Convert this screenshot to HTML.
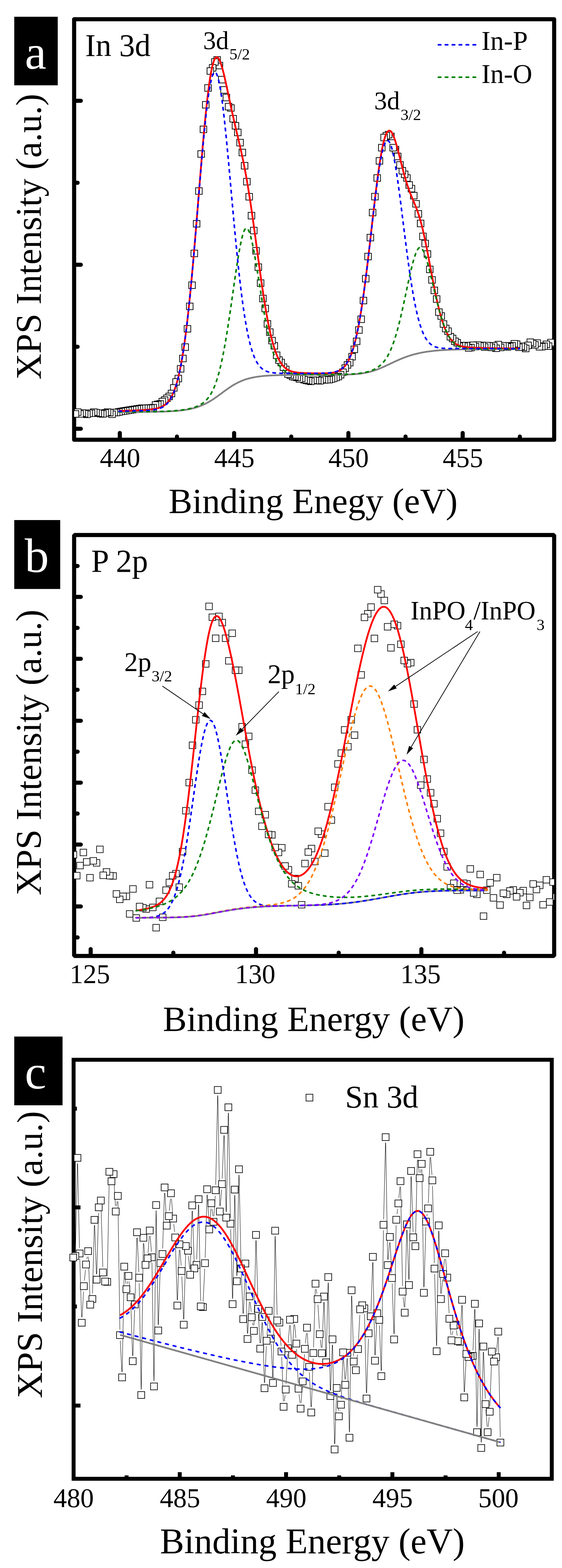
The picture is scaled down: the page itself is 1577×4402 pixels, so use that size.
<!DOCTYPE html>
<html><head><meta charset="utf-8"><style>html,body{margin:0;padding:0;background:#fff}svg{display:block}</style></head>
<body><svg width="1577" height="4402" viewBox="0 0 1577 4402" style="font-family:'Liberation Serif',serif">
<rect width="1577" height="4402" fill="#fff"/>
<defs><clipPath id="ca"><rect x="208" y="54" width="1347" height="1180.6"/></clipPath><clipPath id="cb"><rect x="208" y="1501.9" width="1347" height="1181.8"/></clipPath><clipPath id="cc"><rect x="206.5" y="2975.2" width="1341.8" height="1176.3"/></clipPath></defs>
<rect x="208" y="54" width="1347" height="1180.6" fill="none" stroke="#000" stroke-width="11.5" stroke-linejoin="round"/>
<line x1="211.8" y1="282.9" x2="226.8" y2="282.9" stroke="#000" stroke-width="11.5" stroke-linecap="round"/>
<line x1="211.8" y1="743.3" x2="226.8" y2="743.3" stroke="#000" stroke-width="11.5" stroke-linecap="round"/>
<line x1="211.8" y1="1203.7" x2="226.8" y2="1203.7" stroke="#000" stroke-width="11.5" stroke-linecap="round"/>
<line x1="211.8" y1="513.1" x2="217.8" y2="513.1" stroke="#000" stroke-width="11.5" stroke-linecap="round"/>
<line x1="211.8" y1="973.5" x2="217.8" y2="973.5" stroke="#000" stroke-width="11.5" stroke-linecap="round"/>
<line x1="336.2" y1="1231.0" x2="336.2" y2="1215.5" stroke="#000" stroke-width="11.5" stroke-linecap="round"/>
<line x1="656.9" y1="1231.0" x2="656.9" y2="1215.5" stroke="#000" stroke-width="11.5" stroke-linecap="round"/>
<line x1="977.5999999999999" y1="1231.0" x2="977.5999999999999" y2="1215.5" stroke="#000" stroke-width="11.5" stroke-linecap="round"/>
<line x1="1298.3" y1="1231.0" x2="1298.3" y2="1215.5" stroke="#000" stroke-width="11.5" stroke-linecap="round"/>
<line x1="496.54999999999995" y1="1231.0" x2="496.54999999999995" y2="1225.5" stroke="#000" stroke-width="11.5" stroke-linecap="round"/>
<line x1="817.25" y1="1231.0" x2="817.25" y2="1225.5" stroke="#000" stroke-width="11.5" stroke-linecap="round"/>
<line x1="1137.95" y1="1231.0" x2="1137.95" y2="1225.5" stroke="#000" stroke-width="11.5" stroke-linecap="round"/>
<line x1="1458.65" y1="1231.0" x2="1458.65" y2="1225.5" stroke="#000" stroke-width="11.5" stroke-linecap="round"/>
<g clip-path="url(#ca)">
<rect x="1543.0" y="955.0" width="18.5" height="18.5" fill="#fff" stroke="#000" stroke-width="2"/>
<rect x="1536.7" y="952.5" width="18.5" height="18.5" fill="#fff" stroke="#000" stroke-width="2"/>
<rect x="1530.2" y="962.5" width="18.5" height="18.5" fill="#fff" stroke="#000" stroke-width="2"/>
<rect x="1523.8" y="957.4" width="18.5" height="18.5" fill="#fff" stroke="#000" stroke-width="2"/>
<rect x="1517.3" y="962.6" width="18.5" height="18.5" fill="#fff" stroke="#000" stroke-width="2"/>
<rect x="1511.0" y="964.0" width="18.5" height="18.5" fill="#fff" stroke="#000" stroke-width="2"/>
<rect x="1504.5" y="964.2" width="18.5" height="18.5" fill="#fff" stroke="#000" stroke-width="2"/>
<rect x="1498.2" y="954.0" width="18.5" height="18.5" fill="#fff" stroke="#000" stroke-width="2"/>
<rect x="1491.8" y="959.0" width="18.5" height="18.5" fill="#fff" stroke="#000" stroke-width="2"/>
<rect x="1485.3" y="955.0" width="18.5" height="18.5" fill="#fff" stroke="#000" stroke-width="2"/>
<rect x="1478.8" y="951.5" width="18.5" height="18.5" fill="#fff" stroke="#000" stroke-width="2"/>
<rect x="1472.5" y="960.4" width="18.5" height="18.5" fill="#fff" stroke="#000" stroke-width="2"/>
<rect x="1466.0" y="969.1" width="18.5" height="18.5" fill="#fff" stroke="#000" stroke-width="2"/>
<rect x="1459.7" y="965.5" width="18.5" height="18.5" fill="#fff" stroke="#000" stroke-width="2"/>
<rect x="1453.2" y="963.0" width="18.5" height="18.5" fill="#fff" stroke="#000" stroke-width="2"/>
<rect x="1446.8" y="965.6" width="18.5" height="18.5" fill="#fff" stroke="#000" stroke-width="2"/>
<rect x="1440.5" y="957.0" width="18.5" height="18.5" fill="#fff" stroke="#000" stroke-width="2"/>
<rect x="1434.0" y="955.8" width="18.5" height="18.5" fill="#fff" stroke="#000" stroke-width="2"/>
<rect x="1427.5" y="961.5" width="18.5" height="18.5" fill="#fff" stroke="#000" stroke-width="2"/>
<rect x="1421.2" y="963.0" width="18.5" height="18.5" fill="#fff" stroke="#000" stroke-width="2"/>
<rect x="1414.8" y="964.6" width="18.5" height="18.5" fill="#fff" stroke="#000" stroke-width="2"/>
<rect x="1408.3" y="961.8" width="18.5" height="18.5" fill="#fff" stroke="#000" stroke-width="2"/>
<rect x="1402.0" y="961.6" width="18.5" height="18.5" fill="#fff" stroke="#000" stroke-width="2"/>
<rect x="1395.5" y="966.1" width="18.5" height="18.5" fill="#fff" stroke="#000" stroke-width="2"/>
<rect x="1389.2" y="958.2" width="18.5" height="18.5" fill="#fff" stroke="#000" stroke-width="2"/>
<rect x="1382.7" y="968.5" width="18.5" height="18.5" fill="#fff" stroke="#000" stroke-width="2"/>
<rect x="1376.2" y="961.5" width="18.5" height="18.5" fill="#fff" stroke="#000" stroke-width="2"/>
<rect x="1369.8" y="965.9" width="18.5" height="18.5" fill="#fff" stroke="#000" stroke-width="2"/>
<rect x="1363.5" y="962.1" width="18.5" height="18.5" fill="#fff" stroke="#000" stroke-width="2"/>
<rect x="1357.0" y="961.0" width="18.5" height="18.5" fill="#fff" stroke="#000" stroke-width="2"/>
<rect x="1350.7" y="965.0" width="18.5" height="18.5" fill="#fff" stroke="#000" stroke-width="2"/>
<rect x="1344.2" y="960.6" width="18.5" height="18.5" fill="#fff" stroke="#000" stroke-width="2"/>
<rect x="1337.8" y="962.0" width="18.5" height="18.5" fill="#fff" stroke="#000" stroke-width="2"/>
<rect x="1331.3" y="959.6" width="18.5" height="18.5" fill="#fff" stroke="#000" stroke-width="2"/>
<rect x="1325.0" y="963.8" width="18.5" height="18.5" fill="#fff" stroke="#000" stroke-width="2"/>
<rect x="1318.5" y="960.1" width="18.5" height="18.5" fill="#fff" stroke="#000" stroke-width="2"/>
<rect x="1312.2" y="966.5" width="18.5" height="18.5" fill="#fff" stroke="#000" stroke-width="2"/>
<rect x="1305.8" y="967.5" width="18.5" height="18.5" fill="#fff" stroke="#000" stroke-width="2"/>
<rect x="1299.3" y="960.9" width="18.5" height="18.5" fill="#fff" stroke="#000" stroke-width="2"/>
<rect x="1292.8" y="962.5" width="18.5" height="18.5" fill="#fff" stroke="#000" stroke-width="2"/>
<rect x="1286.5" y="961.0" width="18.5" height="18.5" fill="#fff" stroke="#000" stroke-width="2"/>
<rect x="1280.0" y="962.6" width="18.5" height="18.5" fill="#fff" stroke="#000" stroke-width="2"/>
<rect x="1273.7" y="952.8" width="18.5" height="18.5" fill="#fff" stroke="#000" stroke-width="2"/>
<rect x="1267.2" y="948.8" width="18.5" height="18.5" fill="#fff" stroke="#000" stroke-width="2"/>
<rect x="1260.8" y="941.0" width="18.5" height="18.5" fill="#fff" stroke="#000" stroke-width="2"/>
<rect x="1254.5" y="936.0" width="18.5" height="18.5" fill="#fff" stroke="#000" stroke-width="2"/>
<rect x="1248.0" y="920.5" width="18.5" height="18.5" fill="#fff" stroke="#000" stroke-width="2"/>
<rect x="1241.5" y="913.0" width="18.5" height="18.5" fill="#fff" stroke="#000" stroke-width="2"/>
<rect x="1235.2" y="900.4" width="18.5" height="18.5" fill="#fff" stroke="#000" stroke-width="2"/>
<rect x="1228.8" y="878.0" width="18.5" height="18.5" fill="#fff" stroke="#000" stroke-width="2"/>
<rect x="1222.3" y="867.0" width="18.5" height="18.5" fill="#fff" stroke="#000" stroke-width="2"/>
<rect x="1216.0" y="830.2" width="18.5" height="18.5" fill="#fff" stroke="#000" stroke-width="2"/>
<rect x="1209.5" y="806.0" width="18.5" height="18.5" fill="#fff" stroke="#000" stroke-width="2"/>
<rect x="1203.0" y="776.5" width="18.5" height="18.5" fill="#fff" stroke="#000" stroke-width="2"/>
<rect x="1196.7" y="747.0" width="18.5" height="18.5" fill="#fff" stroke="#000" stroke-width="2"/>
<rect x="1190.2" y="703.9" width="18.5" height="18.5" fill="#fff" stroke="#000" stroke-width="2"/>
<rect x="1183.8" y="674.5" width="18.5" height="18.5" fill="#fff" stroke="#000" stroke-width="2"/>
<rect x="1177.5" y="654.4" width="18.5" height="18.5" fill="#fff" stroke="#000" stroke-width="2"/>
<rect x="1171.0" y="618.1" width="18.5" height="18.5" fill="#fff" stroke="#000" stroke-width="2"/>
<rect x="1164.7" y="591.2" width="18.5" height="18.5" fill="#fff" stroke="#000" stroke-width="2"/>
<rect x="1158.2" y="563.0" width="18.5" height="18.5" fill="#fff" stroke="#000" stroke-width="2"/>
<rect x="1151.8" y="540.0" width="18.5" height="18.5" fill="#fff" stroke="#000" stroke-width="2"/>
<rect x="1145.3" y="520.4" width="18.5" height="18.5" fill="#fff" stroke="#000" stroke-width="2"/>
<rect x="1139.0" y="510.1" width="18.5" height="18.5" fill="#fff" stroke="#000" stroke-width="2"/>
<rect x="1132.5" y="490.4" width="18.5" height="18.5" fill="#fff" stroke="#000" stroke-width="2"/>
<rect x="1126.2" y="480.2" width="18.5" height="18.5" fill="#fff" stroke="#000" stroke-width="2"/>
<rect x="1119.8" y="470.1" width="18.5" height="18.5" fill="#fff" stroke="#000" stroke-width="2"/>
<rect x="1113.2" y="453.8" width="18.5" height="18.5" fill="#fff" stroke="#000" stroke-width="2"/>
<rect x="1106.8" y="429.9" width="18.5" height="18.5" fill="#fff" stroke="#000" stroke-width="2"/>
<rect x="1100.5" y="410.8" width="18.5" height="18.5" fill="#fff" stroke="#000" stroke-width="2"/>
<rect x="1094.0" y="405.4" width="18.5" height="18.5" fill="#fff" stroke="#000" stroke-width="2"/>
<rect x="1087.7" y="373.8" width="18.5" height="18.5" fill="#fff" stroke="#000" stroke-width="2"/>
<rect x="1081.2" y="368.8" width="18.5" height="18.5" fill="#fff" stroke="#000" stroke-width="2"/>
<rect x="1074.8" y="371.8" width="18.5" height="18.5" fill="#fff" stroke="#000" stroke-width="2"/>
<rect x="1068.5" y="376.8" width="18.5" height="18.5" fill="#fff" stroke="#000" stroke-width="2"/>
<rect x="1062.0" y="405.4" width="18.5" height="18.5" fill="#fff" stroke="#000" stroke-width="2"/>
<rect x="1055.5" y="442.4" width="18.5" height="18.5" fill="#fff" stroke="#000" stroke-width="2"/>
<rect x="1049.2" y="490.4" width="18.5" height="18.5" fill="#fff" stroke="#000" stroke-width="2"/>
<rect x="1042.8" y="542.8" width="18.5" height="18.5" fill="#fff" stroke="#000" stroke-width="2"/>
<rect x="1036.3" y="587.5" width="18.5" height="18.5" fill="#fff" stroke="#000" stroke-width="2"/>
<rect x="1030.0" y="657.8" width="18.5" height="18.5" fill="#fff" stroke="#000" stroke-width="2"/>
<rect x="1023.5" y="711.0" width="18.5" height="18.5" fill="#fff" stroke="#000" stroke-width="2"/>
<rect x="1017.0" y="773.1" width="18.5" height="18.5" fill="#fff" stroke="#000" stroke-width="2"/>
<rect x="1010.6" y="834.5" width="18.5" height="18.5" fill="#fff" stroke="#000" stroke-width="2"/>
<rect x="1004.2" y="887.0" width="18.5" height="18.5" fill="#fff" stroke="#000" stroke-width="2"/>
<rect x="997.9" y="917.2" width="18.5" height="18.5" fill="#fff" stroke="#000" stroke-width="2"/>
<rect x="991.5" y="949.1" width="18.5" height="18.5" fill="#fff" stroke="#000" stroke-width="2"/>
<rect x="985.0" y="971.5" width="18.5" height="18.5" fill="#fff" stroke="#000" stroke-width="2"/>
<rect x="978.6" y="992.1" width="18.5" height="18.5" fill="#fff" stroke="#000" stroke-width="2"/>
<rect x="972.1" y="1008.8" width="18.5" height="18.5" fill="#fff" stroke="#000" stroke-width="2"/>
<rect x="965.8" y="1015.2" width="18.5" height="18.5" fill="#fff" stroke="#000" stroke-width="2"/>
<rect x="959.4" y="1024.3" width="18.5" height="18.5" fill="#fff" stroke="#000" stroke-width="2"/>
<rect x="953.0" y="1035.8" width="18.5" height="18.5" fill="#fff" stroke="#000" stroke-width="2"/>
<rect x="946.5" y="1042.8" width="18.5" height="18.5" fill="#fff" stroke="#000" stroke-width="2"/>
<rect x="940.1" y="1047.8" width="18.5" height="18.5" fill="#fff" stroke="#000" stroke-width="2"/>
<rect x="933.8" y="1050.2" width="18.5" height="18.5" fill="#fff" stroke="#000" stroke-width="2"/>
<rect x="927.2" y="1052.8" width="18.5" height="18.5" fill="#fff" stroke="#000" stroke-width="2"/>
<rect x="920.9" y="1054.8" width="18.5" height="18.5" fill="#fff" stroke="#000" stroke-width="2"/>
<rect x="914.5" y="1056.5" width="18.5" height="18.5" fill="#fff" stroke="#000" stroke-width="2"/>
<rect x="908.0" y="1056.8" width="18.5" height="18.5" fill="#fff" stroke="#000" stroke-width="2"/>
<rect x="901.6" y="1057.3" width="18.5" height="18.5" fill="#fff" stroke="#000" stroke-width="2"/>
<rect x="895.2" y="1056.2" width="18.5" height="18.5" fill="#fff" stroke="#000" stroke-width="2"/>
<rect x="888.9" y="1059.8" width="18.5" height="18.5" fill="#fff" stroke="#000" stroke-width="2"/>
<rect x="882.4" y="1058.8" width="18.5" height="18.5" fill="#fff" stroke="#000" stroke-width="2"/>
<rect x="876.0" y="1059.2" width="18.5" height="18.5" fill="#fff" stroke="#000" stroke-width="2"/>
<rect x="869.5" y="1058.2" width="18.5" height="18.5" fill="#fff" stroke="#000" stroke-width="2"/>
<rect x="863.1" y="1061.3" width="18.5" height="18.5" fill="#fff" stroke="#000" stroke-width="2"/>
<rect x="856.8" y="1059.8" width="18.5" height="18.5" fill="#fff" stroke="#000" stroke-width="2"/>
<rect x="850.4" y="1058.7" width="18.5" height="18.5" fill="#fff" stroke="#000" stroke-width="2"/>
<rect x="844.0" y="1056.8" width="18.5" height="18.5" fill="#fff" stroke="#000" stroke-width="2"/>
<rect x="837.5" y="1052.8" width="18.5" height="18.5" fill="#fff" stroke="#000" stroke-width="2"/>
<rect x="831.0" y="1054.5" width="18.5" height="18.5" fill="#fff" stroke="#000" stroke-width="2"/>
<rect x="824.6" y="1050.5" width="18.5" height="18.5" fill="#fff" stroke="#000" stroke-width="2"/>
<rect x="818.2" y="1048.8" width="18.5" height="18.5" fill="#fff" stroke="#000" stroke-width="2"/>
<rect x="811.9" y="1047.8" width="18.5" height="18.5" fill="#fff" stroke="#000" stroke-width="2"/>
<rect x="805.5" y="1043.8" width="18.5" height="18.5" fill="#fff" stroke="#000" stroke-width="2"/>
<rect x="799.0" y="1041.0" width="18.5" height="18.5" fill="#fff" stroke="#000" stroke-width="2"/>
<rect x="792.6" y="1028.0" width="18.5" height="18.5" fill="#fff" stroke="#000" stroke-width="2"/>
<rect x="786.1" y="1021.5" width="18.5" height="18.5" fill="#fff" stroke="#000" stroke-width="2"/>
<rect x="779.8" y="1008.5" width="18.5" height="18.5" fill="#fff" stroke="#000" stroke-width="2"/>
<rect x="773.4" y="1001.6" width="18.5" height="18.5" fill="#fff" stroke="#000" stroke-width="2"/>
<rect x="767.0" y="988.1" width="18.5" height="18.5" fill="#fff" stroke="#000" stroke-width="2"/>
<rect x="760.5" y="961.5" width="18.5" height="18.5" fill="#fff" stroke="#000" stroke-width="2"/>
<rect x="754.1" y="946.9" width="18.5" height="18.5" fill="#fff" stroke="#000" stroke-width="2"/>
<rect x="747.8" y="923.2" width="18.5" height="18.5" fill="#fff" stroke="#000" stroke-width="2"/>
<rect x="741.2" y="900.0" width="18.5" height="18.5" fill="#fff" stroke="#000" stroke-width="2"/>
<rect x="734.9" y="856.9" width="18.5" height="18.5" fill="#fff" stroke="#000" stroke-width="2"/>
<rect x="728.5" y="828.8" width="18.5" height="18.5" fill="#fff" stroke="#000" stroke-width="2"/>
<rect x="722.0" y="785.5" width="18.5" height="18.5" fill="#fff" stroke="#000" stroke-width="2"/>
<rect x="715.6" y="740.8" width="18.5" height="18.5" fill="#fff" stroke="#000" stroke-width="2"/>
<rect x="709.2" y="694.8" width="18.5" height="18.5" fill="#fff" stroke="#000" stroke-width="2"/>
<rect x="702.9" y="638.0" width="18.5" height="18.5" fill="#fff" stroke="#000" stroke-width="2"/>
<rect x="696.4" y="596.2" width="18.5" height="18.5" fill="#fff" stroke="#000" stroke-width="2"/>
<rect x="690.0" y="543.1" width="18.5" height="18.5" fill="#fff" stroke="#000" stroke-width="2"/>
<rect x="683.5" y="500.8" width="18.5" height="18.5" fill="#fff" stroke="#000" stroke-width="2"/>
<rect x="677.1" y="456.1" width="18.5" height="18.5" fill="#fff" stroke="#000" stroke-width="2"/>
<rect x="670.8" y="418.9" width="18.5" height="18.5" fill="#fff" stroke="#000" stroke-width="2"/>
<rect x="664.4" y="391.2" width="18.5" height="18.5" fill="#fff" stroke="#000" stroke-width="2"/>
<rect x="658.0" y="362.6" width="18.5" height="18.5" fill="#fff" stroke="#000" stroke-width="2"/>
<rect x="651.5" y="343.9" width="18.5" height="18.5" fill="#fff" stroke="#000" stroke-width="2"/>
<rect x="645.0" y="324.1" width="18.5" height="18.5" fill="#fff" stroke="#000" stroke-width="2"/>
<rect x="638.6" y="293.8" width="18.5" height="18.5" fill="#fff" stroke="#000" stroke-width="2"/>
<rect x="632.2" y="290.1" width="18.5" height="18.5" fill="#fff" stroke="#000" stroke-width="2"/>
<rect x="625.9" y="264.6" width="18.5" height="18.5" fill="#fff" stroke="#000" stroke-width="2"/>
<rect x="619.5" y="243.2" width="18.5" height="18.5" fill="#fff" stroke="#000" stroke-width="2"/>
<rect x="613.0" y="214.3" width="18.5" height="18.5" fill="#fff" stroke="#000" stroke-width="2"/>
<rect x="606.5" y="174.8" width="18.5" height="18.5" fill="#fff" stroke="#000" stroke-width="2"/>
<rect x="600.1" y="158.9" width="18.5" height="18.5" fill="#fff" stroke="#000" stroke-width="2"/>
<rect x="593.8" y="164.8" width="18.5" height="18.5" fill="#fff" stroke="#000" stroke-width="2"/>
<rect x="587.4" y="181.2" width="18.5" height="18.5" fill="#fff" stroke="#000" stroke-width="2"/>
<rect x="581.0" y="190.1" width="18.5" height="18.5" fill="#fff" stroke="#000" stroke-width="2"/>
<rect x="574.5" y="237.7" width="18.5" height="18.5" fill="#fff" stroke="#000" stroke-width="2"/>
<rect x="568.1" y="284.9" width="18.5" height="18.5" fill="#fff" stroke="#000" stroke-width="2"/>
<rect x="561.6" y="353.9" width="18.5" height="18.5" fill="#fff" stroke="#000" stroke-width="2"/>
<rect x="555.2" y="423.1" width="18.5" height="18.5" fill="#fff" stroke="#000" stroke-width="2"/>
<rect x="548.9" y="527.1" width="18.5" height="18.5" fill="#fff" stroke="#000" stroke-width="2"/>
<rect x="542.5" y="618.9" width="18.5" height="18.5" fill="#fff" stroke="#000" stroke-width="2"/>
<rect x="536.0" y="702.2" width="18.5" height="18.5" fill="#fff" stroke="#000" stroke-width="2"/>
<rect x="529.6" y="791.5" width="18.5" height="18.5" fill="#fff" stroke="#000" stroke-width="2"/>
<rect x="523.2" y="850.8" width="18.5" height="18.5" fill="#fff" stroke="#000" stroke-width="2"/>
<rect x="516.8" y="913.8" width="18.5" height="18.5" fill="#fff" stroke="#000" stroke-width="2"/>
<rect x="510.4" y="965.2" width="18.5" height="18.5" fill="#fff" stroke="#000" stroke-width="2"/>
<rect x="504.0" y="997.2" width="18.5" height="18.5" fill="#fff" stroke="#000" stroke-width="2"/>
<rect x="497.6" y="1026.2" width="18.5" height="18.5" fill="#fff" stroke="#000" stroke-width="2"/>
<rect x="491.1" y="1053.5" width="18.5" height="18.5" fill="#fff" stroke="#000" stroke-width="2"/>
<rect x="484.8" y="1063.0" width="18.5" height="18.5" fill="#fff" stroke="#000" stroke-width="2"/>
<rect x="478.4" y="1079.8" width="18.5" height="18.5" fill="#fff" stroke="#000" stroke-width="2"/>
<rect x="471.9" y="1095.5" width="18.5" height="18.5" fill="#fff" stroke="#000" stroke-width="2"/>
<rect x="465.4" y="1103.7" width="18.5" height="18.5" fill="#fff" stroke="#000" stroke-width="2"/>
<rect x="459.1" y="1108.8" width="18.5" height="18.5" fill="#fff" stroke="#000" stroke-width="2"/>
<rect x="452.6" y="1114.0" width="18.5" height="18.5" fill="#fff" stroke="#000" stroke-width="2"/>
<rect x="446.2" y="1118.2" width="18.5" height="18.5" fill="#fff" stroke="#000" stroke-width="2"/>
<rect x="439.9" y="1124.7" width="18.5" height="18.5" fill="#fff" stroke="#000" stroke-width="2"/>
<rect x="433.4" y="1126.0" width="18.5" height="18.5" fill="#fff" stroke="#000" stroke-width="2"/>
<rect x="427.1" y="1127.8" width="18.5" height="18.5" fill="#fff" stroke="#000" stroke-width="2"/>
<rect x="420.6" y="1135.2" width="18.5" height="18.5" fill="#fff" stroke="#000" stroke-width="2"/>
<rect x="414.1" y="1136.0" width="18.5" height="18.5" fill="#fff" stroke="#000" stroke-width="2"/>
<rect x="407.8" y="1136.5" width="18.5" height="18.5" fill="#fff" stroke="#000" stroke-width="2"/>
<rect x="401.4" y="1136.8" width="18.5" height="18.5" fill="#fff" stroke="#000" stroke-width="2"/>
<rect x="394.9" y="1136.8" width="18.5" height="18.5" fill="#fff" stroke="#000" stroke-width="2"/>
<rect x="388.6" y="1136.8" width="18.5" height="18.5" fill="#fff" stroke="#000" stroke-width="2"/>
<rect x="382.1" y="1137.8" width="18.5" height="18.5" fill="#fff" stroke="#000" stroke-width="2"/>
<rect x="375.6" y="1138.8" width="18.5" height="18.5" fill="#fff" stroke="#000" stroke-width="2"/>
<rect x="369.2" y="1139.8" width="18.5" height="18.5" fill="#fff" stroke="#000" stroke-width="2"/>
<rect x="362.9" y="1140.8" width="18.5" height="18.5" fill="#fff" stroke="#000" stroke-width="2"/>
<rect x="356.4" y="1141.8" width="18.5" height="18.5" fill="#fff" stroke="#000" stroke-width="2"/>
<rect x="350.1" y="1142.8" width="18.5" height="18.5" fill="#fff" stroke="#000" stroke-width="2"/>
<rect x="343.6" y="1143.8" width="18.5" height="18.5" fill="#fff" stroke="#000" stroke-width="2"/>
<rect x="337.2" y="1144.8" width="18.5" height="18.5" fill="#fff" stroke="#000" stroke-width="2"/>
<rect x="330.8" y="1145.8" width="18.5" height="18.5" fill="#fff" stroke="#000" stroke-width="2"/>
<rect x="324.4" y="1147.2" width="18.5" height="18.5" fill="#fff" stroke="#000" stroke-width="2"/>
<rect x="317.9" y="1148.8" width="18.5" height="18.5" fill="#fff" stroke="#000" stroke-width="2"/>
<rect x="311.6" y="1148.8" width="18.5" height="18.5" fill="#fff" stroke="#000" stroke-width="2"/>
<rect x="305.1" y="1153.7" width="18.5" height="18.5" fill="#fff" stroke="#000" stroke-width="2"/>
<rect x="298.8" y="1149.2" width="18.5" height="18.5" fill="#fff" stroke="#000" stroke-width="2"/>
<rect x="292.4" y="1147.8" width="18.5" height="18.5" fill="#fff" stroke="#000" stroke-width="2"/>
<rect x="285.9" y="1150.0" width="18.5" height="18.5" fill="#fff" stroke="#000" stroke-width="2"/>
<rect x="279.4" y="1152.8" width="18.5" height="18.5" fill="#fff" stroke="#000" stroke-width="2"/>
<rect x="273.1" y="1152.0" width="18.5" height="18.5" fill="#fff" stroke="#000" stroke-width="2"/>
<rect x="266.6" y="1150.8" width="18.5" height="18.5" fill="#fff" stroke="#000" stroke-width="2"/>
<rect x="260.2" y="1149.2" width="18.5" height="18.5" fill="#fff" stroke="#000" stroke-width="2"/>
<rect x="253.9" y="1147.8" width="18.5" height="18.5" fill="#fff" stroke="#000" stroke-width="2"/>
<rect x="247.4" y="1150.8" width="18.5" height="18.5" fill="#fff" stroke="#000" stroke-width="2"/>
<rect x="240.9" y="1151.0" width="18.5" height="18.5" fill="#fff" stroke="#000" stroke-width="2"/>
<rect x="234.6" y="1154.0" width="18.5" height="18.5" fill="#fff" stroke="#000" stroke-width="2"/>
<rect x="228.2" y="1152.3" width="18.5" height="18.5" fill="#fff" stroke="#000" stroke-width="2"/>
<rect x="221.8" y="1150.3" width="18.5" height="18.5" fill="#fff" stroke="#000" stroke-width="2"/>
<rect x="215.3" y="1152.8" width="18.5" height="18.5" fill="#fff" stroke="#000" stroke-width="2"/>
<rect x="208.9" y="1147.8" width="18.5" height="18.5" fill="#fff" stroke="#000" stroke-width="2"/>
<rect x="202.6" y="1152.8" width="18.5" height="18.5" fill="#fff" stroke="#000" stroke-width="2"/>
</g>
<path d="M334.0,1156.6 L336.0,1156.6 L338.0,1156.6 L340.0,1156.6 L342.0,1156.6 L344.0,1156.6 L346.0,1156.6 L348.0,1156.6 L350.0,1156.6 L352.0,1156.6 L354.0,1156.6 L356.0,1156.6 L358.0,1156.6 L360.0,1156.6 L362.0,1156.6 L364.0,1156.6 L366.0,1156.6 L368.0,1156.6 L370.0,1156.5 L372.0,1156.5 L374.0,1156.5 L376.0,1156.5 L378.0,1156.5 L380.0,1156.5 L382.0,1156.5 L384.0,1156.5 L386.0,1156.5 L388.0,1156.5 L390.0,1156.5 L392.0,1156.5 L394.0,1156.4 L396.0,1156.4 L398.0,1156.4 L400.0,1156.4 L402.0,1156.4 L404.0,1156.4 L406.0,1156.4 L408.0,1156.3 L410.0,1156.3 L412.0,1156.3 L414.0,1156.3 L416.0,1156.3 L418.0,1156.2 L420.0,1156.2 L422.0,1156.2 L424.0,1156.2 L426.0,1156.2 L428.0,1156.1 L430.0,1156.1 L432.0,1156.1 L434.0,1156.0 L436.0,1156.0 L438.0,1156.0 L440.0,1155.9 L442.0,1155.9 L444.0,1155.8 L446.0,1155.8 L448.0,1155.7 L450.0,1155.7 L452.0,1155.6 L454.0,1155.6 L456.0,1155.5 L458.0,1155.5 L460.0,1155.4 L462.0,1155.3 L464.0,1155.3 L466.0,1155.2 L468.0,1155.1 L470.0,1155.0 L472.0,1154.9 L474.0,1154.8 L476.0,1154.7 L478.0,1154.6 L480.0,1154.5 L482.0,1154.4 L484.0,1154.3 L486.0,1154.2 L488.0,1154.0 L490.0,1153.9 L492.0,1153.7 L494.0,1153.6 L496.0,1153.4 L498.0,1153.3 L500.0,1153.1 L502.0,1152.9 L504.0,1152.7 L506.0,1152.5 L508.0,1152.2 L510.0,1152.0 L512.0,1151.8 L514.0,1151.5 L516.0,1151.2 L518.0,1150.9 L520.0,1150.6 L522.0,1150.3 L524.0,1150.0 L526.0,1149.7 L528.0,1149.3 L530.0,1148.9 L532.0,1148.5 L534.0,1148.1 L536.0,1147.7 L538.0,1147.2 L540.0,1146.7 L542.0,1146.2 L544.0,1145.7 L546.0,1145.1 L548.0,1144.6 L550.0,1144.0 L552.0,1143.4 L554.0,1142.7 L556.0,1142.0 L558.0,1141.3 L560.0,1140.6 L562.0,1139.8 L564.0,1139.0 L566.0,1138.2 L568.0,1137.4 L570.0,1136.5 L572.0,1135.6 L574.0,1134.6 L576.0,1133.7 L578.0,1132.6 L580.0,1131.6 L582.0,1130.5 L584.0,1129.4 L586.0,1128.3 L588.0,1127.1 L590.0,1125.9 L592.0,1124.7 L594.0,1123.5 L596.0,1122.2 L598.0,1120.9 L600.0,1119.5 L602.0,1118.2 L604.0,1116.8 L606.0,1115.4 L608.0,1114.0 L610.0,1112.6 L612.0,1111.1 L614.0,1109.7 L616.0,1108.2 L618.0,1106.7 L620.0,1105.3 L622.0,1103.8 L624.0,1102.3 L626.0,1100.8 L628.0,1099.4 L630.0,1097.9 L632.0,1096.4 L634.0,1095.0 L636.0,1093.6 L638.0,1092.1 L640.0,1090.7 L642.0,1089.4 L644.0,1088.0 L646.0,1086.7 L648.0,1085.4 L650.0,1084.1 L652.0,1082.8 L654.0,1081.6 L656.0,1080.4 L658.0,1079.2 L660.0,1078.1 L662.0,1077.0 L664.0,1075.9 L666.0,1074.9 L668.0,1073.9 L670.0,1072.9 L672.0,1072.0 L674.0,1071.1 L676.0,1070.2 L678.0,1069.4 L680.0,1068.5 L682.0,1067.8 L684.0,1067.0 L686.0,1066.3 L688.0,1065.6 L690.0,1064.9 L692.0,1064.3 L694.0,1063.7 L696.0,1063.1 L698.0,1062.6 L700.0,1062.1 L702.0,1061.6 L704.0,1061.1 L706.0,1060.6 L708.0,1060.2 L710.0,1059.8 L712.0,1059.4 L714.0,1059.0 L716.0,1058.6 L718.0,1058.3 L720.0,1058.0 L722.0,1057.7 L724.0,1057.4 L726.0,1057.1 L728.0,1056.8 L730.0,1056.6 L732.0,1056.4 L734.0,1056.1 L736.0,1055.9 L738.0,1055.7 L740.0,1055.5 L742.0,1055.4 L744.0,1055.2 L746.0,1055.0 L748.0,1054.9 L750.0,1054.7 L752.0,1054.6 L754.0,1054.5 L756.0,1054.3 L758.0,1054.2 L760.0,1054.1 L762.0,1054.0 L764.0,1053.9 L766.0,1053.8 L768.0,1053.7 L770.0,1053.7 L772.0,1053.6 L774.0,1053.5 L776.0,1053.4 L778.0,1053.4 L780.0,1053.3 L782.0,1053.2 L784.0,1053.2 L786.0,1053.1 L788.0,1053.1 L790.0,1053.0 L792.0,1053.0 L794.0,1053.0 L796.0,1052.9 L798.0,1052.9 L800.0,1052.8 L802.0,1052.8 L804.0,1052.8 L806.0,1052.7 L808.0,1052.7 L810.0,1052.7 L812.0,1052.7 L814.0,1052.6 L816.0,1052.6 L818.0,1052.6 L820.0,1052.6 L822.0,1052.6 L824.0,1052.5 L826.0,1052.5 L828.0,1052.5 L830.0,1052.5 L832.0,1052.5 L834.0,1052.5 L836.0,1052.5 L838.0,1052.5 L840.0,1052.4 L842.0,1052.4 L844.0,1052.4 L846.0,1052.4 L848.0,1052.4 L850.0,1052.4 L852.0,1052.4 L854.0,1052.4 L856.0,1052.4 L858.0,1052.4 L860.0,1052.4 L862.0,1052.4 L864.0,1052.3 L866.0,1052.3 L868.0,1052.3 L870.0,1052.3 L872.0,1052.3 L874.0,1052.3 L876.0,1052.3 L878.0,1052.3 L880.0,1052.3 L882.0,1052.3 L884.0,1052.3 L886.0,1052.3 L888.0,1052.3 L890.0,1052.3 L892.0,1052.3 L894.0,1052.3 L896.0,1052.3 L898.0,1052.3 L900.0,1052.3 L902.0,1052.3 L904.0,1052.3 L906.0,1052.3 L908.0,1052.3 L910.0,1052.2 L912.0,1052.2 L914.0,1052.2 L916.0,1052.2 L918.0,1052.2 L920.0,1052.2 L922.0,1052.2 L924.0,1052.2 L926.0,1052.2 L928.0,1052.2 L930.0,1052.2 L932.0,1052.2 L934.0,1052.2 L936.0,1052.2 L938.0,1052.1 L940.0,1052.1 L942.0,1052.1 L944.0,1052.1 L946.0,1052.1 L948.0,1052.1 L950.0,1052.0 L952.0,1052.0 L954.0,1052.0 L956.0,1052.0 L958.0,1051.9 L960.0,1051.9 L962.0,1051.9 L964.0,1051.8 L966.0,1051.8 L968.0,1051.7 L970.0,1051.7 L972.0,1051.6 L974.0,1051.5 L976.0,1051.5 L978.0,1051.4 L980.0,1051.3 L982.0,1051.2 L984.0,1051.1 L986.0,1051.0 L988.0,1050.9 L990.0,1050.8 L992.0,1050.7 L994.0,1050.6 L996.0,1050.4 L998.0,1050.2 L1000.0,1050.1 L1002.0,1049.9 L1004.0,1049.7 L1006.0,1049.5 L1008.0,1049.3 L1010.0,1049.0 L1012.0,1048.8 L1014.0,1048.5 L1016.0,1048.2 L1018.0,1047.9 L1020.0,1047.6 L1022.0,1047.2 L1024.0,1046.9 L1026.0,1046.5 L1028.0,1046.1 L1030.0,1045.7 L1032.0,1045.2 L1034.0,1044.8 L1036.0,1044.3 L1038.0,1043.8 L1040.0,1043.2 L1042.0,1042.7 L1044.0,1042.1 L1046.0,1041.5 L1048.0,1040.9 L1050.0,1040.2 L1052.0,1039.6 L1054.0,1038.9 L1056.0,1038.2 L1058.0,1037.4 L1060.0,1036.7 L1062.0,1035.9 L1064.0,1035.1 L1066.0,1034.3 L1068.0,1033.5 L1070.0,1032.6 L1072.0,1031.8 L1074.0,1030.9 L1076.0,1030.0 L1078.0,1029.1 L1080.0,1028.2 L1082.0,1027.3 L1084.0,1026.4 L1086.0,1025.4 L1088.0,1024.5 L1090.0,1023.6 L1092.0,1022.6 L1094.0,1021.7 L1096.0,1020.7 L1098.0,1019.8 L1100.0,1018.8 L1102.0,1017.9 L1104.0,1016.9 L1106.0,1016.0 L1108.0,1015.1 L1110.0,1014.2 L1112.0,1013.2 L1114.0,1012.3 L1116.0,1011.5 L1118.0,1010.6 L1120.0,1009.7 L1122.0,1008.8 L1124.0,1008.0 L1126.0,1007.2 L1128.0,1006.3 L1130.0,1005.5 L1132.0,1004.8 L1134.0,1004.0 L1136.0,1003.2 L1138.0,1002.5 L1140.0,1001.7 L1142.0,1001.0 L1144.0,1000.3 L1146.0,999.7 L1148.0,999.0 L1150.0,998.4 L1152.0,997.7 L1154.0,997.1 L1156.0,996.5 L1158.0,995.9 L1160.0,995.4 L1162.0,994.8 L1164.0,994.3 L1166.0,993.8 L1168.0,993.3 L1170.0,992.8 L1172.0,992.3 L1174.0,991.9 L1176.0,991.4 L1178.0,991.0 L1180.0,990.6 L1182.0,990.2 L1184.0,989.8 L1186.0,989.4 L1188.0,989.1 L1190.0,988.7 L1192.0,988.4 L1194.0,988.1 L1196.0,987.7 L1198.0,987.4 L1200.0,987.1 L1202.0,986.9 L1204.0,986.6 L1206.0,986.3 L1208.0,986.1 L1210.0,985.8 L1212.0,985.6 L1214.0,985.4 L1216.0,985.2 L1218.0,984.9 L1220.0,984.7 L1222.0,984.5 L1224.0,984.4 L1226.0,984.2 L1228.0,984.0 L1230.0,983.8 L1232.0,983.7 L1234.0,983.5 L1236.0,983.4 L1238.0,983.2 L1240.0,983.1 L1242.0,983.0 L1244.0,982.8 L1246.0,982.7 L1248.0,982.6 L1250.0,982.5 L1252.0,982.4 L1254.0,982.3 L1256.0,982.2 L1258.0,982.1 L1260.0,982.0 L1262.0,981.9 L1264.0,981.8 L1266.0,981.7 L1268.0,981.7 L1270.0,981.6 L1272.0,981.5 L1274.0,981.4 L1276.0,981.4 L1278.0,981.3 L1280.0,981.3 L1282.0,981.2 L1284.0,981.1 L1286.0,981.1 L1288.0,981.0 L1290.0,981.0 L1292.0,980.9 L1294.0,980.9 L1296.0,980.9 L1298.0,980.8 L1300.0,980.8 L1302.0,980.7 L1304.0,980.7 L1306.0,980.7 L1308.0,980.6 L1310.0,980.6 L1312.0,980.6 L1314.0,980.5 L1316.0,980.5 L1318.0,980.5 L1320.0,980.4 L1322.0,980.4 L1324.0,980.4 L1326.0,980.4 L1328.0,980.4 L1330.0,980.3 L1332.0,980.3 L1334.0,980.3 L1336.0,980.3 L1338.0,980.3 L1340.0,980.2 L1342.0,980.2 L1344.0,980.2 L1346.0,980.2 L1348.0,980.2 L1350.0,980.2 L1352.0,980.1 L1354.0,980.1 L1356.0,980.1 L1358.0,980.1 L1360.0,980.1 L1362.0,980.1 L1364.0,980.1 L1366.0,980.1 L1368.0,980.1 L1370.0,980.0 L1372.0,980.0 L1374.0,980.0 L1376.0,980.0 L1378.0,980.0 L1380.0,980.0 L1382.0,980.0 L1384.0,980.0 L1386.0,980.0 L1388.0,980.0 L1390.0,980.0 L1392.0,980.0 L1394.0,980.0 L1396.0,980.0 L1398.0,979.9 L1400.0,979.9 L1402.0,979.9 L1404.0,979.9 L1406.0,979.9 L1408.0,979.9 L1410.0,979.9 L1412.0,979.9 L1414.0,979.9 L1416.0,979.9 L1418.0,979.9 L1420.0,979.9 L1422.0,979.9 L1424.0,979.9 L1426.0,979.9 L1428.0,979.9 L1430.0,979.9 L1432.0,979.9 L1434.0,979.9 L1436.0,979.9 L1438.0,979.9 L1440.0,979.9 L1442.0,979.9 L1444.0,979.9 L1446.0,979.9 L1448.0,979.9 L1450.0,979.9 L1452.0,979.9 L1454.0,979.9 L1456.0,979.9 L1458.0,979.9" fill="none" stroke="#808080" stroke-width="4.8"/>
<path d="M334.0,1153.6 L336.0,1153.5 L338.0,1153.5 L340.0,1153.4 L342.0,1153.4 L344.0,1153.4 L346.0,1153.3 L348.0,1153.3 L350.0,1153.2 L352.0,1153.1 L354.0,1153.1 L356.0,1153.0 L358.0,1153.0 L360.0,1152.9 L362.0,1152.9 L364.0,1152.8 L366.0,1152.7 L368.0,1152.7 L370.0,1152.6 L372.0,1152.5 L374.0,1152.5 L376.0,1152.4 L378.0,1152.3 L380.0,1152.2 L382.0,1152.1 L384.0,1152.1 L386.0,1152.0 L388.0,1151.9 L390.0,1151.8 L392.0,1151.7 L394.0,1151.6 L396.0,1151.5 L398.0,1151.4 L400.0,1151.3 L402.0,1151.2 L404.0,1151.0 L406.0,1150.9 L408.0,1150.8 L410.0,1150.6 L412.0,1150.5 L414.0,1150.3 L416.0,1150.1 L418.0,1149.9 L420.0,1149.8 L422.0,1149.5 L424.0,1149.3 L426.0,1149.1 L428.0,1148.8 L430.0,1148.5 L432.0,1148.2 L434.0,1147.9 L436.0,1147.5 L438.0,1147.1 L440.0,1146.6 L442.0,1146.1 L444.0,1145.6 L446.0,1144.9 L448.0,1144.3 L450.0,1143.5 L452.0,1142.7 L454.0,1141.8 L456.0,1140.8 L458.0,1139.6 L460.0,1138.4 L462.0,1137.0 L464.0,1135.4 L466.0,1133.7 L468.0,1131.9 L470.0,1129.8 L472.0,1127.5 L474.0,1125.0 L476.0,1122.2 L478.0,1119.1 L480.0,1115.8 L482.0,1112.1 L484.0,1108.0 L486.0,1103.6 L488.0,1098.8 L490.0,1093.6 L492.0,1087.9 L494.0,1081.8 L496.0,1075.1 L498.0,1067.9 L500.0,1060.1 L502.0,1051.8 L504.0,1042.8 L506.0,1033.1 L508.0,1022.9 L510.0,1011.9 L512.0,1000.2 L514.0,987.7 L516.0,974.6 L518.0,960.6 L520.0,946.0 L522.0,930.5 L524.0,914.3 L526.0,897.2 L528.0,879.5 L530.0,860.9 L532.0,841.7 L534.0,821.7 L536.0,801.1 L538.0,779.8 L540.0,757.8 L542.0,735.4 L544.0,712.4 L546.0,688.9 L548.0,665.0 L550.0,640.8 L552.0,616.4 L554.0,591.7 L556.0,566.9 L558.0,542.2 L560.0,517.4 L562.0,492.9 L564.0,468.5 L566.0,444.5 L568.0,421.0 L570.0,397.9 L572.0,375.5 L574.0,353.8 L576.0,333.0 L578.0,313.0 L580.0,293.9 L582.0,276.0 L584.0,259.2 L586.0,243.6 L588.0,229.2 L590.0,216.1 L592.0,204.4 L594.0,194.1 L596.0,185.2 L598.0,177.6 L600.0,171.5 L602.0,166.8 L604.0,163.4 L606.0,161.3 L608.0,160.6 L610.0,161.0 L612.0,162.6 L614.0,165.3 L616.0,169.0 L618.0,173.7 L620.0,179.1 L622.0,185.4 L624.0,192.3 L626.0,199.7 L628.0,207.7 L630.0,216.1 L632.0,224.9 L634.0,233.9 L636.0,243.1 L638.0,252.5 L640.0,261.9 L642.0,271.4 L644.0,280.8 L646.0,290.2 L648.0,299.5 L650.0,308.7 L652.0,317.9 L654.0,326.8 L656.0,335.7 L658.0,344.5 L660.0,353.1 L662.0,361.7 L664.0,370.2 L666.0,378.7 L668.0,387.2 L670.0,395.8 L672.0,404.4 L674.0,413.1 L676.0,422.0 L678.0,431.0 L680.0,440.3 L682.0,449.8 L684.0,459.6 L686.0,469.7 L688.0,480.2 L690.0,491.0 L692.0,502.2 L694.0,513.7 L696.0,525.6 L698.0,537.9 L700.0,550.6 L702.0,563.6 L704.0,576.9 L706.0,590.5 L708.0,604.4 L710.0,618.6 L712.0,632.9 L714.0,647.4 L716.0,662.1 L718.0,676.9 L720.0,691.7 L722.0,706.5 L724.0,721.3 L726.0,736.0 L728.0,750.6 L730.0,765.1 L732.0,779.3 L734.0,793.3 L736.0,807.0 L738.0,820.5 L740.0,833.6 L742.0,846.3 L744.0,858.6 L746.0,870.6 L748.0,882.1 L750.0,893.1 L752.0,903.7 L754.0,913.9 L756.0,923.6 L758.0,932.8 L760.0,941.5 L762.0,949.7 L764.0,957.5 L766.0,964.8 L768.0,971.7 L770.0,978.2 L772.0,984.2 L774.0,989.8 L776.0,995.0 L778.0,999.8 L780.0,1004.3 L782.0,1008.4 L784.0,1012.2 L786.0,1015.6 L788.0,1018.8 L790.0,1021.7 L792.0,1024.4 L794.0,1026.8 L796.0,1029.0 L798.0,1030.9 L800.0,1032.7 L802.0,1034.4 L804.0,1035.8 L806.0,1037.1 L808.0,1038.3 L810.0,1039.3 L812.0,1040.3 L814.0,1041.1 L816.0,1041.9 L818.0,1042.5 L820.0,1043.1 L822.0,1043.7 L824.0,1044.1 L826.0,1044.5 L828.0,1044.9 L830.0,1045.2 L832.0,1045.5 L834.0,1045.8 L836.0,1046.0 L838.0,1046.2 L840.0,1046.4 L842.0,1046.6 L844.0,1046.7 L846.0,1046.9 L848.0,1047.0 L850.0,1047.1 L852.0,1047.2 L854.0,1047.3 L856.0,1047.4 L858.0,1047.5 L860.0,1047.5 L862.0,1047.6 L864.0,1047.6 L866.0,1047.7 L868.0,1047.8 L870.0,1047.8 L872.0,1047.8 L874.0,1047.9 L876.0,1047.9 L878.0,1048.0 L880.0,1048.0 L882.0,1048.0 L884.0,1048.1 L886.0,1048.1 L888.0,1048.1 L890.0,1048.1 L892.0,1048.1 L894.0,1048.1 L896.0,1048.2 L898.0,1048.2 L900.0,1048.2 L902.0,1048.2 L904.0,1048.1 L906.0,1048.1 L908.0,1048.1 L910.0,1048.1 L912.0,1048.0 L914.0,1048.0 L916.0,1047.9 L918.0,1047.8 L920.0,1047.7 L922.0,1047.6 L924.0,1047.4 L926.0,1047.3 L928.0,1047.1 L930.0,1046.8 L932.0,1046.6 L934.0,1046.3 L936.0,1045.9 L938.0,1045.5 L940.0,1045.0 L942.0,1044.5 L944.0,1043.9 L946.0,1043.2 L948.0,1042.5 L950.0,1041.6 L952.0,1040.6 L954.0,1039.5 L956.0,1038.3 L958.0,1036.9 L960.0,1035.4 L962.0,1033.7 L964.0,1031.8 L966.0,1029.7 L968.0,1027.4 L970.0,1024.8 L972.0,1022.0 L974.0,1018.9 L976.0,1015.5 L978.0,1011.8 L980.0,1007.7 L982.0,1003.3 L984.0,998.5 L986.0,993.3 L988.0,987.7 L990.0,981.7 L992.0,975.1 L994.0,968.1 L996.0,960.6 L998.0,952.6 L1000.0,944.1 L1002.0,935.0 L1004.0,925.4 L1006.0,915.2 L1008.0,904.4 L1010.0,893.1 L1012.0,881.2 L1014.0,868.8 L1016.0,855.7 L1018.0,842.2 L1020.0,828.1 L1022.0,813.5 L1024.0,798.5 L1026.0,782.9 L1028.0,767.0 L1030.0,750.6 L1032.0,734.0 L1034.0,717.0 L1036.0,699.8 L1038.0,682.3 L1040.0,664.8 L1042.0,647.1 L1044.0,629.5 L1046.0,611.9 L1048.0,594.4 L1050.0,577.1 L1052.0,560.1 L1054.0,543.4 L1056.0,527.1 L1058.0,511.3 L1060.0,496.0 L1062.0,481.4 L1064.0,467.4 L1066.0,454.1 L1068.0,441.7 L1070.0,430.0 L1072.0,419.3 L1074.0,409.5 L1076.0,400.7 L1078.0,392.8 L1080.0,386.0 L1082.0,380.2 L1084.0,375.4 L1086.0,371.7 L1088.0,369.0 L1090.0,367.4 L1092.0,366.7 L1094.0,367.0 L1096.0,368.2 L1098.0,370.3 L1100.0,373.2 L1102.0,377.0 L1104.0,381.4 L1106.0,386.5 L1108.0,392.2 L1110.0,398.4 L1112.0,405.1 L1114.0,412.2 L1116.0,419.5 L1118.0,427.2 L1120.0,435.0 L1122.0,442.9 L1124.0,450.8 L1126.0,458.8 L1128.0,466.6 L1130.0,474.4 L1132.0,482.0 L1134.0,489.4 L1136.0,496.5 L1138.0,503.5 L1140.0,510.1 L1142.0,516.5 L1144.0,522.6 L1146.0,528.5 L1148.0,534.1 L1150.0,539.4 L1152.0,544.6 L1154.0,549.6 L1156.0,554.4 L1158.0,559.2 L1160.0,563.9 L1162.0,568.7 L1164.0,573.5 L1166.0,578.4 L1168.0,583.5 L1170.0,588.8 L1172.0,594.3 L1174.0,600.2 L1176.0,606.4 L1178.0,613.0 L1180.0,620.0 L1182.0,627.4 L1184.0,635.2 L1186.0,643.4 L1188.0,652.0 L1190.0,660.9 L1192.0,670.2 L1194.0,679.8 L1196.0,689.7 L1198.0,699.8 L1200.0,710.1 L1202.0,720.6 L1204.0,731.2 L1206.0,741.8 L1208.0,752.5 L1210.0,763.1 L1212.0,773.7 L1214.0,784.1 L1216.0,794.5 L1218.0,804.6 L1220.0,814.6 L1222.0,824.3 L1224.0,833.7 L1226.0,842.9 L1228.0,851.8 L1230.0,860.3 L1232.0,868.5 L1234.0,876.3 L1236.0,883.8 L1238.0,890.9 L1240.0,897.6 L1242.0,904.0 L1244.0,910.0 L1246.0,915.6 L1248.0,920.9 L1250.0,925.8 L1252.0,930.4 L1254.0,934.6 L1256.0,938.5 L1258.0,942.2 L1260.0,945.5 L1262.0,948.6 L1264.0,951.4 L1266.0,953.9 L1268.0,956.2 L1270.0,958.3 L1272.0,960.2 L1274.0,962.0 L1276.0,963.5 L1278.0,964.9 L1280.0,966.2 L1282.0,967.3 L1284.0,968.3 L1286.0,969.2 L1288.0,970.0 L1290.0,970.7 L1292.0,971.4 L1294.0,971.9 L1296.0,972.4 L1298.0,972.9 L1300.0,973.3 L1302.0,973.6 L1304.0,974.0 L1306.0,974.2 L1308.0,974.5 L1310.0,974.7 L1312.0,974.9 L1314.0,975.1 L1316.0,975.3 L1318.0,975.4 L1320.0,975.6 L1322.0,975.7 L1324.0,975.8 L1326.0,975.9 L1328.0,976.0 L1330.0,976.1 L1332.0,976.2 L1334.0,976.3 L1336.0,976.4 L1338.0,976.4 L1340.0,976.5 L1342.0,976.6 L1344.0,976.6 L1346.0,976.7 L1348.0,976.7 L1350.0,976.8 L1352.0,976.9 L1354.0,976.9 L1356.0,977.0 L1358.0,977.0 L1360.0,977.1 L1362.0,977.1 L1364.0,977.1 L1366.0,977.2 L1368.0,977.2 L1370.0,977.3 L1372.0,977.3 L1374.0,977.3 L1376.0,977.4 L1378.0,977.4 L1380.0,977.5 L1382.0,977.5 L1384.0,977.5 L1386.0,977.6 L1388.0,977.6 L1390.0,977.6 L1392.0,977.7 L1394.0,977.7 L1396.0,977.7 L1398.0,977.7 L1400.0,977.8 L1402.0,977.8 L1404.0,977.8 L1406.0,977.9 L1408.0,977.9 L1410.0,977.9 L1412.0,977.9 L1414.0,978.0 L1416.0,978.0 L1418.0,978.0 L1420.0,978.0 L1422.0,978.1 L1424.0,978.1 L1426.0,978.1 L1428.0,978.1 L1430.0,978.1 L1432.0,978.2 L1434.0,978.2 L1436.0,978.2 L1438.0,978.2 L1440.0,978.2 L1442.0,978.3 L1444.0,978.3 L1446.0,978.3 L1448.0,978.3 L1450.0,978.3 L1452.0,978.3 L1454.0,978.4 L1456.0,978.4 L1458.0,978.4" fill="none" stroke="#ff0000" stroke-width="5"/>
<path d="M334.0,1156.4 L336.0,1156.3 L338.0,1156.3 L340.0,1156.3 L342.0,1156.3 L344.0,1156.3 L346.0,1156.3 L348.0,1156.3 L350.0,1156.3 L352.0,1156.3 L354.0,1156.3 L356.0,1156.3 L358.0,1156.3 L360.0,1156.3 L362.0,1156.3 L364.0,1156.3 L366.0,1156.2 L368.0,1156.2 L370.0,1156.2 L372.0,1156.2 L374.0,1156.2 L376.0,1156.2 L378.0,1156.2 L380.0,1156.2 L382.0,1156.2 L384.0,1156.1 L386.0,1156.1 L388.0,1156.1 L390.0,1156.1 L392.0,1156.1 L394.0,1156.1 L396.0,1156.1 L398.0,1156.0 L400.0,1156.0 L402.0,1156.0 L404.0,1156.0 L406.0,1156.0 L408.0,1155.9 L410.0,1155.9 L412.0,1155.9 L414.0,1155.9 L416.0,1155.8 L418.0,1155.8 L420.0,1155.8 L422.0,1155.8 L424.0,1155.7 L426.0,1155.7 L428.0,1155.7 L430.0,1155.6 L432.0,1155.6 L434.0,1155.5 L436.0,1155.5 L438.0,1155.5 L440.0,1155.4 L442.0,1155.4 L444.0,1155.3 L446.0,1155.3 L448.0,1155.2 L450.0,1155.1 L452.0,1155.1 L454.0,1155.0 L456.0,1155.0 L458.0,1154.9 L460.0,1154.8 L462.0,1154.7 L464.0,1154.7 L466.0,1154.6 L468.0,1154.5 L470.0,1154.4 L472.0,1154.3 L474.0,1154.2 L476.0,1154.1 L478.0,1154.0 L480.0,1153.8 L482.0,1153.7 L484.0,1153.6 L486.0,1153.4 L488.0,1153.3 L490.0,1153.1 L492.0,1153.0 L494.0,1152.8 L496.0,1152.6 L498.0,1152.4 L500.0,1152.2 L502.0,1152.0 L504.0,1151.8 L506.0,1151.6 L508.0,1151.3 L510.0,1151.1 L512.0,1150.8 L514.0,1150.5 L516.0,1150.2 L518.0,1149.9 L520.0,1149.6 L522.0,1149.2 L524.0,1148.9 L526.0,1148.5 L528.0,1148.1 L530.0,1147.6 L532.0,1147.2 L534.0,1146.7 L536.0,1146.2 L538.0,1145.7 L540.0,1145.1 L542.0,1144.6 L544.0,1143.9 L546.0,1143.3 L548.0,1142.6 L550.0,1141.8 L552.0,1141.0 L554.0,1140.2 L556.0,1139.3 L558.0,1138.4 L560.0,1137.3 L562.0,1136.2 L564.0,1135.1 L566.0,1133.8 L568.0,1132.5 L570.0,1131.0 L572.0,1129.5 L574.0,1127.8 L576.0,1126.0 L578.0,1124.0 L580.0,1121.9 L582.0,1119.7 L584.0,1117.2 L586.0,1114.6 L588.0,1111.7 L590.0,1108.7 L592.0,1105.3 L594.0,1101.8 L596.0,1097.9 L598.0,1093.8 L600.0,1089.3 L602.0,1084.5 L604.0,1079.3 L606.0,1073.8 L608.0,1067.9 L610.0,1061.6 L612.0,1054.9 L614.0,1047.8 L616.0,1040.2 L618.0,1032.1 L620.0,1023.7 L622.0,1014.7 L624.0,1005.3 L626.0,995.4 L628.0,985.1 L630.0,974.3 L632.0,963.1 L634.0,951.4 L636.0,939.4 L638.0,926.9 L640.0,914.2 L642.0,901.1 L644.0,887.7 L646.0,874.2 L648.0,860.4 L650.0,846.5 L652.0,832.5 L654.0,818.5 L656.0,804.5 L658.0,790.5 L660.0,776.8 L662.0,763.3 L664.0,750.0 L666.0,737.1 L668.0,724.6 L670.0,712.7 L672.0,701.3 L674.0,690.6 L676.0,680.6 L678.0,671.6 L680.0,663.4 L682.0,656.4 L684.0,650.5 L686.0,645.9 L688.0,642.7 L690.0,640.9 L692.0,640.5 L694.0,641.5 L696.0,644.0 L698.0,647.7 L700.0,652.7 L702.0,658.9 L704.0,666.0 L706.0,674.1 L708.0,683.0 L710.0,692.6 L712.0,702.8 L714.0,713.6 L716.0,724.9 L718.0,736.5 L720.0,748.5 L722.0,760.7 L724.0,773.0 L726.0,785.5 L728.0,798.1 L730.0,810.6 L732.0,823.1 L734.0,835.4 L736.0,847.6 L738.0,859.6 L740.0,871.3 L742.0,882.7 L744.0,893.8 L746.0,904.5 L748.0,914.8 L750.0,924.7 L752.0,934.2 L754.0,943.2 L756.0,951.8 L758.0,959.9 L760.0,967.6 L762.0,974.8 L764.0,981.6 L766.0,987.9 L768.0,993.8 L770.0,999.2 L772.0,1004.3 L774.0,1008.9 L776.0,1013.2 L778.0,1017.2 L780.0,1020.8 L782.0,1024.0 L784.0,1027.0 L786.0,1029.7 L788.0,1032.1 L790.0,1034.3 L792.0,1036.3 L794.0,1038.1 L796.0,1039.7 L798.0,1041.1 L800.0,1042.3 L802.0,1043.4 L804.0,1044.4 L806.0,1045.3 L808.0,1046.1 L810.0,1046.7 L812.0,1047.3 L814.0,1047.8 L816.0,1048.3 L818.0,1048.7 L820.0,1049.0 L822.0,1049.3 L824.0,1049.6 L826.0,1049.8 L828.0,1050.0 L830.0,1050.1 L832.0,1050.3 L834.0,1050.4 L836.0,1050.5 L838.0,1050.6 L840.0,1050.7 L842.0,1050.7 L844.0,1050.8 L846.0,1050.9 L848.0,1050.9 L850.0,1051.0 L852.0,1051.0 L854.0,1051.0 L856.0,1051.0 L858.0,1051.1 L860.0,1051.1 L862.0,1051.1 L864.0,1051.1 L866.0,1051.2 L868.0,1051.2 L870.0,1051.2 L872.0,1051.2 L874.0,1051.2 L876.0,1051.2 L878.0,1051.2 L880.0,1051.3 L882.0,1051.3 L884.0,1051.3 L886.0,1051.3 L888.0,1051.3 L890.0,1051.3 L892.0,1051.3 L894.0,1051.3 L896.0,1051.3 L898.0,1051.3 L900.0,1051.3 L902.0,1051.3 L904.0,1051.3 L906.0,1051.3 L908.0,1051.3 L910.0,1051.3 L912.0,1051.3 L914.0,1051.4 L916.0,1051.4 L918.0,1051.4 L920.0,1051.4 L922.0,1051.3 L924.0,1051.3 L926.0,1051.3 L928.0,1051.3 L930.0,1051.3 L932.0,1051.3 L934.0,1051.3 L936.0,1051.3 L938.0,1051.3 L940.0,1051.3 L942.0,1051.3 L944.0,1051.3 L946.0,1051.2 L948.0,1051.2 L950.0,1051.2 L952.0,1051.2 L954.0,1051.1 L956.0,1051.1 L958.0,1051.1 L960.0,1051.0 L962.0,1051.0 L964.0,1051.0 L966.0,1050.9 L968.0,1050.9 L970.0,1050.8 L972.0,1050.7 L974.0,1050.7 L976.0,1050.6 L978.0,1050.5 L980.0,1050.4 L982.0,1050.4 L984.0,1050.3 L986.0,1050.1 L988.0,1050.0 L990.0,1049.9 L992.0,1049.8 L994.0,1049.6 L996.0,1049.5 L998.0,1049.3 L1000.0,1049.1 L1002.0,1048.9 L1004.0,1048.7 L1006.0,1048.5 L1008.0,1048.2 L1010.0,1048.0 L1012.0,1047.7 L1014.0,1047.4 L1016.0,1047.1 L1018.0,1046.7 L1020.0,1046.4 L1022.0,1046.0 L1024.0,1045.6 L1026.0,1045.1 L1028.0,1044.6 L1030.0,1044.1 L1032.0,1043.6 L1034.0,1043.0 L1036.0,1042.4 L1038.0,1041.8 L1040.0,1041.1 L1042.0,1040.4 L1044.0,1039.6 L1046.0,1038.8 L1048.0,1037.9 L1050.0,1036.9 L1052.0,1035.9 L1054.0,1034.8 L1056.0,1033.7 L1058.0,1032.5 L1060.0,1031.1 L1062.0,1029.7 L1064.0,1028.2 L1066.0,1026.6 L1068.0,1024.9 L1070.0,1023.0 L1072.0,1021.0 L1074.0,1018.9 L1076.0,1016.6 L1078.0,1014.2 L1080.0,1011.5 L1082.0,1008.7 L1084.0,1005.7 L1086.0,1002.5 L1088.0,999.1 L1090.0,995.4 L1092.0,991.5 L1094.0,987.4 L1096.0,983.0 L1098.0,978.3 L1100.0,973.3 L1102.0,968.1 L1104.0,962.5 L1106.0,956.7 L1108.0,950.6 L1110.0,944.2 L1112.0,937.4 L1114.0,930.4 L1116.0,923.1 L1118.0,915.5 L1120.0,907.7 L1122.0,899.6 L1124.0,891.2 L1126.0,882.7 L1128.0,873.9 L1130.0,865.0 L1132.0,855.9 L1134.0,846.7 L1136.0,837.3 L1138.0,828.0 L1140.0,818.6 L1142.0,809.2 L1144.0,799.9 L1146.0,790.7 L1148.0,781.6 L1150.0,772.7 L1152.0,763.9 L1154.0,755.5 L1156.0,747.4 L1158.0,739.6 L1160.0,732.2 L1162.0,725.3 L1164.0,719.0 L1166.0,713.2 L1168.0,708.1 L1170.0,703.8 L1172.0,700.2 L1174.0,697.6 L1176.0,695.8 L1178.0,695.0 L1180.0,695.2 L1182.0,696.3 L1184.0,698.3 L1186.0,701.2 L1188.0,704.9 L1190.0,709.3 L1192.0,714.3 L1194.0,720.0 L1196.0,726.1 L1198.0,732.7 L1200.0,739.7 L1202.0,747.0 L1204.0,754.6 L1206.0,762.5 L1208.0,770.6 L1210.0,778.8 L1212.0,787.1 L1214.0,795.5 L1216.0,804.0 L1218.0,812.4 L1220.0,820.8 L1222.0,829.2 L1224.0,837.4 L1226.0,845.5 L1228.0,853.4 L1230.0,861.2 L1232.0,868.7 L1234.0,876.0 L1236.0,883.0 L1238.0,889.8 L1240.0,896.3 L1242.0,902.5 L1244.0,908.4 L1246.0,914.1 L1248.0,919.4 L1250.0,924.4 L1252.0,929.1 L1254.0,933.5 L1256.0,937.7 L1258.0,941.5 L1260.0,945.1 L1262.0,948.4 L1264.0,951.5 L1266.0,954.3 L1268.0,956.9 L1270.0,959.3 L1272.0,961.5 L1274.0,963.4 L1276.0,965.2 L1278.0,966.8 L1280.0,968.3 L1282.0,969.6 L1284.0,970.8 L1286.0,971.8 L1288.0,972.8 L1290.0,973.6 L1292.0,974.4 L1294.0,975.0 L1296.0,975.6 L1298.0,976.1 L1300.0,976.6 L1302.0,977.0 L1304.0,977.3 L1306.0,977.6 L1308.0,977.9 L1310.0,978.1 L1312.0,978.3 L1314.0,978.4 L1316.0,978.6 L1318.0,978.7 L1320.0,978.8 L1322.0,978.9 L1324.0,979.0 L1326.0,979.1 L1328.0,979.1 L1330.0,979.2 L1332.0,979.2 L1334.0,979.2 L1336.0,979.3 L1338.0,979.3 L1340.0,979.3 L1342.0,979.3 L1344.0,979.3 L1346.0,979.4 L1348.0,979.4 L1350.0,979.4 L1352.0,979.4 L1354.0,979.4 L1356.0,979.4 L1358.0,979.4 L1360.0,979.4 L1362.0,979.4 L1364.0,979.4 L1366.0,979.4 L1368.0,979.4 L1370.0,979.4 L1372.0,979.4 L1374.0,979.4 L1376.0,979.4 L1378.0,979.4 L1380.0,979.4 L1382.0,979.4 L1384.0,979.4 L1386.0,979.4 L1388.0,979.5 L1390.0,979.5 L1392.0,979.5 L1394.0,979.5 L1396.0,979.5 L1398.0,979.5 L1400.0,979.5 L1402.0,979.5 L1404.0,979.5 L1406.0,979.5 L1408.0,979.5 L1410.0,979.5 L1412.0,979.5 L1414.0,979.5 L1416.0,979.5 L1418.0,979.5 L1420.0,979.5 L1422.0,979.5 L1424.0,979.5 L1426.0,979.5 L1428.0,979.5 L1430.0,979.5 L1432.0,979.5 L1434.0,979.5 L1436.0,979.5 L1438.0,979.5 L1440.0,979.5 L1442.0,979.5 L1444.0,979.5 L1446.0,979.5 L1448.0,979.5 L1450.0,979.5 L1452.0,979.5 L1454.0,979.5 L1456.0,979.5 L1458.0,979.5" fill="none" stroke="#008000" stroke-width="4.5" stroke-dasharray="7 12.5" stroke-linecap="round"/>
<path d="M334.0,1154.4 L336.0,1154.4 L338.0,1154.4 L340.0,1154.3 L342.0,1154.3 L344.0,1154.3 L346.0,1154.2 L348.0,1154.2 L350.0,1154.2 L352.0,1154.1 L354.0,1154.1 L356.0,1154.1 L358.0,1154.0 L360.0,1154.0 L362.0,1153.9 L364.0,1153.9 L366.0,1153.8 L368.0,1153.8 L370.0,1153.8 L372.0,1153.7 L374.0,1153.7 L376.0,1153.6 L378.0,1153.6 L380.0,1153.5 L382.0,1153.4 L384.0,1153.4 L386.0,1153.3 L388.0,1153.3 L390.0,1153.2 L392.0,1153.1 L394.0,1153.1 L396.0,1153.0 L398.0,1152.9 L400.0,1152.8 L402.0,1152.7 L404.0,1152.6 L406.0,1152.6 L408.0,1152.4 L410.0,1152.3 L412.0,1152.2 L414.0,1152.1 L416.0,1152.0 L418.0,1151.8 L420.0,1151.6 L422.0,1151.5 L424.0,1151.3 L426.0,1151.1 L428.0,1150.8 L430.0,1150.6 L432.0,1150.3 L434.0,1150.0 L436.0,1149.6 L438.0,1149.3 L440.0,1148.8 L442.0,1148.3 L444.0,1147.8 L446.0,1147.2 L448.0,1146.6 L450.0,1145.8 L452.0,1145.0 L454.0,1144.1 L456.0,1143.1 L458.0,1141.9 L460.0,1140.7 L462.0,1139.3 L464.0,1137.7 L466.0,1136.0 L468.0,1134.1 L470.0,1132.0 L472.0,1129.6 L474.0,1127.1 L476.0,1124.2 L478.0,1121.1 L480.0,1117.7 L482.0,1113.9 L484.0,1109.8 L486.0,1105.4 L488.0,1100.5 L490.0,1095.2 L492.0,1089.4 L494.0,1083.1 L496.0,1076.4 L498.0,1069.0 L500.0,1061.2 L502.0,1052.7 L504.0,1043.6 L506.0,1033.9 L508.0,1023.5 L510.0,1012.5 L512.0,1000.7 L514.0,988.2 L516.0,975.0 L518.0,961.0 L520.0,946.2 L522.0,930.8 L524.0,914.5 L526.0,897.5 L528.0,879.7 L530.0,861.2 L532.0,842.0 L534.0,822.1 L536.0,801.6 L538.0,780.4 L540.0,758.6 L542.0,736.3 L544.0,713.5 L546.0,690.3 L548.0,666.7 L550.0,642.8 L552.0,618.6 L554.0,594.4 L556.0,570.0 L558.0,545.7 L560.0,521.5 L562.0,497.5 L564.0,473.8 L566.0,450.5 L568.0,427.7 L570.0,405.6 L572.0,384.1 L574.0,363.4 L576.0,343.5 L578.0,324.7 L580.0,307.0 L582.0,290.4 L584.0,275.0 L586.0,261.0 L588.0,248.4 L590.0,237.2 L592.0,227.5 L594.0,219.3 L596.0,212.8 L598.0,207.8 L600.0,204.5 L602.0,202.9 L604.0,202.9 L606.0,204.6 L608.0,207.9 L610.0,212.8 L612.0,219.3 L614.0,227.4 L616.0,236.9 L618.0,247.9 L620.0,260.2 L622.0,273.8 L624.0,288.6 L626.0,304.6 L628.0,321.6 L630.0,339.6 L632.0,358.5 L634.0,378.1 L636.0,398.4 L638.0,419.3 L640.0,440.6 L642.0,462.4 L644.0,484.4 L646.0,506.7 L648.0,529.0 L650.0,551.3 L652.0,573.6 L654.0,595.8 L656.0,617.7 L658.0,639.3 L660.0,660.6 L662.0,681.5 L664.0,701.9 L666.0,721.8 L668.0,741.1 L670.0,759.8 L672.0,777.9 L674.0,795.3 L676.0,812.0 L678.0,828.1 L680.0,843.5 L682.0,858.1 L684.0,872.0 L686.0,885.2 L688.0,897.7 L690.0,909.5 L692.0,920.7 L694.0,931.1 L696.0,940.9 L698.0,950.1 L700.0,958.6 L702.0,966.6 L704.0,974.0 L706.0,980.8 L708.0,987.2 L710.0,993.0 L712.0,998.4 L714.0,1003.3 L716.0,1007.8 L718.0,1012.0 L720.0,1015.7 L722.0,1019.2 L724.0,1022.3 L726.0,1025.1 L728.0,1027.7 L730.0,1030.0 L732.0,1032.0 L734.0,1033.9 L736.0,1035.6 L738.0,1037.1 L740.0,1038.4 L742.0,1039.6 L744.0,1040.7 L746.0,1041.6 L748.0,1042.4 L750.0,1043.2 L752.0,1043.8 L754.0,1044.4 L756.0,1044.9 L758.0,1045.3 L760.0,1045.7 L762.0,1046.1 L764.0,1046.4 L766.0,1046.6 L768.0,1046.8 L770.0,1047.0 L772.0,1047.2 L774.0,1047.3 L776.0,1047.5 L778.0,1047.6 L780.0,1047.7 L782.0,1047.8 L784.0,1047.8 L786.0,1047.9 L788.0,1048.0 L790.0,1048.0 L792.0,1048.1 L794.0,1048.1 L796.0,1048.1 L798.0,1048.2 L800.0,1048.2 L802.0,1048.2 L804.0,1048.2 L806.0,1048.2 L808.0,1048.3 L810.0,1048.3 L812.0,1048.3 L814.0,1048.3 L816.0,1048.3 L818.0,1048.3 L820.0,1048.3 L822.0,1048.3 L824.0,1048.4 L826.0,1048.4 L828.0,1048.4 L830.0,1048.4 L832.0,1048.4 L834.0,1048.4 L836.0,1048.4 L838.0,1048.4 L840.0,1048.4 L842.0,1048.4 L844.0,1048.4 L846.0,1048.4 L848.0,1048.4 L850.0,1048.4 L852.0,1048.4 L854.0,1048.4 L856.0,1048.4 L858.0,1048.4 L860.0,1048.4 L862.0,1048.4 L864.0,1048.4 L866.0,1048.4 L868.0,1048.4 L870.0,1048.3 L872.0,1048.3 L874.0,1048.3 L876.0,1048.3 L878.0,1048.3 L880.0,1048.3 L882.0,1048.2 L884.0,1048.2 L886.0,1048.2 L888.0,1048.2 L890.0,1048.1 L892.0,1048.1 L894.0,1048.1 L896.0,1048.0 L898.0,1048.0 L900.0,1047.9 L902.0,1047.9 L904.0,1047.8 L906.0,1047.8 L908.0,1047.7 L910.0,1047.6 L912.0,1047.5 L914.0,1047.4 L916.0,1047.3 L918.0,1047.2 L920.0,1047.0 L922.0,1046.9 L924.0,1046.7 L926.0,1046.5 L928.0,1046.2 L930.0,1046.0 L932.0,1045.6 L934.0,1045.3 L936.0,1044.9 L938.0,1044.5 L940.0,1044.0 L942.0,1043.4 L944.0,1042.8 L946.0,1042.1 L948.0,1041.3 L950.0,1040.4 L952.0,1039.4 L954.0,1038.3 L956.0,1037.1 L958.0,1035.7 L960.0,1034.2 L962.0,1032.5 L964.0,1030.6 L966.0,1028.5 L968.0,1026.2 L970.0,1023.6 L972.0,1020.8 L974.0,1017.7 L976.0,1014.4 L978.0,1010.7 L980.0,1006.7 L982.0,1002.3 L984.0,997.6 L986.0,992.4 L988.0,986.9 L990.0,980.9 L992.0,974.4 L994.0,967.5 L996.0,960.0 L998.0,952.1 L1000.0,943.6 L1002.0,934.6 L1004.0,925.1 L1006.0,915.0 L1008.0,904.3 L1010.0,893.0 L1012.0,881.2 L1014.0,868.9 L1016.0,855.9 L1018.0,842.5 L1020.0,828.5 L1022.0,814.0 L1024.0,799.0 L1026.0,783.6 L1028.0,767.7 L1030.0,751.5 L1032.0,735.0 L1034.0,718.1 L1036.0,701.0 L1038.0,683.8 L1040.0,666.4 L1042.0,649.0 L1044.0,631.6 L1046.0,614.2 L1048.0,597.0 L1050.0,580.1 L1052.0,563.4 L1054.0,547.1 L1056.0,531.3 L1058.0,516.0 L1060.0,501.3 L1062.0,487.3 L1064.0,474.1 L1066.0,461.7 L1068.0,450.1 L1070.0,439.6 L1072.0,430.0 L1074.0,421.4 L1076.0,414.0 L1078.0,407.7 L1080.0,402.6 L1082.0,398.7 L1084.0,396.0 L1086.0,394.6 L1088.0,394.4 L1090.0,395.4 L1092.0,397.6 L1094.0,401.1 L1096.0,405.7 L1098.0,411.4 L1100.0,418.3 L1102.0,426.3 L1104.0,435.2 L1106.0,445.2 L1108.0,456.0 L1110.0,467.7 L1112.0,480.1 L1114.0,493.2 L1116.0,507.0 L1118.0,521.3 L1120.0,536.1 L1122.0,551.3 L1124.0,566.8 L1126.0,582.6 L1128.0,598.5 L1130.0,614.6 L1132.0,630.7 L1134.0,646.8 L1136.0,662.7 L1138.0,678.6 L1140.0,694.2 L1142.0,709.6 L1144.0,724.6 L1146.0,739.3 L1148.0,753.7 L1150.0,767.6 L1152.0,781.0 L1154.0,794.0 L1156.0,806.5 L1158.0,818.5 L1160.0,830.0 L1162.0,840.9 L1164.0,851.3 L1166.0,861.2 L1168.0,870.5 L1170.0,879.3 L1172.0,887.6 L1174.0,895.4 L1176.0,902.7 L1178.0,909.5 L1180.0,915.8 L1182.0,921.7 L1184.0,927.1 L1186.0,932.2 L1188.0,936.8 L1190.0,941.0 L1192.0,945.0 L1194.0,948.5 L1196.0,951.8 L1198.0,954.7 L1200.0,957.4 L1202.0,959.9 L1204.0,962.1 L1206.0,964.1 L1208.0,965.8 L1210.0,967.4 L1212.0,968.8 L1214.0,970.1 L1216.0,971.2 L1218.0,972.2 L1220.0,973.1 L1222.0,973.9 L1224.0,974.6 L1226.0,975.2 L1228.0,975.7 L1230.0,976.1 L1232.0,976.5 L1234.0,976.9 L1236.0,977.1 L1238.0,977.4 L1240.0,977.6 L1242.0,977.8 L1244.0,977.9 L1246.0,978.0 L1248.0,978.1 L1250.0,978.2 L1252.0,978.3 L1254.0,978.3 L1256.0,978.4 L1258.0,978.4 L1260.0,978.4 L1262.0,978.5 L1264.0,978.5 L1266.0,978.5 L1268.0,978.5 L1270.0,978.5 L1272.0,978.5 L1274.0,978.5 L1276.0,978.5 L1278.0,978.5 L1280.0,978.5 L1282.0,978.5 L1284.0,978.5 L1286.0,978.4 L1288.0,978.4 L1290.0,978.4 L1292.0,978.4 L1294.0,978.4 L1296.0,978.4 L1298.0,978.4 L1300.0,978.4 L1302.0,978.4 L1304.0,978.4 L1306.0,978.4 L1308.0,978.4 L1310.0,978.4 L1312.0,978.4 L1314.0,978.4 L1316.0,978.4 L1318.0,978.4 L1320.0,978.4 L1322.0,978.4 L1324.0,978.4 L1326.0,978.4 L1328.0,978.4 L1330.0,978.4 L1332.0,978.4 L1334.0,978.4 L1336.0,978.4 L1338.0,978.4 L1340.0,978.4 L1342.0,978.5 L1344.0,978.5 L1346.0,978.5 L1348.0,978.5 L1350.0,978.5 L1352.0,978.5 L1354.0,978.5 L1356.0,978.5 L1358.0,978.5 L1360.0,978.5 L1362.0,978.5 L1364.0,978.5 L1366.0,978.5 L1368.0,978.5 L1370.0,978.6 L1372.0,978.6 L1374.0,978.6 L1376.0,978.6 L1378.0,978.6 L1380.0,978.6 L1382.0,978.6 L1384.0,978.6 L1386.0,978.6 L1388.0,978.6 L1390.0,978.6 L1392.0,978.6 L1394.0,978.7 L1396.0,978.7 L1398.0,978.7 L1400.0,978.7 L1402.0,978.7 L1404.0,978.7 L1406.0,978.7 L1408.0,978.7 L1410.0,978.7 L1412.0,978.7 L1414.0,978.7 L1416.0,978.7 L1418.0,978.8 L1420.0,978.8 L1422.0,978.8 L1424.0,978.8 L1426.0,978.8 L1428.0,978.8 L1430.0,978.8 L1432.0,978.8 L1434.0,978.8 L1436.0,978.8 L1438.0,978.8 L1440.0,978.8 L1442.0,978.9 L1444.0,978.9 L1446.0,978.9 L1448.0,978.9 L1450.0,978.9 L1452.0,978.9 L1454.0,978.9 L1456.0,978.9 L1458.0,978.9" fill="none" stroke="#0000ff" stroke-width="4.5" stroke-dasharray="7 12.5" stroke-linecap="round"/>
<rect x="40" y="47" width="122" height="192.5" fill="#000"/>
<text x="69.7" y="193.0" font-size="136" fill="#fff" >a</text>
<text x="239.1" y="156.6" font-size="88" fill="#000" >In 3d</text>
<text x="570.0" y="137.5" font-size="72" fill="#000" >3d</text>
<text x="643.7" y="166.7" font-size="45" fill="#000" >5/2</text>
<text x="1050.0" y="307.4" font-size="72" fill="#000" >3d</text>
<text x="1124.1" y="337.2" font-size="45" fill="#000" >3/2</text>
<path d="M1230.0,125.7 L1336.0,125.7" fill="none" stroke="#0000ff" stroke-width="4.5" stroke-dasharray="7 12.5" stroke-linecap="round"/>
<path d="M1230.0,216.7 L1336.0,216.7" fill="none" stroke="#008000" stroke-width="4.5" stroke-dasharray="7 12.5" stroke-linecap="round"/>
<text x="1350.9" y="139.8" font-size="75.5" fill="#000" >In-P</text>
<text x="1350.9" y="232.5" font-size="75.5" fill="#000" >In-O</text>
<text x="280.2" y="1311.0" font-size="75.5" fill="#000" >440</text>
<text x="600.9" y="1311.0" font-size="75.5" fill="#000" >445</text>
<text x="921.6" y="1311.0" font-size="75.5" fill="#000" >450</text>
<text x="1242.3" y="1311.0" font-size="75.5" fill="#000" >455</text>
<text x="473.0" y="1440.0" font-size="100" fill="#000" >Binding Enegy (eV)</text>
<text transform="translate(114.8,1065.7) rotate(-90)" x="0" y="0" font-size="101">XPS Intensity (a.u.)</text>
<rect x="208" y="1501.9" width="1347" height="1181.7999999999997" fill="none" stroke="#000" stroke-width="11.5" stroke-linejoin="bevel"/>
<line x1="211.8" y1="1675.8" x2="226.8" y2="1675.8" stroke="#000" stroke-width="11.5" stroke-linecap="round"/>
<line x1="211.8" y1="1849.6" x2="226.8" y2="1849.6" stroke="#000" stroke-width="11.5" stroke-linecap="round"/>
<line x1="211.8" y1="2023.4" x2="226.8" y2="2023.4" stroke="#000" stroke-width="11.5" stroke-linecap="round"/>
<line x1="211.8" y1="2197.2" x2="226.8" y2="2197.2" stroke="#000" stroke-width="11.5" stroke-linecap="round"/>
<line x1="211.8" y1="2371.0" x2="226.8" y2="2371.0" stroke="#000" stroke-width="11.5" stroke-linecap="round"/>
<line x1="211.8" y1="2544.8" x2="226.8" y2="2544.8" stroke="#000" stroke-width="11.5" stroke-linecap="round"/>
<line x1="211.8" y1="1588.9" x2="217.8" y2="1588.9" stroke="#000" stroke-width="11.5" stroke-linecap="round"/>
<line x1="211.8" y1="1762.7" x2="217.8" y2="1762.7" stroke="#000" stroke-width="11.5" stroke-linecap="round"/>
<line x1="211.8" y1="1936.5" x2="217.8" y2="1936.5" stroke="#000" stroke-width="11.5" stroke-linecap="round"/>
<line x1="211.8" y1="2110.3" x2="217.8" y2="2110.3" stroke="#000" stroke-width="11.5" stroke-linecap="round"/>
<line x1="211.8" y1="2284.1000000000004" x2="217.8" y2="2284.1000000000004" stroke="#000" stroke-width="11.5" stroke-linecap="round"/>
<line x1="211.8" y1="2457.9" x2="217.8" y2="2457.9" stroke="#000" stroke-width="11.5" stroke-linecap="round"/>
<line x1="211.8" y1="2631.7000000000003" x2="217.8" y2="2631.7000000000003" stroke="#000" stroke-width="11.5" stroke-linecap="round"/>
<line x1="254.4" y1="2680.0" x2="254.4" y2="2664.5" stroke="#000" stroke-width="11.5" stroke-linecap="round"/>
<line x1="718.4" y1="2680.0" x2="718.4" y2="2664.5" stroke="#000" stroke-width="11.5" stroke-linecap="round"/>
<line x1="1182.4" y1="2680.0" x2="1182.4" y2="2664.5" stroke="#000" stroke-width="11.5" stroke-linecap="round"/>
<line x1="486.4" y1="2680.0" x2="486.4" y2="2674.5" stroke="#000" stroke-width="11.5" stroke-linecap="round"/>
<line x1="950.4" y1="2680.0" x2="950.4" y2="2674.5" stroke="#000" stroke-width="11.5" stroke-linecap="round"/>
<line x1="1414.4" y1="2680.0" x2="1414.4" y2="2674.5" stroke="#000" stroke-width="11.5" stroke-linecap="round"/>
<g clip-path="url(#cb)">
<rect x="1551.8" y="2508.8" width="18.4" height="18.4" fill="#fff" stroke="#000" stroke-width="1.8"/>
<rect x="1542.5" y="2467.2" width="18.4" height="18.4" fill="#fff" stroke="#000" stroke-width="1.8"/>
<rect x="1533.2" y="2523.1" width="18.4" height="18.4" fill="#fff" stroke="#000" stroke-width="1.8"/>
<rect x="1523.9" y="2460.7" width="18.4" height="18.4" fill="#fff" stroke="#000" stroke-width="1.8"/>
<rect x="1514.6" y="2530.8" width="18.4" height="18.4" fill="#fff" stroke="#000" stroke-width="1.8"/>
<rect x="1505.4" y="2476.3" width="18.4" height="18.4" fill="#fff" stroke="#000" stroke-width="1.8"/>
<rect x="1496.1" y="2488.0" width="18.4" height="18.4" fill="#fff" stroke="#000" stroke-width="1.8"/>
<rect x="1486.8" y="2472.4" width="18.4" height="18.4" fill="#fff" stroke="#000" stroke-width="1.8"/>
<rect x="1477.5" y="2510.2" width="18.4" height="18.4" fill="#fff" stroke="#000" stroke-width="1.8"/>
<rect x="1468.2" y="2532.8" width="18.4" height="18.4" fill="#fff" stroke="#000" stroke-width="1.8"/>
<rect x="1459.0" y="2491.1" width="18.4" height="18.4" fill="#fff" stroke="#000" stroke-width="1.8"/>
<rect x="1449.7" y="2496.9" width="18.4" height="18.4" fill="#fff" stroke="#000" stroke-width="1.8"/>
<rect x="1440.4" y="2508.6" width="18.4" height="18.4" fill="#fff" stroke="#000" stroke-width="1.8"/>
<rect x="1431.1" y="2489.1" width="18.4" height="18.4" fill="#fff" stroke="#000" stroke-width="1.8"/>
<rect x="1421.8" y="2491.9" width="18.4" height="18.4" fill="#fff" stroke="#000" stroke-width="1.8"/>
<rect x="1412.6" y="2501.6" width="18.4" height="18.4" fill="#fff" stroke="#000" stroke-width="1.8"/>
<rect x="1403.3" y="2498.5" width="18.4" height="18.4" fill="#fff" stroke="#000" stroke-width="1.8"/>
<rect x="1394.0" y="2531.6" width="18.4" height="18.4" fill="#fff" stroke="#000" stroke-width="1.8"/>
<rect x="1384.7" y="2454.8" width="18.4" height="18.4" fill="#fff" stroke="#000" stroke-width="1.8"/>
<rect x="1375.4" y="2511.4" width="18.4" height="18.4" fill="#fff" stroke="#000" stroke-width="1.8"/>
<rect x="1366.2" y="2469.2" width="18.4" height="18.4" fill="#fff" stroke="#000" stroke-width="1.8"/>
<rect x="1356.9" y="2489.9" width="18.4" height="18.4" fill="#fff" stroke="#000" stroke-width="1.8"/>
<rect x="1347.6" y="2562.8" width="18.4" height="18.4" fill="#fff" stroke="#000" stroke-width="1.8"/>
<rect x="1338.3" y="2445.8" width="18.4" height="18.4" fill="#fff" stroke="#000" stroke-width="1.8"/>
<rect x="1329.0" y="2501.6" width="18.4" height="18.4" fill="#fff" stroke="#000" stroke-width="1.8"/>
<rect x="1319.8" y="2497.7" width="18.4" height="18.4" fill="#fff" stroke="#000" stroke-width="1.8"/>
<rect x="1310.5" y="2430.2" width="18.4" height="18.4" fill="#fff" stroke="#000" stroke-width="1.8"/>
<rect x="1301.2" y="2472.4" width="18.4" height="18.4" fill="#fff" stroke="#000" stroke-width="1.8"/>
<rect x="1291.9" y="2470.4" width="18.4" height="18.4" fill="#fff" stroke="#000" stroke-width="1.8"/>
<rect x="1282.6" y="2488.9" width="18.4" height="18.4" fill="#fff" stroke="#000" stroke-width="1.8"/>
<rect x="1273.4" y="2489.9" width="18.4" height="18.4" fill="#fff" stroke="#000" stroke-width="1.8"/>
<rect x="1264.1" y="2470.4" width="18.4" height="18.4" fill="#fff" stroke="#000" stroke-width="1.8"/>
<rect x="1254.8" y="2482.9" width="18.4" height="18.4" fill="#fff" stroke="#000" stroke-width="1.8"/>
<rect x="1245.5" y="2424.4" width="18.4" height="18.4" fill="#fff" stroke="#000" stroke-width="1.8"/>
<rect x="1236.2" y="2381.5" width="18.4" height="18.4" fill="#fff" stroke="#000" stroke-width="1.8"/>
<rect x="1227.0" y="2330.0" width="18.4" height="18.4" fill="#fff" stroke="#000" stroke-width="1.8"/>
<rect x="1217.7" y="2289.1" width="18.4" height="18.4" fill="#fff" stroke="#000" stroke-width="1.8"/>
<rect x="1208.4" y="2247.3" width="18.4" height="18.4" fill="#fff" stroke="#000" stroke-width="1.8"/>
<rect x="1199.1" y="2216.4" width="18.4" height="18.4" fill="#fff" stroke="#000" stroke-width="1.8"/>
<rect x="1189.8" y="2177.9" width="18.4" height="18.4" fill="#fff" stroke="#000" stroke-width="1.8"/>
<rect x="1180.6" y="2122.9" width="18.4" height="18.4" fill="#fff" stroke="#000" stroke-width="1.8"/>
<rect x="1171.3" y="2194.9" width="18.4" height="18.4" fill="#fff" stroke="#000" stroke-width="1.8"/>
<rect x="1162.0" y="2039.5" width="18.4" height="18.4" fill="#fff" stroke="#000" stroke-width="1.8"/>
<rect x="1152.7" y="1967.4" width="18.4" height="18.4" fill="#fff" stroke="#000" stroke-width="1.8"/>
<rect x="1143.4" y="1851.1" width="18.4" height="18.4" fill="#fff" stroke="#000" stroke-width="1.8"/>
<rect x="1134.2" y="1854.1" width="18.4" height="18.4" fill="#fff" stroke="#000" stroke-width="1.8"/>
<rect x="1124.9" y="1845.0" width="18.4" height="18.4" fill="#fff" stroke="#000" stroke-width="1.8"/>
<rect x="1115.6" y="1799.5" width="18.4" height="18.4" fill="#fff" stroke="#000" stroke-width="1.8"/>
<rect x="1106.3" y="1747.3" width="18.4" height="18.4" fill="#fff" stroke="#000" stroke-width="1.8"/>
<rect x="1097.0" y="1743.4" width="18.4" height="18.4" fill="#fff" stroke="#000" stroke-width="1.8"/>
<rect x="1087.8" y="1809.5" width="18.4" height="18.4" fill="#fff" stroke="#000" stroke-width="1.8"/>
<rect x="1078.5" y="1750.4" width="18.4" height="18.4" fill="#fff" stroke="#000" stroke-width="1.8"/>
<rect x="1069.2" y="1676.6" width="18.4" height="18.4" fill="#fff" stroke="#000" stroke-width="1.8"/>
<rect x="1059.9" y="1658.4" width="18.4" height="18.4" fill="#fff" stroke="#000" stroke-width="1.8"/>
<rect x="1050.6" y="1646.3" width="18.4" height="18.4" fill="#fff" stroke="#000" stroke-width="1.8"/>
<rect x="1041.4" y="1783.1" width="18.4" height="18.4" fill="#fff" stroke="#000" stroke-width="1.8"/>
<rect x="1032.1" y="1695.1" width="18.4" height="18.4" fill="#fff" stroke="#000" stroke-width="1.8"/>
<rect x="1022.8" y="1714.0" width="18.4" height="18.4" fill="#fff" stroke="#000" stroke-width="1.8"/>
<rect x="1013.5" y="1724.0" width="18.4" height="18.4" fill="#fff" stroke="#000" stroke-width="1.8"/>
<rect x="1004.2" y="1885.4" width="18.4" height="18.4" fill="#fff" stroke="#000" stroke-width="1.8"/>
<rect x="995.0" y="1811.0" width="18.4" height="18.4" fill="#fff" stroke="#000" stroke-width="1.8"/>
<rect x="985.7" y="2054.6" width="18.4" height="18.4" fill="#fff" stroke="#000" stroke-width="1.8"/>
<rect x="976.4" y="2011.4" width="18.4" height="18.4" fill="#fff" stroke="#000" stroke-width="1.8"/>
<rect x="967.1" y="2087.2" width="18.4" height="18.4" fill="#fff" stroke="#000" stroke-width="1.8"/>
<rect x="957.8" y="2039.8" width="18.4" height="18.4" fill="#fff" stroke="#000" stroke-width="1.8"/>
<rect x="948.6" y="2105.1" width="18.4" height="18.4" fill="#fff" stroke="#000" stroke-width="1.8"/>
<rect x="939.3" y="2135.4" width="18.4" height="18.4" fill="#fff" stroke="#000" stroke-width="1.8"/>
<rect x="930.0" y="2201.0" width="18.4" height="18.4" fill="#fff" stroke="#000" stroke-width="1.8"/>
<rect x="920.7" y="2293.1" width="18.4" height="18.4" fill="#fff" stroke="#000" stroke-width="1.8"/>
<rect x="911.4" y="2255.5" width="18.4" height="18.4" fill="#fff" stroke="#000" stroke-width="1.8"/>
<rect x="902.2" y="2386.0" width="18.4" height="18.4" fill="#fff" stroke="#000" stroke-width="1.8"/>
<rect x="892.9" y="2332.5" width="18.4" height="18.4" fill="#fff" stroke="#000" stroke-width="1.8"/>
<rect x="883.6" y="2324.5" width="18.4" height="18.4" fill="#fff" stroke="#000" stroke-width="1.8"/>
<rect x="874.3" y="2409.5" width="18.4" height="18.4" fill="#fff" stroke="#000" stroke-width="1.8"/>
<rect x="865.0" y="2373.0" width="18.4" height="18.4" fill="#fff" stroke="#000" stroke-width="1.8"/>
<rect x="855.8" y="2382.9" width="18.4" height="18.4" fill="#fff" stroke="#000" stroke-width="1.8"/>
<rect x="846.5" y="2415.1" width="18.4" height="18.4" fill="#fff" stroke="#000" stroke-width="1.8"/>
<rect x="837.2" y="2530.8" width="18.4" height="18.4" fill="#fff" stroke="#000" stroke-width="1.8"/>
<rect x="827.9" y="2477.7" width="18.4" height="18.4" fill="#fff" stroke="#000" stroke-width="1.8"/>
<rect x="818.6" y="2457.2" width="18.4" height="18.4" fill="#fff" stroke="#000" stroke-width="1.8"/>
<rect x="809.4" y="2472.0" width="18.4" height="18.4" fill="#fff" stroke="#000" stroke-width="1.8"/>
<rect x="800.1" y="2432.6" width="18.4" height="18.4" fill="#fff" stroke="#000" stroke-width="1.8"/>
<rect x="790.8" y="2422.0" width="18.4" height="18.4" fill="#fff" stroke="#000" stroke-width="1.8"/>
<rect x="781.5" y="2370.8" width="18.4" height="18.4" fill="#fff" stroke="#000" stroke-width="1.8"/>
<rect x="772.2" y="2384.0" width="18.4" height="18.4" fill="#fff" stroke="#000" stroke-width="1.8"/>
<rect x="763.0" y="2370.0" width="18.4" height="18.4" fill="#fff" stroke="#000" stroke-width="1.8"/>
<rect x="753.7" y="2334.7" width="18.4" height="18.4" fill="#fff" stroke="#000" stroke-width="1.8"/>
<rect x="744.4" y="2333.6" width="18.4" height="18.4" fill="#fff" stroke="#000" stroke-width="1.8"/>
<rect x="735.1" y="2278.0" width="18.4" height="18.4" fill="#fff" stroke="#000" stroke-width="1.8"/>
<rect x="725.8" y="2310.4" width="18.4" height="18.4" fill="#fff" stroke="#000" stroke-width="1.8"/>
<rect x="716.6" y="2268.6" width="18.4" height="18.4" fill="#fff" stroke="#000" stroke-width="1.8"/>
<rect x="707.3" y="2209.1" width="18.4" height="18.4" fill="#fff" stroke="#000" stroke-width="1.8"/>
<rect x="698.0" y="2153.0" width="18.4" height="18.4" fill="#fff" stroke="#000" stroke-width="1.8"/>
<rect x="688.7" y="2058.1" width="18.4" height="18.4" fill="#fff" stroke="#000" stroke-width="1.8"/>
<rect x="679.4" y="2079.8" width="18.4" height="18.4" fill="#fff" stroke="#000" stroke-width="1.8"/>
<rect x="670.2" y="2031.0" width="18.4" height="18.4" fill="#fff" stroke="#000" stroke-width="1.8"/>
<rect x="660.9" y="1872.5" width="18.4" height="18.4" fill="#fff" stroke="#000" stroke-width="1.8"/>
<rect x="651.6" y="1872.5" width="18.4" height="18.4" fill="#fff" stroke="#000" stroke-width="1.8"/>
<rect x="642.3" y="1768.6" width="18.4" height="18.4" fill="#fff" stroke="#000" stroke-width="1.8"/>
<rect x="633.0" y="1846.0" width="18.4" height="18.4" fill="#fff" stroke="#000" stroke-width="1.8"/>
<rect x="623.8" y="1782.7" width="18.4" height="18.4" fill="#fff" stroke="#000" stroke-width="1.8"/>
<rect x="614.5" y="1738.6" width="18.4" height="18.4" fill="#fff" stroke="#000" stroke-width="1.8"/>
<rect x="605.2" y="1721.3" width="18.4" height="18.4" fill="#fff" stroke="#000" stroke-width="1.8"/>
<rect x="595.9" y="1782.7" width="18.4" height="18.4" fill="#fff" stroke="#000" stroke-width="1.8"/>
<rect x="586.6" y="1723.6" width="18.4" height="18.4" fill="#fff" stroke="#000" stroke-width="1.8"/>
<rect x="577.4" y="1693.2" width="18.4" height="18.4" fill="#fff" stroke="#000" stroke-width="1.8"/>
<rect x="568.1" y="1854.7" width="18.4" height="18.4" fill="#fff" stroke="#000" stroke-width="1.8"/>
<rect x="558.8" y="1931.8" width="18.4" height="18.4" fill="#fff" stroke="#000" stroke-width="1.8"/>
<rect x="549.5" y="1970.3" width="18.4" height="18.4" fill="#fff" stroke="#000" stroke-width="1.8"/>
<rect x="540.2" y="2011.5" width="18.4" height="18.4" fill="#fff" stroke="#000" stroke-width="1.8"/>
<rect x="531.0" y="2083.1" width="18.4" height="18.4" fill="#fff" stroke="#000" stroke-width="1.8"/>
<rect x="521.7" y="2187.8" width="18.4" height="18.4" fill="#fff" stroke="#000" stroke-width="1.8"/>
<rect x="512.4" y="2266.8" width="18.4" height="18.4" fill="#fff" stroke="#000" stroke-width="1.8"/>
<rect x="503.1" y="2381.7" width="18.4" height="18.4" fill="#fff" stroke="#000" stroke-width="1.8"/>
<rect x="493.8" y="2481.4" width="18.4" height="18.4" fill="#fff" stroke="#000" stroke-width="1.8"/>
<rect x="484.6" y="2443.5" width="18.4" height="18.4" fill="#fff" stroke="#000" stroke-width="1.8"/>
<rect x="475.3" y="2449.2" width="18.4" height="18.4" fill="#fff" stroke="#000" stroke-width="1.8"/>
<rect x="466.0" y="2468.2" width="18.4" height="18.4" fill="#fff" stroke="#000" stroke-width="1.8"/>
<rect x="456.7" y="2489.8" width="18.4" height="18.4" fill="#fff" stroke="#000" stroke-width="1.8"/>
<rect x="447.4" y="2566.0" width="18.4" height="18.4" fill="#fff" stroke="#000" stroke-width="1.8"/>
<rect x="438.2" y="2521.3" width="18.4" height="18.4" fill="#fff" stroke="#000" stroke-width="1.8"/>
<rect x="428.9" y="2595.2" width="18.4" height="18.4" fill="#fff" stroke="#000" stroke-width="1.8"/>
<rect x="419.6" y="2538.3" width="18.4" height="18.4" fill="#fff" stroke="#000" stroke-width="1.8"/>
<rect x="410.3" y="2474.6" width="18.4" height="18.4" fill="#fff" stroke="#000" stroke-width="1.8"/>
<rect x="401.0" y="2542.9" width="18.4" height="18.4" fill="#fff" stroke="#000" stroke-width="1.8"/>
<rect x="391.8" y="2539.2" width="18.4" height="18.4" fill="#fff" stroke="#000" stroke-width="1.8"/>
<rect x="382.5" y="2535.7" width="18.4" height="18.4" fill="#fff" stroke="#000" stroke-width="1.8"/>
<rect x="373.2" y="2567.9" width="18.4" height="18.4" fill="#fff" stroke="#000" stroke-width="1.8"/>
<rect x="363.9" y="2486.4" width="18.4" height="18.4" fill="#fff" stroke="#000" stroke-width="1.8"/>
<rect x="354.6" y="2556.5" width="18.4" height="18.4" fill="#fff" stroke="#000" stroke-width="1.8"/>
<rect x="345.4" y="2507.2" width="18.4" height="18.4" fill="#fff" stroke="#000" stroke-width="1.8"/>
<rect x="336.1" y="2507.2" width="18.4" height="18.4" fill="#fff" stroke="#000" stroke-width="1.8"/>
<rect x="326.8" y="2515.6" width="18.4" height="18.4" fill="#fff" stroke="#000" stroke-width="1.8"/>
<rect x="317.5" y="2500.4" width="18.4" height="18.4" fill="#fff" stroke="#000" stroke-width="1.8"/>
<rect x="308.2" y="2450.0" width="18.4" height="18.4" fill="#fff" stroke="#000" stroke-width="1.8"/>
<rect x="299.0" y="2449.2" width="18.4" height="18.4" fill="#fff" stroke="#000" stroke-width="1.8"/>
<rect x="289.7" y="2438.6" width="18.4" height="18.4" fill="#fff" stroke="#000" stroke-width="1.8"/>
<rect x="280.4" y="2448.1" width="18.4" height="18.4" fill="#fff" stroke="#000" stroke-width="1.8"/>
<rect x="271.1" y="2375.3" width="18.4" height="18.4" fill="#fff" stroke="#000" stroke-width="1.8"/>
<rect x="261.8" y="2413.2" width="18.4" height="18.4" fill="#fff" stroke="#000" stroke-width="1.8"/>
<rect x="252.6" y="2407.5" width="18.4" height="18.4" fill="#fff" stroke="#000" stroke-width="1.8"/>
<rect x="243.3" y="2454.9" width="18.4" height="18.4" fill="#fff" stroke="#000" stroke-width="1.8"/>
<rect x="234.0" y="2410.5" width="18.4" height="18.4" fill="#fff" stroke="#000" stroke-width="1.8"/>
<rect x="224.7" y="2384.0" width="18.4" height="18.4" fill="#fff" stroke="#000" stroke-width="1.8"/>
<rect x="215.4" y="2420.8" width="18.4" height="18.4" fill="#fff" stroke="#000" stroke-width="1.8"/>
<rect x="206.2" y="2449.2" width="18.4" height="18.4" fill="#fff" stroke="#000" stroke-width="1.8"/>
<rect x="196.9" y="2390.4" width="18.4" height="18.4" fill="#fff" stroke="#000" stroke-width="1.8"/>
</g>
<path d="M382.0,2576.5 L384.0,2576.5 L386.0,2576.5 L388.0,2576.5 L390.0,2576.5 L392.0,2576.5 L394.0,2576.5 L396.0,2576.5 L398.0,2576.5 L400.0,2576.5 L402.0,2576.4 L404.0,2576.4 L406.0,2576.4 L408.0,2576.4 L410.0,2576.4 L412.0,2576.4 L414.0,2576.4 L416.0,2576.4 L418.0,2576.3 L420.0,2576.3 L422.0,2576.3 L424.0,2576.3 L426.0,2576.3 L428.0,2576.3 L430.0,2576.3 L432.0,2576.3 L434.0,2576.2 L436.0,2576.2 L438.0,2576.2 L440.0,2576.2 L442.0,2576.2 L444.0,2576.2 L446.0,2576.1 L448.0,2576.1 L450.0,2576.1 L452.0,2576.1 L454.0,2576.1 L456.0,2576.0 L458.0,2576.0 L460.0,2576.0 L462.0,2576.0 L464.0,2576.0 L466.0,2575.9 L468.0,2575.9 L470.0,2575.9 L472.0,2575.8 L474.0,2575.8 L476.0,2575.8 L478.0,2575.7 L480.0,2575.7 L482.0,2575.7 L484.0,2575.6 L486.0,2575.6 L488.0,2575.5 L490.0,2575.5 L492.0,2575.4 L494.0,2575.4 L496.0,2575.3 L498.0,2575.2 L500.0,2575.2 L502.0,2575.1 L504.0,2575.0 L506.0,2574.9 L508.0,2574.8 L510.0,2574.8 L512.0,2574.7 L514.0,2574.6 L516.0,2574.4 L518.0,2574.3 L520.0,2574.2 L522.0,2574.1 L524.0,2574.0 L526.0,2573.8 L528.0,2573.7 L530.0,2573.5 L532.0,2573.3 L534.0,2573.2 L536.0,2573.0 L538.0,2572.8 L540.0,2572.6 L542.0,2572.4 L544.0,2572.2 L546.0,2572.0 L548.0,2571.8 L550.0,2571.5 L552.0,2571.3 L554.0,2571.0 L556.0,2570.8 L558.0,2570.5 L560.0,2570.2 L562.0,2569.9 L564.0,2569.7 L566.0,2569.4 L568.0,2569.1 L570.0,2568.7 L572.0,2568.4 L574.0,2568.1 L576.0,2567.8 L578.0,2567.4 L580.0,2567.1 L582.0,2566.8 L584.0,2566.4 L586.0,2566.0 L588.0,2565.7 L590.0,2565.3 L592.0,2565.0 L594.0,2564.6 L596.0,2564.2 L598.0,2563.8 L600.0,2563.5 L602.0,2563.1 L604.0,2562.7 L606.0,2562.3 L608.0,2562.0 L610.0,2561.6 L612.0,2561.2 L614.0,2560.8 L616.0,2560.5 L618.0,2560.1 L620.0,2559.7 L622.0,2559.4 L624.0,2559.0 L626.0,2558.6 L628.0,2558.3 L630.0,2557.9 L632.0,2557.6 L634.0,2557.2 L636.0,2556.9 L638.0,2556.5 L640.0,2556.2 L642.0,2555.8 L644.0,2555.5 L646.0,2555.2 L648.0,2554.9 L650.0,2554.5 L652.0,2554.2 L654.0,2553.9 L656.0,2553.6 L658.0,2553.3 L660.0,2553.0 L662.0,2552.7 L664.0,2552.4 L666.0,2552.1 L668.0,2551.9 L670.0,2551.6 L672.0,2551.3 L674.0,2551.1 L676.0,2550.8 L678.0,2550.6 L680.0,2550.3 L682.0,2550.1 L684.0,2549.8 L686.0,2549.6 L688.0,2549.4 L690.0,2549.2 L692.0,2548.9 L694.0,2548.7 L696.0,2548.5 L698.0,2548.3 L700.0,2548.1 L702.0,2547.9 L704.0,2547.7 L706.0,2547.6 L708.0,2547.4 L710.0,2547.2 L712.0,2547.0 L714.0,2546.9 L716.0,2546.7 L718.0,2546.6 L720.0,2546.4 L722.0,2546.3 L724.0,2546.1 L726.0,2546.0 L728.0,2545.9 L730.0,2545.7 L732.0,2545.6 L734.0,2545.5 L736.0,2545.4 L738.0,2545.2 L740.0,2545.1 L742.0,2545.0 L744.0,2544.9 L746.0,2544.8 L748.0,2544.7 L750.0,2544.6 L752.0,2544.5 L754.0,2544.4 L756.0,2544.3 L758.0,2544.3 L760.0,2544.2 L762.0,2544.1 L764.0,2544.0 L766.0,2543.9 L768.0,2543.9 L770.0,2543.8 L772.0,2543.7 L774.0,2543.7 L776.0,2543.6 L778.0,2543.5 L780.0,2543.5 L782.0,2543.4 L784.0,2543.4 L786.0,2543.3 L788.0,2543.3 L790.0,2543.2 L792.0,2543.2 L794.0,2543.1 L796.0,2543.1 L798.0,2543.0 L800.0,2543.0 L802.0,2542.9 L804.0,2542.9 L806.0,2542.8 L808.0,2542.8 L810.0,2542.7 L812.0,2542.7 L814.0,2542.7 L816.0,2542.6 L818.0,2542.6 L820.0,2542.6 L822.0,2542.5 L824.0,2542.5 L826.0,2542.4 L828.0,2542.4 L830.0,2542.4 L832.0,2542.3 L834.0,2542.3 L836.0,2542.3 L838.0,2542.2 L840.0,2542.2 L842.0,2542.1 L844.0,2542.1 L846.0,2542.1 L848.0,2542.0 L850.0,2542.0 L852.0,2541.9 L854.0,2541.9 L856.0,2541.9 L858.0,2541.8 L860.0,2541.8 L862.0,2541.7 L864.0,2541.7 L866.0,2541.6 L868.0,2541.6 L870.0,2541.6 L872.0,2541.5 L874.0,2541.5 L876.0,2541.4 L878.0,2541.3 L880.0,2541.3 L882.0,2541.2 L884.0,2541.2 L886.0,2541.1 L888.0,2541.1 L890.0,2541.0 L892.0,2540.9 L894.0,2540.9 L896.0,2540.8 L898.0,2540.7 L900.0,2540.6 L902.0,2540.6 L904.0,2540.5 L906.0,2540.4 L908.0,2540.3 L910.0,2540.2 L912.0,2540.1 L914.0,2540.0 L916.0,2539.9 L918.0,2539.8 L920.0,2539.7 L922.0,2539.6 L924.0,2539.5 L926.0,2539.4 L928.0,2539.3 L930.0,2539.2 L932.0,2539.0 L934.0,2538.9 L936.0,2538.8 L938.0,2538.6 L940.0,2538.5 L942.0,2538.4 L944.0,2538.2 L946.0,2538.1 L948.0,2537.9 L950.0,2537.7 L952.0,2537.6 L954.0,2537.4 L956.0,2537.2 L958.0,2537.1 L960.0,2536.9 L962.0,2536.7 L964.0,2536.5 L966.0,2536.3 L968.0,2536.1 L970.0,2535.9 L972.0,2535.7 L974.0,2535.5 L976.0,2535.2 L978.0,2535.0 L980.0,2534.8 L982.0,2534.6 L984.0,2534.3 L986.0,2534.1 L988.0,2533.8 L990.0,2533.6 L992.0,2533.3 L994.0,2533.1 L996.0,2532.8 L998.0,2532.6 L1000.0,2532.3 L1002.0,2532.0 L1004.0,2531.7 L1006.0,2531.4 L1008.0,2531.2 L1010.0,2530.9 L1012.0,2530.6 L1014.0,2530.3 L1016.0,2530.0 L1018.0,2529.7 L1020.0,2529.3 L1022.0,2529.0 L1024.0,2528.7 L1026.0,2528.4 L1028.0,2528.1 L1030.0,2527.7 L1032.0,2527.4 L1034.0,2527.1 L1036.0,2526.8 L1038.0,2526.4 L1040.0,2526.1 L1042.0,2525.7 L1044.0,2525.4 L1046.0,2525.0 L1048.0,2524.7 L1050.0,2524.3 L1052.0,2524.0 L1054.0,2523.6 L1056.0,2523.3 L1058.0,2522.9 L1060.0,2522.6 L1062.0,2522.2 L1064.0,2521.9 L1066.0,2521.5 L1068.0,2521.1 L1070.0,2520.8 L1072.0,2520.4 L1074.0,2520.1 L1076.0,2519.7 L1078.0,2519.3 L1080.0,2519.0 L1082.0,2518.6 L1084.0,2518.2 L1086.0,2517.9 L1088.0,2517.5 L1090.0,2517.2 L1092.0,2516.8 L1094.0,2516.5 L1096.0,2516.1 L1098.0,2515.8 L1100.0,2515.4 L1102.0,2515.1 L1104.0,2514.7 L1106.0,2514.4 L1108.0,2514.0 L1110.0,2513.7 L1112.0,2513.4 L1114.0,2513.0 L1116.0,2512.7 L1118.0,2512.4 L1120.0,2512.0 L1122.0,2511.7 L1124.0,2511.4 L1126.0,2511.1 L1128.0,2510.8 L1130.0,2510.5 L1132.0,2510.2 L1134.0,2509.9 L1136.0,2509.6 L1138.0,2509.3 L1140.0,2509.0 L1142.0,2508.7 L1144.0,2508.5 L1146.0,2508.2 L1148.0,2507.9 L1150.0,2507.7 L1152.0,2507.4 L1154.0,2507.1 L1156.0,2506.9 L1158.0,2506.7 L1160.0,2506.4 L1162.0,2506.2 L1164.0,2506.0 L1166.0,2505.7 L1168.0,2505.5 L1170.0,2505.3 L1172.0,2505.1 L1174.0,2504.9 L1176.0,2504.7 L1178.0,2504.5 L1180.0,2504.3 L1182.0,2504.2 L1184.0,2504.0 L1186.0,2503.8 L1188.0,2503.7 L1190.0,2503.5 L1192.0,2503.3 L1194.0,2503.2 L1196.0,2503.0 L1198.0,2502.9 L1200.0,2502.8 L1202.0,2502.6 L1204.0,2502.5 L1206.0,2502.4 L1208.0,2502.3 L1210.0,2502.2 L1212.0,2502.1 L1214.0,2502.0 L1216.0,2501.9 L1218.0,2501.8 L1220.0,2501.7 L1222.0,2501.6 L1224.0,2501.5 L1226.0,2501.4 L1228.0,2501.3 L1230.0,2501.3 L1232.0,2501.2 L1234.0,2501.1 L1236.0,2501.1 L1238.0,2501.0 L1240.0,2500.9 L1242.0,2500.9 L1244.0,2500.8 L1246.0,2500.8 L1248.0,2500.7 L1250.0,2500.7 L1252.0,2500.6 L1254.0,2500.6 L1256.0,2500.6 L1258.0,2500.5 L1260.0,2500.5 L1262.0,2500.5 L1264.0,2500.4 L1266.0,2500.4 L1268.0,2500.4 L1270.0,2500.3 L1272.0,2500.3 L1274.0,2500.3 L1276.0,2500.3 L1278.0,2500.2 L1280.0,2500.2 L1282.0,2500.2 L1284.0,2500.2 L1286.0,2500.2 L1288.0,2500.2 L1290.0,2500.1 L1292.0,2500.1 L1294.0,2500.1 L1296.0,2500.1 L1298.0,2500.1 L1300.0,2500.1 L1302.0,2500.1 L1304.0,2500.1 L1306.0,2500.0 L1308.0,2500.0 L1310.0,2500.0 L1312.0,2500.0 L1314.0,2500.0 L1316.0,2500.0 L1318.0,2500.0 L1320.0,2500.0 L1322.0,2500.0 L1324.0,2500.0 L1326.0,2500.0 L1328.0,2500.0 L1330.0,2500.0 L1332.0,2500.0 L1334.0,2500.0 L1336.0,2499.9 L1338.0,2499.9 L1340.0,2499.9 L1342.0,2499.9 L1344.0,2499.9 L1346.0,2499.9 L1348.0,2499.9 L1350.0,2499.9 L1352.0,2499.9 L1354.0,2499.9 L1356.0,2499.9 L1358.0,2499.9 L1360.0,2499.9 L1362.0,2499.9 L1364.0,2499.9 L1366.0,2499.9 L1368.0,2499.9" fill="none" stroke="#808080" stroke-width="4.8"/>
<path d="M382.0,2556.3 L384.0,2556.0 L386.0,2555.7 L388.0,2555.4 L390.0,2555.1 L392.0,2554.8 L394.0,2554.5 L396.0,2554.1 L398.0,2553.8 L400.0,2553.4 L402.0,2553.0 L404.0,2552.7 L406.0,2552.2 L408.0,2551.8 L410.0,2551.4 L412.0,2550.9 L414.0,2550.5 L416.0,2550.0 L418.0,2549.4 L420.0,2548.9 L422.0,2548.3 L424.0,2547.7 L426.0,2547.0 L428.0,2546.3 L430.0,2545.6 L432.0,2544.8 L434.0,2544.0 L436.0,2543.1 L438.0,2542.1 L440.0,2541.0 L442.0,2539.9 L444.0,2538.7 L446.0,2537.4 L448.0,2536.0 L450.0,2534.5 L452.0,2532.9 L454.0,2531.1 L456.0,2529.2 L458.0,2527.1 L460.0,2524.9 L462.0,2522.5 L464.0,2519.8 L466.0,2517.0 L468.0,2514.0 L470.0,2510.7 L472.0,2507.1 L474.0,2503.3 L476.0,2499.2 L478.0,2494.8 L480.0,2490.1 L482.0,2485.0 L484.0,2479.5 L486.0,2473.7 L488.0,2467.5 L490.0,2460.9 L492.0,2453.8 L494.0,2446.3 L496.0,2438.4 L498.0,2429.9 L500.0,2421.0 L502.0,2411.6 L504.0,2401.7 L506.0,2391.2 L508.0,2380.3 L510.0,2368.8 L512.0,2356.8 L514.0,2344.3 L516.0,2331.2 L518.0,2317.6 L520.0,2303.6 L522.0,2289.0 L524.0,2274.0 L526.0,2258.5 L528.0,2242.6 L530.0,2226.2 L532.0,2209.5 L534.0,2192.5 L536.0,2175.1 L538.0,2157.4 L540.0,2139.5 L542.0,2121.4 L544.0,2103.2 L546.0,2084.9 L548.0,2066.5 L550.0,2048.2 L552.0,2029.9 L554.0,2011.7 L556.0,1993.7 L558.0,1975.9 L560.0,1958.3 L562.0,1941.2 L564.0,1924.4 L566.0,1908.0 L568.0,1892.1 L570.0,1876.8 L572.0,1862.1 L574.0,1848.0 L576.0,1834.6 L578.0,1821.9 L580.0,1809.9 L582.0,1798.7 L584.0,1788.3 L586.0,1778.7 L588.0,1770.0 L590.0,1762.1 L592.0,1755.1 L594.0,1748.9 L596.0,1743.7 L598.0,1739.2 L600.0,1735.6 L602.0,1732.9 L604.0,1731.0 L606.0,1729.8 L608.0,1729.5 L610.0,1729.9 L612.0,1731.0 L614.0,1732.8 L616.0,1735.3 L618.0,1738.5 L620.0,1742.2 L622.0,1746.5 L624.0,1751.3 L626.0,1756.7 L628.0,1762.5 L630.0,1768.7 L632.0,1775.4 L634.0,1782.4 L636.0,1789.8 L638.0,1797.6 L640.0,1805.6 L642.0,1813.9 L644.0,1822.5 L646.0,1831.4 L648.0,1840.5 L650.0,1849.8 L652.0,1859.3 L654.0,1869.0 L656.0,1878.9 L658.0,1889.0 L660.0,1899.2 L662.0,1909.6 L664.0,1920.1 L666.0,1930.7 L668.0,1941.5 L670.0,1952.3 L672.0,1963.2 L674.0,1974.2 L676.0,1985.3 L678.0,1996.4 L680.0,2007.5 L682.0,2018.7 L684.0,2029.8 L686.0,2040.9 L688.0,2052.0 L690.0,2063.1 L692.0,2074.0 L694.0,2085.0 L696.0,2095.8 L698.0,2106.5 L700.0,2117.2 L702.0,2127.7 L704.0,2138.1 L706.0,2148.4 L708.0,2158.5 L710.0,2168.5 L712.0,2178.4 L714.0,2188.1 L716.0,2197.6 L718.0,2207.0 L720.0,2216.2 L722.0,2225.2 L724.0,2234.1 L726.0,2242.8 L728.0,2251.3 L730.0,2259.7 L732.0,2267.8 L734.0,2275.8 L736.0,2283.6 L738.0,2291.3 L740.0,2298.7 L742.0,2306.0 L744.0,2313.1 L746.0,2320.0 L748.0,2326.8 L750.0,2333.3 L752.0,2339.7 L754.0,2345.9 L756.0,2351.9 L758.0,2357.8 L760.0,2363.5 L762.0,2369.0 L764.0,2374.3 L766.0,2379.4 L768.0,2384.4 L770.0,2389.2 L772.0,2393.9 L774.0,2398.4 L776.0,2402.7 L778.0,2406.8 L780.0,2410.8 L782.0,2414.6 L784.0,2418.2 L786.0,2421.7 L788.0,2425.0 L790.0,2428.2 L792.0,2431.2 L794.0,2434.1 L796.0,2436.8 L798.0,2439.3 L800.0,2441.7 L802.0,2443.9 L804.0,2446.0 L806.0,2448.0 L808.0,2449.8 L810.0,2451.4 L812.0,2453.0 L814.0,2454.3 L816.0,2455.5 L818.0,2456.6 L820.0,2457.6 L822.0,2458.4 L824.0,2459.0 L826.0,2459.5 L828.0,2459.9 L830.0,2460.1 L832.0,2460.2 L834.0,2460.1 L836.0,2459.9 L838.0,2459.6 L840.0,2459.1 L842.0,2458.5 L844.0,2457.7 L846.0,2456.7 L848.0,2455.7 L850.0,2454.4 L852.0,2453.0 L854.0,2451.5 L856.0,2449.8 L858.0,2448.0 L860.0,2445.9 L862.0,2443.8 L864.0,2441.4 L866.0,2438.9 L868.0,2436.3 L870.0,2433.4 L872.0,2430.4 L874.0,2427.2 L876.0,2423.9 L878.0,2420.3 L880.0,2416.6 L882.0,2412.7 L884.0,2408.7 L886.0,2404.4 L888.0,2400.0 L890.0,2395.3 L892.0,2390.5 L894.0,2385.5 L896.0,2380.3 L898.0,2375.0 L900.0,2369.4 L902.0,2363.6 L904.0,2357.7 L906.0,2351.6 L908.0,2345.2 L910.0,2338.7 L912.0,2332.0 L914.0,2325.1 L916.0,2318.1 L918.0,2310.8 L920.0,2303.4 L922.0,2295.7 L924.0,2288.0 L926.0,2280.0 L928.0,2271.9 L930.0,2263.6 L932.0,2255.1 L934.0,2246.5 L936.0,2237.7 L938.0,2228.8 L940.0,2219.7 L942.0,2210.5 L944.0,2201.2 L946.0,2191.7 L948.0,2182.2 L950.0,2172.5 L952.0,2162.7 L954.0,2152.8 L956.0,2142.8 L958.0,2132.7 L960.0,2122.6 L962.0,2112.4 L964.0,2102.1 L966.0,2091.8 L968.0,2081.4 L970.0,2071.0 L972.0,2060.6 L974.0,2050.2 L976.0,2039.7 L978.0,2029.3 L980.0,2018.9 L982.0,2008.5 L984.0,1998.1 L986.0,1987.7 L988.0,1977.5 L990.0,1967.2 L992.0,1957.1 L994.0,1947.0 L996.0,1937.0 L998.0,1927.1 L1000.0,1917.4 L1002.0,1907.7 L1004.0,1898.2 L1006.0,1888.7 L1008.0,1879.5 L1010.0,1870.4 L1012.0,1861.4 L1014.0,1852.7 L1016.0,1844.1 L1018.0,1835.7 L1020.0,1827.5 L1022.0,1819.5 L1024.0,1811.7 L1026.0,1804.1 L1028.0,1796.8 L1030.0,1789.7 L1032.0,1782.8 L1034.0,1776.2 L1036.0,1769.8 L1038.0,1763.7 L1040.0,1757.9 L1042.0,1752.3 L1044.0,1747.0 L1046.0,1742.0 L1048.0,1737.3 L1050.0,1732.8 L1052.0,1728.7 L1054.0,1724.8 L1056.0,1721.3 L1058.0,1718.1 L1060.0,1715.2 L1062.0,1712.6 L1064.0,1710.3 L1066.0,1708.3 L1068.0,1706.7 L1070.0,1705.4 L1072.0,1704.4 L1074.0,1703.8 L1076.0,1703.5 L1078.0,1703.5 L1080.0,1703.9 L1082.0,1704.6 L1084.0,1705.6 L1086.0,1707.0 L1088.0,1708.7 L1090.0,1710.8 L1092.0,1713.2 L1094.0,1716.0 L1096.0,1719.1 L1098.0,1722.6 L1100.0,1726.3 L1102.0,1730.5 L1104.0,1734.9 L1106.0,1739.8 L1108.0,1744.9 L1110.0,1750.4 L1112.0,1756.2 L1114.0,1762.3 L1116.0,1768.7 L1118.0,1775.5 L1120.0,1782.5 L1122.0,1789.9 L1124.0,1797.5 L1126.0,1805.5 L1128.0,1813.7 L1130.0,1822.2 L1132.0,1830.9 L1134.0,1839.9 L1136.0,1849.2 L1138.0,1858.7 L1140.0,1868.4 L1142.0,1878.3 L1144.0,1888.4 L1146.0,1898.7 L1148.0,1909.2 L1150.0,1919.9 L1152.0,1930.7 L1154.0,1941.7 L1156.0,1952.7 L1158.0,1963.9 L1160.0,1975.2 L1162.0,1986.6 L1164.0,1998.0 L1166.0,2009.5 L1168.0,2021.1 L1170.0,2032.6 L1172.0,2044.2 L1174.0,2055.8 L1176.0,2067.4 L1178.0,2079.0 L1180.0,2090.5 L1182.0,2102.0 L1184.0,2113.4 L1186.0,2124.7 L1188.0,2135.9 L1190.0,2147.1 L1192.0,2158.1 L1194.0,2169.0 L1196.0,2179.8 L1198.0,2190.5 L1200.0,2201.0 L1202.0,2211.3 L1204.0,2221.5 L1206.0,2231.5 L1208.0,2241.3 L1210.0,2250.9 L1212.0,2260.4 L1214.0,2269.6 L1216.0,2278.6 L1218.0,2287.5 L1220.0,2296.1 L1222.0,2304.5 L1224.0,2312.6 L1226.0,2320.6 L1228.0,2328.3 L1230.0,2335.8 L1232.0,2343.1 L1234.0,2350.2 L1236.0,2357.0 L1238.0,2363.6 L1240.0,2370.0 L1242.0,2376.1 L1244.0,2382.1 L1246.0,2387.8 L1248.0,2393.3 L1250.0,2398.6 L1252.0,2403.7 L1254.0,2408.6 L1256.0,2413.3 L1258.0,2417.8 L1260.0,2422.1 L1262.0,2426.2 L1264.0,2430.1 L1266.0,2433.8 L1268.0,2437.4 L1270.0,2440.8 L1272.0,2444.0 L1274.0,2447.1 L1276.0,2450.0 L1278.0,2452.8 L1280.0,2455.4 L1282.0,2457.9 L1284.0,2460.3 L1286.0,2462.5 L1288.0,2464.6 L1290.0,2466.6 L1292.0,2468.5 L1294.0,2470.3 L1296.0,2471.9 L1298.0,2473.5 L1300.0,2475.0 L1302.0,2476.4 L1304.0,2477.7 L1306.0,2478.9 L1308.0,2480.0 L1310.0,2481.1 L1312.0,2482.1 L1314.0,2483.1 L1316.0,2483.9 L1318.0,2484.7 L1320.0,2485.5 L1322.0,2486.2 L1324.0,2486.9 L1326.0,2487.5 L1328.0,2488.1 L1330.0,2488.6 L1332.0,2489.1 L1334.0,2489.6 L1336.0,2490.0 L1338.0,2490.4 L1340.0,2490.8 L1342.0,2491.1 L1344.0,2491.4 L1346.0,2491.7 L1348.0,2492.0 L1350.0,2492.3 L1352.0,2492.5 L1354.0,2492.7 L1356.0,2492.9 L1358.0,2493.1 L1360.0,2493.3 L1362.0,2493.5 L1364.0,2493.6 L1366.0,2493.8 L1368.0,2493.9" fill="none" stroke="#ff0000" stroke-width="5"/>
<path d="M382.0,2556.8 L384.0,2556.5 L386.0,2556.2 L388.0,2555.9 L390.0,2555.6 L392.0,2555.3 L394.0,2555.0 L396.0,2554.7 L398.0,2554.4 L400.0,2554.1 L402.0,2553.7 L404.0,2553.4 L406.0,2553.0 L408.0,2552.7 L410.0,2552.3 L412.0,2551.9 L414.0,2551.5 L416.0,2551.1 L418.0,2550.7 L420.0,2550.3 L422.0,2549.9 L424.0,2549.4 L426.0,2549.0 L428.0,2548.5 L430.0,2548.0 L432.0,2547.5 L434.0,2547.0 L436.0,2546.5 L438.0,2545.9 L440.0,2545.4 L442.0,2544.8 L444.0,2544.2 L446.0,2543.5 L448.0,2542.9 L450.0,2542.2 L452.0,2541.5 L454.0,2540.8 L456.0,2540.1 L458.0,2539.3 L460.0,2538.5 L462.0,2537.7 L464.0,2536.8 L466.0,2535.9 L468.0,2535.0 L470.0,2534.0 L472.0,2533.0 L474.0,2531.9 L476.0,2530.8 L478.0,2529.7 L480.0,2528.5 L482.0,2527.2 L484.0,2525.9 L486.0,2524.6 L488.0,2523.1 L490.0,2521.7 L492.0,2520.1 L494.0,2518.5 L496.0,2516.9 L498.0,2515.1 L500.0,2513.3 L502.0,2511.4 L504.0,2509.4 L506.0,2507.3 L508.0,2505.2 L510.0,2502.9 L512.0,2500.6 L514.0,2498.1 L516.0,2495.6 L518.0,2492.9 L520.0,2490.2 L522.0,2487.3 L524.0,2484.3 L526.0,2481.2 L528.0,2477.9 L530.0,2474.6 L532.0,2471.1 L534.0,2467.5 L536.0,2463.7 L538.0,2459.8 L540.0,2455.8 L542.0,2451.6 L544.0,2447.3 L546.0,2442.8 L548.0,2438.2 L550.0,2433.4 L552.0,2428.5 L554.0,2423.4 L556.0,2418.2 L558.0,2412.8 L560.0,2407.2 L562.0,2401.5 L564.0,2395.7 L566.0,2389.6 L568.0,2383.5 L570.0,2377.1 L572.0,2370.6 L574.0,2364.0 L576.0,2357.2 L578.0,2350.3 L580.0,2343.2 L582.0,2336.0 L584.0,2328.7 L586.0,2321.2 L588.0,2313.6 L590.0,2305.9 L592.0,2298.1 L594.0,2290.2 L596.0,2282.2 L598.0,2274.1 L600.0,2266.0 L602.0,2257.8 L604.0,2249.5 L606.0,2241.2 L608.0,2232.9 L610.0,2224.6 L612.0,2216.3 L614.0,2208.1 L616.0,2199.9 L618.0,2191.7 L620.0,2183.7 L622.0,2175.7 L624.0,2167.9 L626.0,2160.3 L628.0,2152.8 L630.0,2145.5 L632.0,2138.5 L634.0,2131.7 L636.0,2125.3 L638.0,2119.1 L640.0,2113.3 L642.0,2107.9 L644.0,2102.8 L646.0,2098.2 L648.0,2094.0 L650.0,2090.2 L652.0,2087.0 L654.0,2084.2 L656.0,2082.0 L658.0,2080.2 L660.0,2079.0 L662.0,2078.4 L664.0,2078.3 L666.0,2078.7 L668.0,2079.6 L670.0,2081.1 L672.0,2083.1 L674.0,2085.6 L676.0,2088.6 L678.0,2092.1 L680.0,2096.0 L682.0,2100.3 L684.0,2105.0 L686.0,2110.2 L688.0,2115.6 L690.0,2121.4 L692.0,2127.5 L694.0,2133.9 L696.0,2140.5 L698.0,2147.3 L700.0,2154.3 L702.0,2161.5 L704.0,2168.9 L706.0,2176.4 L708.0,2183.9 L710.0,2191.6 L712.0,2199.3 L714.0,2207.0 L716.0,2214.8 L718.0,2222.6 L720.0,2230.3 L722.0,2238.1 L724.0,2245.8 L726.0,2253.4 L728.0,2261.0 L730.0,2268.6 L732.0,2276.0 L734.0,2283.4 L736.0,2290.6 L738.0,2297.8 L740.0,2304.8 L742.0,2311.7 L744.0,2318.5 L746.0,2325.2 L748.0,2331.8 L750.0,2338.2 L752.0,2344.4 L754.0,2350.6 L756.0,2356.6 L758.0,2362.4 L760.0,2368.1 L762.0,2373.6 L764.0,2379.1 L766.0,2384.3 L768.0,2389.4 L770.0,2394.4 L772.0,2399.2 L774.0,2403.9 L776.0,2408.4 L778.0,2412.8 L780.0,2417.0 L782.0,2421.1 L784.0,2425.1 L786.0,2428.9 L788.0,2432.6 L790.0,2436.2 L792.0,2439.7 L794.0,2443.0 L796.0,2446.2 L798.0,2449.3 L800.0,2452.2 L802.0,2455.1 L804.0,2457.8 L806.0,2460.5 L808.0,2463.0 L810.0,2465.4 L812.0,2467.8 L814.0,2470.0 L816.0,2472.2 L818.0,2474.2 L820.0,2476.2 L822.0,2478.1 L824.0,2479.9 L826.0,2481.7 L828.0,2483.3 L830.0,2485.0 L832.0,2486.5 L834.0,2488.0 L836.0,2489.4 L838.0,2490.7 L840.0,2492.0 L842.0,2493.2 L844.0,2494.4 L846.0,2495.6 L848.0,2496.7 L850.0,2497.7 L852.0,2498.7 L854.0,2499.7 L856.0,2500.6 L858.0,2501.5 L860.0,2502.3 L862.0,2503.1 L864.0,2503.9 L866.0,2504.6 L868.0,2505.3 L870.0,2506.0 L872.0,2506.7 L874.0,2507.3 L876.0,2507.9 L878.0,2508.5 L880.0,2509.1 L882.0,2509.6 L884.0,2510.1 L886.0,2510.6 L888.0,2511.1 L890.0,2511.6 L892.0,2512.0 L894.0,2512.4 L896.0,2512.8 L898.0,2513.2 L900.0,2513.6 L902.0,2514.0 L904.0,2514.3 L906.0,2514.6 L908.0,2514.9 L910.0,2515.2 L912.0,2515.5 L914.0,2515.8 L916.0,2516.1 L918.0,2516.3 L920.0,2516.6 L922.0,2516.8 L924.0,2517.0 L926.0,2517.2 L928.0,2517.4 L930.0,2517.6 L932.0,2517.8 L934.0,2517.9 L936.0,2518.1 L938.0,2518.2 L940.0,2518.4 L942.0,2518.5 L944.0,2518.6 L946.0,2518.7 L948.0,2518.8 L950.0,2518.9 L952.0,2519.0 L954.0,2519.1 L956.0,2519.1 L958.0,2519.2 L960.0,2519.2 L962.0,2519.2 L964.0,2519.3 L966.0,2519.3 L968.0,2519.3 L970.0,2519.3 L972.0,2519.3 L974.0,2519.3 L976.0,2519.3 L978.0,2519.2 L980.0,2519.2 L982.0,2519.1 L984.0,2519.1 L986.0,2519.0 L988.0,2518.9 L990.0,2518.9 L992.0,2518.8 L994.0,2518.7 L996.0,2518.6 L998.0,2518.5 L1000.0,2518.4 L1002.0,2518.2 L1004.0,2518.1 L1006.0,2518.0 L1008.0,2517.8 L1010.0,2517.7 L1012.0,2517.5 L1014.0,2517.4 L1016.0,2517.2 L1018.0,2517.1 L1020.0,2516.9 L1022.0,2516.7 L1024.0,2516.5 L1026.0,2516.3 L1028.0,2516.1 L1030.0,2515.9 L1032.0,2515.7 L1034.0,2515.5 L1036.0,2515.3 L1038.0,2515.1 L1040.0,2514.8 L1042.0,2514.6 L1044.0,2514.4 L1046.0,2514.1 L1048.0,2513.9 L1050.0,2513.7 L1052.0,2513.4 L1054.0,2513.2 L1056.0,2512.9 L1058.0,2512.7 L1060.0,2512.4 L1062.0,2512.1 L1064.0,2511.9 L1066.0,2511.6 L1068.0,2511.3 L1070.0,2511.1 L1072.0,2510.8 L1074.0,2510.5 L1076.0,2510.3 L1078.0,2510.0 L1080.0,2509.7 L1082.0,2509.4 L1084.0,2509.2 L1086.0,2508.9 L1088.0,2508.6 L1090.0,2508.3 L1092.0,2508.1 L1094.0,2507.8 L1096.0,2507.5 L1098.0,2507.2 L1100.0,2507.0 L1102.0,2506.7 L1104.0,2506.4 L1106.0,2506.1 L1108.0,2505.9 L1110.0,2505.6 L1112.0,2505.3 L1114.0,2505.1 L1116.0,2504.8 L1118.0,2504.5 L1120.0,2504.3 L1122.0,2504.0 L1124.0,2503.8 L1126.0,2503.5 L1128.0,2503.3 L1130.0,2503.0 L1132.0,2502.8 L1134.0,2502.6 L1136.0,2502.3 L1138.0,2502.1 L1140.0,2501.9 L1142.0,2501.6 L1144.0,2501.4 L1146.0,2501.2 L1148.0,2501.0 L1150.0,2500.8 L1152.0,2500.6 L1154.0,2500.4 L1156.0,2500.2 L1158.0,2500.0 L1160.0,2499.8 L1162.0,2499.7 L1164.0,2499.5 L1166.0,2499.3 L1168.0,2499.1 L1170.0,2499.0 L1172.0,2498.8 L1174.0,2498.7 L1176.0,2498.5 L1178.0,2498.4 L1180.0,2498.2 L1182.0,2498.1 L1184.0,2498.0 L1186.0,2497.9 L1188.0,2497.7 L1190.0,2497.6 L1192.0,2497.5 L1194.0,2497.4 L1196.0,2497.3 L1198.0,2497.2 L1200.0,2497.1 L1202.0,2497.0 L1204.0,2496.9 L1206.0,2496.9 L1208.0,2496.8 L1210.0,2496.7 L1212.0,2496.6 L1214.0,2496.6 L1216.0,2496.5 L1218.0,2496.4 L1220.0,2496.4 L1222.0,2496.3 L1224.0,2496.3 L1226.0,2496.3 L1228.0,2496.2 L1230.0,2496.2 L1232.0,2496.1 L1234.0,2496.1 L1236.0,2496.1 L1238.0,2496.0 L1240.0,2496.0 L1242.0,2496.0 L1244.0,2496.0 L1246.0,2496.0 L1248.0,2495.9 L1250.0,2495.9 L1252.0,2495.9 L1254.0,2495.9 L1256.0,2495.9 L1258.0,2495.9 L1260.0,2495.9 L1262.0,2495.9 L1264.0,2495.9 L1266.0,2495.9 L1268.0,2495.9 L1270.0,2495.9 L1272.0,2495.9 L1274.0,2495.9 L1276.0,2495.9 L1278.0,2495.9 L1280.0,2495.9 L1282.0,2495.9 L1284.0,2495.9 L1286.0,2495.9 L1288.0,2495.9 L1290.0,2496.0 L1292.0,2496.0 L1294.0,2496.0 L1296.0,2496.0 L1298.0,2496.0 L1300.0,2496.0 L1302.0,2496.0 L1304.0,2496.1 L1306.0,2496.1 L1308.0,2496.1 L1310.0,2496.1 L1312.0,2496.1 L1314.0,2496.1 L1316.0,2496.1 L1318.0,2496.2 L1320.0,2496.2 L1322.0,2496.2 L1324.0,2496.2 L1326.0,2496.2 L1328.0,2496.2 L1330.0,2496.3 L1332.0,2496.3 L1334.0,2496.3 L1336.0,2496.3 L1338.0,2496.3 L1340.0,2496.3 L1342.0,2496.4 L1344.0,2496.4 L1346.0,2496.4 L1348.0,2496.4 L1350.0,2496.4 L1352.0,2496.4 L1354.0,2496.5 L1356.0,2496.5 L1358.0,2496.5 L1360.0,2496.5 L1362.0,2496.5 L1364.0,2496.5 L1366.0,2496.6 L1368.0,2496.6" fill="none" stroke="#008000" stroke-width="4.5" stroke-dasharray="7 12.5" stroke-linecap="round"/>
<path d="M382.0,2576.5 L384.0,2576.5 L386.0,2576.5 L388.0,2576.4 L390.0,2576.4 L392.0,2576.4 L394.0,2576.4 L396.0,2576.3 L398.0,2576.3 L400.0,2576.3 L402.0,2576.2 L404.0,2576.2 L406.0,2576.1 L408.0,2576.1 L410.0,2576.0 L412.0,2575.9 L414.0,2575.8 L416.0,2575.7 L418.0,2575.6 L420.0,2575.4 L422.0,2575.3 L424.0,2575.1 L426.0,2574.9 L428.0,2574.6 L430.0,2574.4 L432.0,2574.1 L434.0,2573.7 L436.0,2573.4 L438.0,2572.9 L440.0,2572.4 L442.0,2571.9 L444.0,2571.3 L446.0,2570.6 L448.0,2569.8 L450.0,2568.9 L452.0,2568.0 L454.0,2566.9 L456.0,2565.7 L458.0,2564.4 L460.0,2563.0 L462.0,2561.4 L464.0,2559.6 L466.0,2557.6 L468.0,2555.5 L470.0,2553.2 L472.0,2550.6 L474.0,2547.8 L476.0,2544.8 L478.0,2541.5 L480.0,2537.9 L482.0,2534.0 L484.0,2529.9 L486.0,2525.4 L488.0,2520.5 L490.0,2515.3 L492.0,2509.7 L494.0,2503.8 L496.0,2497.5 L498.0,2490.7 L500.0,2483.6 L502.0,2476.0 L504.0,2468.0 L506.0,2459.5 L508.0,2450.6 L510.0,2441.3 L512.0,2431.6 L514.0,2421.4 L516.0,2410.8 L518.0,2399.8 L520.0,2388.4 L522.0,2376.5 L524.0,2364.4 L526.0,2351.9 L528.0,2339.0 L530.0,2325.9 L532.0,2312.5 L534.0,2298.9 L536.0,2285.1 L538.0,2271.2 L540.0,2257.1 L542.0,2243.0 L544.0,2228.9 L546.0,2214.9 L548.0,2200.9 L550.0,2187.1 L552.0,2173.5 L554.0,2160.1 L556.0,2147.1 L558.0,2134.4 L560.0,2122.2 L562.0,2110.4 L564.0,2099.2 L566.0,2088.6 L568.0,2078.6 L570.0,2069.3 L572.0,2060.8 L574.0,2053.0 L576.0,2046.0 L578.0,2039.9 L580.0,2034.7 L582.0,2030.3 L584.0,2026.9 L586.0,2024.5 L588.0,2023.0 L590.0,2022.5 L592.0,2022.9 L594.0,2024.3 L596.0,2026.6 L598.0,2029.9 L600.0,2034.1 L602.0,2039.2 L604.0,2045.2 L606.0,2052.0 L608.0,2059.5 L610.0,2067.9 L612.0,2076.9 L614.0,2086.7 L616.0,2097.0 L618.0,2107.9 L620.0,2119.4 L622.0,2131.2 L624.0,2143.5 L626.0,2156.2 L628.0,2169.1 L630.0,2182.2 L632.0,2195.6 L634.0,2209.0 L636.0,2222.6 L638.0,2236.1 L640.0,2249.7 L642.0,2263.1 L644.0,2276.4 L646.0,2289.6 L648.0,2302.6 L650.0,2315.3 L652.0,2327.8 L654.0,2340.0 L656.0,2351.8 L658.0,2363.4 L660.0,2374.5 L662.0,2385.2 L664.0,2395.6 L666.0,2405.5 L668.0,2415.1 L670.0,2424.2 L672.0,2432.9 L674.0,2441.1 L676.0,2448.9 L678.0,2456.3 L680.0,2463.3 L682.0,2469.9 L684.0,2476.1 L686.0,2481.9 L688.0,2487.3 L690.0,2492.4 L692.0,2497.1 L694.0,2501.4 L696.0,2505.5 L698.0,2509.2 L700.0,2512.7 L702.0,2515.8 L704.0,2518.7 L706.0,2521.4 L708.0,2523.8 L710.0,2526.0 L712.0,2528.0 L714.0,2529.9 L716.0,2531.5 L718.0,2533.0 L720.0,2534.3 L722.0,2535.5 L724.0,2536.6 L726.0,2537.5 L728.0,2538.4 L730.0,2539.1 L732.0,2539.8 L734.0,2540.4 L736.0,2540.9 L738.0,2541.3 L740.0,2541.7 L742.0,2542.0 L744.0,2542.3 L746.0,2542.5 L748.0,2542.7 L750.0,2542.9 L752.0,2543.0 L754.0,2543.1 L756.0,2543.2 L758.0,2543.3 L760.0,2543.4 L762.0,2543.4 L764.0,2543.4 L766.0,2543.4 L768.0,2543.4 L770.0,2543.4 L772.0,2543.4 L774.0,2543.4 L776.0,2543.4 L778.0,2543.3 L780.0,2543.3 L782.0,2543.3 L784.0,2543.2 L786.0,2543.2 L788.0,2543.2 L790.0,2543.1 L792.0,2543.1 L794.0,2543.1 L796.0,2543.0 L798.0,2543.0 L800.0,2542.9 L802.0,2542.9 L804.0,2542.9 L806.0,2542.8 L808.0,2542.8 L810.0,2542.7 L812.0,2542.7 L814.0,2542.7 L816.0,2542.6 L818.0,2542.6 L820.0,2542.5 L822.0,2542.5 L824.0,2542.5 L826.0,2542.4 L828.0,2542.4 L830.0,2542.4 L832.0,2542.3 L834.0,2542.3 L836.0,2542.3 L838.0,2542.2 L840.0,2542.2 L842.0,2542.1 L844.0,2542.1 L846.0,2542.1 L848.0,2542.0 L850.0,2542.0 L852.0,2541.9 L854.0,2541.9 L856.0,2541.9 L858.0,2541.8 L860.0,2541.8 L862.0,2541.7 L864.0,2541.7 L866.0,2541.6 L868.0,2541.6 L870.0,2541.6 L872.0,2541.5 L874.0,2541.5 L876.0,2541.4 L878.0,2541.3 L880.0,2541.3 L882.0,2541.2 L884.0,2541.2 L886.0,2541.1 L888.0,2541.1 L890.0,2541.0 L892.0,2540.9 L894.0,2540.9 L896.0,2540.8 L898.0,2540.7 L900.0,2540.6 L902.0,2540.6 L904.0,2540.5 L906.0,2540.4 L908.0,2540.3 L910.0,2540.2 L912.0,2540.1 L914.0,2540.0 L916.0,2539.9 L918.0,2539.8 L920.0,2539.7 L922.0,2539.6 L924.0,2539.5 L926.0,2539.4 L928.0,2539.3 L930.0,2539.2 L932.0,2539.0 L934.0,2538.9 L936.0,2538.8 L938.0,2538.6 L940.0,2538.5 L942.0,2538.4 L944.0,2538.2 L946.0,2538.1 L948.0,2537.9 L950.0,2537.7 L952.0,2537.6 L954.0,2537.4 L956.0,2537.2 L958.0,2537.1 L960.0,2536.9 L962.0,2536.7 L964.0,2536.5 L966.0,2536.3 L968.0,2536.1 L970.0,2535.9 L972.0,2535.7 L974.0,2535.5 L976.0,2535.2 L978.0,2535.0 L980.0,2534.8 L982.0,2534.6 L984.0,2534.3 L986.0,2534.1 L988.0,2533.8 L990.0,2533.6 L992.0,2533.3 L994.0,2533.1 L996.0,2532.8 L998.0,2532.6 L1000.0,2532.3 L1002.0,2532.0 L1004.0,2531.7 L1006.0,2531.4 L1008.0,2531.2 L1010.0,2530.9 L1012.0,2530.6 L1014.0,2530.3 L1016.0,2530.0 L1018.0,2529.7 L1020.0,2529.3 L1022.0,2529.0 L1024.0,2528.7 L1026.0,2528.4 L1028.0,2528.1 L1030.0,2527.7 L1032.0,2527.4 L1034.0,2527.1 L1036.0,2526.8 L1038.0,2526.4 L1040.0,2526.1 L1042.0,2525.7 L1044.0,2525.4 L1046.0,2525.0 L1048.0,2524.7 L1050.0,2524.3 L1052.0,2524.0 L1054.0,2523.6 L1056.0,2523.3 L1058.0,2522.9 L1060.0,2522.6 L1062.0,2522.2 L1064.0,2521.9 L1066.0,2521.5 L1068.0,2521.1 L1070.0,2520.8 L1072.0,2520.4 L1074.0,2520.1 L1076.0,2519.7 L1078.0,2519.3 L1080.0,2519.0 L1082.0,2518.6 L1084.0,2518.2 L1086.0,2517.9 L1088.0,2517.5 L1090.0,2517.2 L1092.0,2516.8 L1094.0,2516.5 L1096.0,2516.1 L1098.0,2515.8 L1100.0,2515.4 L1102.0,2515.1 L1104.0,2514.7 L1106.0,2514.4 L1108.0,2514.0 L1110.0,2513.7 L1112.0,2513.4 L1114.0,2513.0 L1116.0,2512.7 L1118.0,2512.4 L1120.0,2512.0 L1122.0,2511.7 L1124.0,2511.4 L1126.0,2511.1 L1128.0,2510.8 L1130.0,2510.5 L1132.0,2510.2 L1134.0,2509.9 L1136.0,2509.6 L1138.0,2509.3 L1140.0,2509.0 L1142.0,2508.7 L1144.0,2508.5 L1146.0,2508.2 L1148.0,2507.9 L1150.0,2507.7 L1152.0,2507.4 L1154.0,2507.1 L1156.0,2506.9 L1158.0,2506.7 L1160.0,2506.4 L1162.0,2506.2 L1164.0,2506.0 L1166.0,2505.7 L1168.0,2505.5 L1170.0,2505.3 L1172.0,2505.1 L1174.0,2504.9 L1176.0,2504.7 L1178.0,2504.5 L1180.0,2504.3 L1182.0,2504.2 L1184.0,2504.0 L1186.0,2503.8 L1188.0,2503.7 L1190.0,2503.5 L1192.0,2503.3 L1194.0,2503.2 L1196.0,2503.0 L1198.0,2502.9 L1200.0,2502.8 L1202.0,2502.6 L1204.0,2502.5 L1206.0,2502.4 L1208.0,2502.3 L1210.0,2502.2 L1212.0,2502.1 L1214.0,2502.0 L1216.0,2501.9 L1218.0,2501.8 L1220.0,2501.7 L1222.0,2501.6 L1224.0,2501.5 L1226.0,2501.4 L1228.0,2501.3 L1230.0,2501.3 L1232.0,2501.2 L1234.0,2501.1 L1236.0,2501.1 L1238.0,2501.0 L1240.0,2500.9 L1242.0,2500.9 L1244.0,2500.8 L1246.0,2500.8 L1248.0,2500.7 L1250.0,2500.7 L1252.0,2500.6 L1254.0,2500.6 L1256.0,2500.6 L1258.0,2500.5 L1260.0,2500.5 L1262.0,2500.5 L1264.0,2500.4 L1266.0,2500.4 L1268.0,2500.4 L1270.0,2500.3 L1272.0,2500.3 L1274.0,2500.3 L1276.0,2500.3 L1278.0,2500.2 L1280.0,2500.2 L1282.0,2500.2 L1284.0,2500.2 L1286.0,2500.2 L1288.0,2500.2 L1290.0,2500.1 L1292.0,2500.1 L1294.0,2500.1 L1296.0,2500.1 L1298.0,2500.1 L1300.0,2500.1 L1302.0,2500.1 L1304.0,2500.1 L1306.0,2500.0 L1308.0,2500.0 L1310.0,2500.0 L1312.0,2500.0 L1314.0,2500.0 L1316.0,2500.0 L1318.0,2500.0 L1320.0,2500.0 L1322.0,2500.0 L1324.0,2500.0 L1326.0,2500.0 L1328.0,2500.0 L1330.0,2500.0 L1332.0,2500.0 L1334.0,2500.0 L1336.0,2499.9 L1338.0,2499.9 L1340.0,2499.9 L1342.0,2499.9 L1344.0,2499.9 L1346.0,2499.9 L1348.0,2499.9 L1350.0,2499.9 L1352.0,2499.9 L1354.0,2499.9 L1356.0,2499.9 L1358.0,2499.9 L1360.0,2499.9 L1362.0,2499.9 L1364.0,2499.9 L1366.0,2499.9 L1368.0,2499.9" fill="none" stroke="#0000ff" stroke-width="4.5" stroke-dasharray="7 12.5" stroke-linecap="round"/>
<path d="M382.0,2576.1 L384.0,2576.1 L386.0,2576.1 L388.0,2576.1 L390.0,2576.1 L392.0,2576.1 L394.0,2576.0 L396.0,2576.0 L398.0,2576.0 L400.0,2576.0 L402.0,2576.0 L404.0,2576.0 L406.0,2576.0 L408.0,2575.9 L410.0,2575.9 L412.0,2575.9 L414.0,2575.9 L416.0,2575.9 L418.0,2575.9 L420.0,2575.9 L422.0,2575.8 L424.0,2575.8 L426.0,2575.8 L428.0,2575.8 L430.0,2575.8 L432.0,2575.8 L434.0,2575.7 L436.0,2575.7 L438.0,2575.7 L440.0,2575.7 L442.0,2575.7 L444.0,2575.6 L446.0,2575.6 L448.0,2575.6 L450.0,2575.6 L452.0,2575.6 L454.0,2575.5 L456.0,2575.5 L458.0,2575.5 L460.0,2575.5 L462.0,2575.4 L464.0,2575.4 L466.0,2575.4 L468.0,2575.3 L470.0,2575.3 L472.0,2575.3 L474.0,2575.2 L476.0,2575.2 L478.0,2575.2 L480.0,2575.1 L482.0,2575.1 L484.0,2575.0 L486.0,2575.0 L488.0,2574.9 L490.0,2574.9 L492.0,2574.8 L494.0,2574.8 L496.0,2574.7 L498.0,2574.6 L500.0,2574.5 L502.0,2574.5 L504.0,2574.4 L506.0,2574.3 L508.0,2574.2 L510.0,2574.1 L512.0,2574.0 L514.0,2573.9 L516.0,2573.8 L518.0,2573.7 L520.0,2573.5 L522.0,2573.4 L524.0,2573.3 L526.0,2573.1 L528.0,2573.0 L530.0,2572.8 L532.0,2572.6 L534.0,2572.5 L536.0,2572.3 L538.0,2572.1 L540.0,2571.9 L542.0,2571.7 L544.0,2571.5 L546.0,2571.2 L548.0,2571.0 L550.0,2570.8 L552.0,2570.5 L554.0,2570.3 L556.0,2570.0 L558.0,2569.7 L560.0,2569.4 L562.0,2569.2 L564.0,2568.9 L566.0,2568.6 L568.0,2568.2 L570.0,2567.9 L572.0,2567.6 L574.0,2567.3 L576.0,2566.9 L578.0,2566.6 L580.0,2566.2 L582.0,2565.9 L584.0,2565.5 L586.0,2565.2 L588.0,2564.8 L590.0,2564.4 L592.0,2564.1 L594.0,2563.7 L596.0,2563.3 L598.0,2562.9 L600.0,2562.5 L602.0,2562.2 L604.0,2561.8 L606.0,2561.4 L608.0,2561.0 L610.0,2560.6 L612.0,2560.2 L614.0,2559.9 L616.0,2559.5 L618.0,2559.1 L620.0,2558.7 L622.0,2558.3 L624.0,2558.0 L626.0,2557.6 L628.0,2557.2 L630.0,2556.8 L632.0,2556.5 L634.0,2556.1 L636.0,2555.8 L638.0,2555.4 L640.0,2555.1 L642.0,2554.7 L644.0,2554.4 L646.0,2554.0 L648.0,2553.7 L650.0,2553.4 L652.0,2553.0 L654.0,2552.7 L656.0,2552.4 L658.0,2552.1 L660.0,2551.8 L662.0,2551.5 L664.0,2551.2 L666.0,2550.9 L668.0,2550.6 L670.0,2550.3 L672.0,2550.0 L674.0,2549.7 L676.0,2549.4 L678.0,2549.2 L680.0,2548.9 L682.0,2548.7 L684.0,2548.4 L686.0,2548.2 L688.0,2547.9 L690.0,2547.7 L692.0,2547.4 L694.0,2547.2 L696.0,2547.0 L698.0,2546.7 L700.0,2546.5 L702.0,2546.3 L704.0,2546.1 L706.0,2545.9 L708.0,2545.7 L710.0,2545.5 L712.0,2545.3 L714.0,2545.1 L716.0,2544.9 L718.0,2544.7 L720.0,2544.5 L722.0,2544.3 L724.0,2544.1 L726.0,2543.9 L728.0,2543.7 L730.0,2543.5 L732.0,2543.3 L734.0,2543.2 L736.0,2543.0 L738.0,2542.8 L740.0,2542.6 L742.0,2542.4 L744.0,2542.2 L746.0,2542.0 L748.0,2541.8 L750.0,2541.6 L752.0,2541.4 L754.0,2541.2 L756.0,2541.0 L758.0,2540.7 L760.0,2540.5 L762.0,2540.2 L764.0,2540.0 L766.0,2539.7 L768.0,2539.5 L770.0,2539.2 L772.0,2538.9 L774.0,2538.6 L776.0,2538.2 L778.0,2537.9 L780.0,2537.5 L782.0,2537.1 L784.0,2536.7 L786.0,2536.3 L788.0,2535.9 L790.0,2535.4 L792.0,2534.9 L794.0,2534.4 L796.0,2533.8 L798.0,2533.2 L800.0,2532.6 L802.0,2532.0 L804.0,2531.3 L806.0,2530.5 L808.0,2529.8 L810.0,2528.9 L812.0,2528.1 L814.0,2527.2 L816.0,2526.2 L818.0,2525.2 L820.0,2524.1 L822.0,2522.9 L824.0,2521.7 L826.0,2520.5 L828.0,2519.1 L830.0,2517.7 L832.0,2516.2 L834.0,2514.7 L836.0,2513.0 L838.0,2511.3 L840.0,2509.5 L842.0,2507.6 L844.0,2505.6 L846.0,2503.5 L848.0,2501.3 L850.0,2499.0 L852.0,2496.6 L854.0,2494.1 L856.0,2491.4 L858.0,2488.7 L860.0,2485.8 L862.0,2482.8 L864.0,2479.6 L866.0,2476.4 L868.0,2473.0 L870.0,2469.4 L872.0,2465.7 L874.0,2461.9 L876.0,2457.9 L878.0,2453.8 L880.0,2449.5 L882.0,2445.1 L884.0,2440.5 L886.0,2435.7 L888.0,2430.8 L890.0,2425.8 L892.0,2420.5 L894.0,2415.1 L896.0,2409.6 L898.0,2403.8 L900.0,2397.9 L902.0,2391.9 L904.0,2385.6 L906.0,2379.2 L908.0,2372.7 L910.0,2366.0 L912.0,2359.1 L914.0,2352.0 L916.0,2344.8 L918.0,2337.5 L920.0,2330.0 L922.0,2322.3 L924.0,2314.5 L926.0,2306.6 L928.0,2298.5 L930.0,2290.3 L932.0,2282.0 L934.0,2273.6 L936.0,2265.0 L938.0,2256.4 L940.0,2247.7 L942.0,2238.8 L944.0,2229.9 L946.0,2221.0 L948.0,2211.9 L950.0,2202.8 L952.0,2193.7 L954.0,2184.5 L956.0,2175.4 L958.0,2166.2 L960.0,2157.0 L962.0,2147.8 L964.0,2138.6 L966.0,2129.5 L968.0,2120.4 L970.0,2111.4 L972.0,2102.5 L974.0,2093.6 L976.0,2084.9 L978.0,2076.2 L980.0,2067.7 L982.0,2059.3 L984.0,2051.0 L986.0,2042.9 L988.0,2035.0 L990.0,2027.3 L992.0,2019.8 L994.0,2012.5 L996.0,2005.4 L998.0,1998.5 L1000.0,1991.9 L1002.0,1985.6 L1004.0,1979.5 L1006.0,1973.7 L1008.0,1968.2 L1010.0,1963.0 L1012.0,1958.1 L1014.0,1953.6 L1016.0,1949.3 L1018.0,1945.4 L1020.0,1941.8 L1022.0,1938.6 L1024.0,1935.8 L1026.0,1933.3 L1028.0,1931.1 L1030.0,1929.4 L1032.0,1928.0 L1034.0,1926.9 L1036.0,1926.3 L1038.0,1926.0 L1040.0,1926.1 L1042.0,1926.6 L1044.0,1927.5 L1046.0,1928.7 L1048.0,1930.3 L1050.0,1932.3 L1052.0,1934.6 L1054.0,1937.2 L1056.0,1940.3 L1058.0,1943.6 L1060.0,1947.3 L1062.0,1951.4 L1064.0,1955.7 L1066.0,1960.4 L1068.0,1965.3 L1070.0,1970.6 L1072.0,1976.1 L1074.0,1981.9 L1076.0,1988.0 L1078.0,1994.3 L1080.0,2000.8 L1082.0,2007.6 L1084.0,2014.6 L1086.0,2021.8 L1088.0,2029.1 L1090.0,2036.7 L1092.0,2044.4 L1094.0,2052.3 L1096.0,2060.3 L1098.0,2068.4 L1100.0,2076.6 L1102.0,2084.9 L1104.0,2093.4 L1106.0,2101.8 L1108.0,2110.4 L1110.0,2119.0 L1112.0,2127.7 L1114.0,2136.3 L1116.0,2145.0 L1118.0,2153.7 L1120.0,2162.4 L1122.0,2171.0 L1124.0,2179.7 L1126.0,2188.3 L1128.0,2196.8 L1130.0,2205.3 L1132.0,2213.7 L1134.0,2222.1 L1136.0,2230.4 L1138.0,2238.6 L1140.0,2246.6 L1142.0,2254.6 L1144.0,2262.5 L1146.0,2270.3 L1148.0,2277.9 L1150.0,2285.4 L1152.0,2292.8 L1154.0,2300.0 L1156.0,2307.1 L1158.0,2314.1 L1160.0,2320.9 L1162.0,2327.5 L1164.0,2334.1 L1166.0,2340.4 L1168.0,2346.6 L1170.0,2352.7 L1172.0,2358.5 L1174.0,2364.3 L1176.0,2369.8 L1178.0,2375.3 L1180.0,2380.5 L1182.0,2385.6 L1184.0,2390.5 L1186.0,2395.3 L1188.0,2400.0 L1190.0,2404.4 L1192.0,2408.8 L1194.0,2412.9 L1196.0,2417.0 L1198.0,2420.8 L1200.0,2424.6 L1202.0,2428.2 L1204.0,2431.6 L1206.0,2435.0 L1208.0,2438.1 L1210.0,2441.2 L1212.0,2444.1 L1214.0,2447.0 L1216.0,2449.7 L1218.0,2452.2 L1220.0,2454.7 L1222.0,2457.1 L1224.0,2459.3 L1226.0,2461.5 L1228.0,2463.5 L1230.0,2465.5 L1232.0,2467.3 L1234.0,2469.1 L1236.0,2470.8 L1238.0,2472.4 L1240.0,2473.9 L1242.0,2475.3 L1244.0,2476.7 L1246.0,2478.0 L1248.0,2479.2 L1250.0,2480.4 L1252.0,2481.5 L1254.0,2482.5 L1256.0,2483.5 L1258.0,2484.4 L1260.0,2485.3 L1262.0,2486.1 L1264.0,2486.9 L1266.0,2487.6 L1268.0,2488.3 L1270.0,2489.0 L1272.0,2489.6 L1274.0,2490.1 L1276.0,2490.7 L1278.0,2491.2 L1280.0,2491.7 L1282.0,2492.1 L1284.0,2492.5 L1286.0,2492.9 L1288.0,2493.3 L1290.0,2493.6 L1292.0,2494.0 L1294.0,2494.3 L1296.0,2494.5 L1298.0,2494.8 L1300.0,2495.1 L1302.0,2495.3 L1304.0,2495.5 L1306.0,2495.7 L1308.0,2495.9 L1310.0,2496.1 L1312.0,2496.2 L1314.0,2496.4 L1316.0,2496.5 L1318.0,2496.7 L1320.0,2496.8 L1322.0,2496.9 L1324.0,2497.0 L1326.0,2497.1 L1328.0,2497.2 L1330.0,2497.3 L1332.0,2497.4 L1334.0,2497.4 L1336.0,2497.5 L1338.0,2497.6 L1340.0,2497.6 L1342.0,2497.7 L1344.0,2497.8 L1346.0,2497.8 L1348.0,2497.9 L1350.0,2497.9 L1352.0,2498.0 L1354.0,2498.0 L1356.0,2498.0 L1358.0,2498.1 L1360.0,2498.1 L1362.0,2498.1 L1364.0,2498.2 L1366.0,2498.2 L1368.0,2498.2" fill="none" stroke="#ff8000" stroke-width="4.5" stroke-dasharray="7 12.5" stroke-linecap="round"/>
<path d="M382.0,2576.5 L384.0,2576.5 L386.0,2576.5 L388.0,2576.5 L390.0,2576.5 L392.0,2576.5 L394.0,2576.5 L396.0,2576.4 L398.0,2576.4 L400.0,2576.4 L402.0,2576.4 L404.0,2576.4 L406.0,2576.4 L408.0,2576.4 L410.0,2576.4 L412.0,2576.4 L414.0,2576.3 L416.0,2576.3 L418.0,2576.3 L420.0,2576.3 L422.0,2576.3 L424.0,2576.3 L426.0,2576.3 L428.0,2576.3 L430.0,2576.2 L432.0,2576.2 L434.0,2576.2 L436.0,2576.2 L438.0,2576.2 L440.0,2576.2 L442.0,2576.1 L444.0,2576.1 L446.0,2576.1 L448.0,2576.1 L450.0,2576.1 L452.0,2576.1 L454.0,2576.0 L456.0,2576.0 L458.0,2576.0 L460.0,2576.0 L462.0,2575.9 L464.0,2575.9 L466.0,2575.9 L468.0,2575.9 L470.0,2575.8 L472.0,2575.8 L474.0,2575.8 L476.0,2575.7 L478.0,2575.7 L480.0,2575.7 L482.0,2575.6 L484.0,2575.6 L486.0,2575.5 L488.0,2575.5 L490.0,2575.4 L492.0,2575.4 L494.0,2575.3 L496.0,2575.3 L498.0,2575.2 L500.0,2575.1 L502.0,2575.1 L504.0,2575.0 L506.0,2574.9 L508.0,2574.8 L510.0,2574.7 L512.0,2574.6 L514.0,2574.5 L516.0,2574.4 L518.0,2574.3 L520.0,2574.2 L522.0,2574.0 L524.0,2573.9 L526.0,2573.8 L528.0,2573.6 L530.0,2573.5 L532.0,2573.3 L534.0,2573.1 L536.0,2572.9 L538.0,2572.8 L540.0,2572.6 L542.0,2572.4 L544.0,2572.2 L546.0,2571.9 L548.0,2571.7 L550.0,2571.5 L552.0,2571.2 L554.0,2571.0 L556.0,2570.7 L558.0,2570.5 L560.0,2570.2 L562.0,2569.9 L564.0,2569.6 L566.0,2569.3 L568.0,2569.0 L570.0,2568.7 L572.0,2568.4 L574.0,2568.1 L576.0,2567.7 L578.0,2567.4 L580.0,2567.0 L582.0,2566.7 L584.0,2566.3 L586.0,2566.0 L588.0,2565.6 L590.0,2565.3 L592.0,2564.9 L594.0,2564.5 L596.0,2564.2 L598.0,2563.8 L600.0,2563.4 L602.0,2563.0 L604.0,2562.7 L606.0,2562.3 L608.0,2561.9 L610.0,2561.5 L612.0,2561.2 L614.0,2560.8 L616.0,2560.4 L618.0,2560.0 L620.0,2559.7 L622.0,2559.3 L624.0,2558.9 L626.0,2558.6 L628.0,2558.2 L630.0,2557.8 L632.0,2557.5 L634.0,2557.1 L636.0,2556.8 L638.0,2556.4 L640.0,2556.1 L642.0,2555.8 L644.0,2555.4 L646.0,2555.1 L648.0,2554.8 L650.0,2554.5 L652.0,2554.1 L654.0,2553.8 L656.0,2553.5 L658.0,2553.2 L660.0,2552.9 L662.0,2552.6 L664.0,2552.3 L666.0,2552.1 L668.0,2551.8 L670.0,2551.5 L672.0,2551.2 L674.0,2551.0 L676.0,2550.7 L678.0,2550.5 L680.0,2550.2 L682.0,2550.0 L684.0,2549.7 L686.0,2549.5 L688.0,2549.3 L690.0,2549.1 L692.0,2548.8 L694.0,2548.6 L696.0,2548.4 L698.0,2548.2 L700.0,2548.0 L702.0,2547.8 L704.0,2547.7 L706.0,2547.5 L708.0,2547.3 L710.0,2547.1 L712.0,2546.9 L714.0,2546.8 L716.0,2546.6 L718.0,2546.5 L720.0,2546.3 L722.0,2546.2 L724.0,2546.0 L726.0,2545.9 L728.0,2545.8 L730.0,2545.6 L732.0,2545.5 L734.0,2545.4 L736.0,2545.3 L738.0,2545.1 L740.0,2545.0 L742.0,2544.9 L744.0,2544.8 L746.0,2544.7 L748.0,2544.6 L750.0,2544.5 L752.0,2544.4 L754.0,2544.3 L756.0,2544.2 L758.0,2544.1 L760.0,2544.1 L762.0,2544.0 L764.0,2543.9 L766.0,2543.8 L768.0,2543.7 L770.0,2543.7 L772.0,2543.6 L774.0,2543.5 L776.0,2543.5 L778.0,2543.4 L780.0,2543.3 L782.0,2543.3 L784.0,2543.2 L786.0,2543.2 L788.0,2543.1 L790.0,2543.1 L792.0,2543.0 L794.0,2543.0 L796.0,2542.9 L798.0,2542.9 L800.0,2542.8 L802.0,2542.8 L804.0,2542.7 L806.0,2542.7 L808.0,2542.6 L810.0,2542.6 L812.0,2542.5 L814.0,2542.5 L816.0,2542.5 L818.0,2542.4 L820.0,2542.4 L822.0,2542.3 L824.0,2542.3 L826.0,2542.2 L828.0,2542.2 L830.0,2542.2 L832.0,2542.1 L834.0,2542.1 L836.0,2542.0 L838.0,2542.0 L840.0,2541.9 L842.0,2541.9 L844.0,2541.9 L846.0,2541.8 L848.0,2541.8 L850.0,2541.7 L852.0,2541.7 L854.0,2541.6 L856.0,2541.5 L858.0,2541.5 L860.0,2541.4 L862.0,2541.4 L864.0,2541.3 L866.0,2541.2 L868.0,2541.2 L870.0,2541.1 L872.0,2541.0 L874.0,2540.9 L876.0,2540.8 L878.0,2540.7 L880.0,2540.6 L882.0,2540.5 L884.0,2540.4 L886.0,2540.3 L888.0,2540.1 L890.0,2540.0 L892.0,2539.9 L894.0,2539.7 L896.0,2539.5 L898.0,2539.4 L900.0,2539.2 L902.0,2538.9 L904.0,2538.7 L906.0,2538.5 L908.0,2538.2 L910.0,2538.0 L912.0,2537.7 L914.0,2537.4 L916.0,2537.0 L918.0,2536.7 L920.0,2536.3 L922.0,2535.9 L924.0,2535.4 L926.0,2535.0 L928.0,2534.5 L930.0,2533.9 L932.0,2533.4 L934.0,2532.8 L936.0,2532.1 L938.0,2531.4 L940.0,2530.7 L942.0,2529.9 L944.0,2529.0 L946.0,2528.2 L948.0,2527.2 L950.0,2526.2 L952.0,2525.1 L954.0,2524.0 L956.0,2522.8 L958.0,2521.5 L960.0,2520.1 L962.0,2518.7 L964.0,2517.2 L966.0,2515.6 L968.0,2513.9 L970.0,2512.1 L972.0,2510.2 L974.0,2508.2 L976.0,2506.1 L978.0,2503.9 L980.0,2501.6 L982.0,2499.2 L984.0,2496.6 L986.0,2494.0 L988.0,2491.2 L990.0,2488.2 L992.0,2485.2 L994.0,2482.0 L996.0,2478.7 L998.0,2475.2 L1000.0,2471.6 L1002.0,2467.9 L1004.0,2464.0 L1006.0,2459.9 L1008.0,2455.7 L1010.0,2451.4 L1012.0,2446.9 L1014.0,2442.3 L1016.0,2437.5 L1018.0,2432.5 L1020.0,2427.5 L1022.0,2422.2 L1024.0,2416.9 L1026.0,2411.3 L1028.0,2405.7 L1030.0,2399.9 L1032.0,2394.0 L1034.0,2387.9 L1036.0,2381.7 L1038.0,2375.4 L1040.0,2369.0 L1042.0,2362.5 L1044.0,2355.9 L1046.0,2349.2 L1048.0,2342.5 L1050.0,2335.6 L1052.0,2328.7 L1054.0,2321.7 L1056.0,2314.7 L1058.0,2307.7 L1060.0,2300.6 L1062.0,2293.5 L1064.0,2286.4 L1066.0,2279.3 L1068.0,2272.3 L1070.0,2265.3 L1072.0,2258.3 L1074.0,2251.4 L1076.0,2244.6 L1078.0,2237.9 L1080.0,2231.3 L1082.0,2224.7 L1084.0,2218.4 L1086.0,2212.1 L1088.0,2206.1 L1090.0,2200.1 L1092.0,2194.4 L1094.0,2188.9 L1096.0,2183.6 L1098.0,2178.5 L1100.0,2173.6 L1102.0,2169.0 L1104.0,2164.6 L1106.0,2160.5 L1108.0,2156.7 L1110.0,2153.1 L1112.0,2149.9 L1114.0,2146.9 L1116.0,2144.3 L1118.0,2142.0 L1120.0,2139.9 L1122.0,2138.2 L1124.0,2136.9 L1126.0,2135.8 L1128.0,2135.1 L1130.0,2134.8 L1132.0,2134.7 L1134.0,2135.0 L1136.0,2135.7 L1138.0,2136.6 L1140.0,2137.9 L1142.0,2139.5 L1144.0,2141.4 L1146.0,2143.6 L1148.0,2146.2 L1150.0,2149.0 L1152.0,2152.1 L1154.0,2155.5 L1156.0,2159.2 L1158.0,2163.1 L1160.0,2167.3 L1162.0,2171.7 L1164.0,2176.4 L1166.0,2181.3 L1168.0,2186.4 L1170.0,2191.6 L1172.0,2197.1 L1174.0,2202.7 L1176.0,2208.5 L1178.0,2214.4 L1180.0,2220.4 L1182.0,2226.6 L1184.0,2232.8 L1186.0,2239.1 L1188.0,2245.6 L1190.0,2252.0 L1192.0,2258.5 L1194.0,2265.1 L1196.0,2271.7 L1198.0,2278.3 L1200.0,2284.8 L1202.0,2291.4 L1204.0,2298.0 L1206.0,2304.5 L1208.0,2311.0 L1210.0,2317.4 L1212.0,2323.7 L1214.0,2330.0 L1216.0,2336.2 L1218.0,2342.3 L1220.0,2348.3 L1222.0,2354.2 L1224.0,2360.0 L1226.0,2365.7 L1228.0,2371.3 L1230.0,2376.7 L1232.0,2382.0 L1234.0,2387.2 L1236.0,2392.3 L1238.0,2397.2 L1240.0,2402.0 L1242.0,2406.6 L1244.0,2411.1 L1246.0,2415.4 L1248.0,2419.6 L1250.0,2423.7 L1252.0,2427.6 L1254.0,2431.4 L1256.0,2435.0 L1258.0,2438.5 L1260.0,2441.9 L1262.0,2445.1 L1264.0,2448.2 L1266.0,2451.1 L1268.0,2453.9 L1270.0,2456.6 L1272.0,2459.2 L1274.0,2461.6 L1276.0,2464.0 L1278.0,2466.2 L1280.0,2468.3 L1282.0,2470.3 L1284.0,2472.2 L1286.0,2474.0 L1288.0,2475.7 L1290.0,2477.3 L1292.0,2478.8 L1294.0,2480.3 L1296.0,2481.6 L1298.0,2482.9 L1300.0,2484.1 L1302.0,2485.2 L1304.0,2486.2 L1306.0,2487.2 L1308.0,2488.1 L1310.0,2489.0 L1312.0,2489.8 L1314.0,2490.6 L1316.0,2491.3 L1318.0,2491.9 L1320.0,2492.5 L1322.0,2493.1 L1324.0,2493.6 L1326.0,2494.1 L1328.0,2494.6 L1330.0,2495.0 L1332.0,2495.4 L1334.0,2495.7 L1336.0,2496.1 L1338.0,2496.4 L1340.0,2496.7 L1342.0,2496.9 L1344.0,2497.2 L1346.0,2497.4 L1348.0,2497.6 L1350.0,2497.8 L1352.0,2497.9 L1354.0,2498.1 L1356.0,2498.2 L1358.0,2498.4 L1360.0,2498.5 L1362.0,2498.6 L1364.0,2498.7 L1366.0,2498.8 L1368.0,2498.9" fill="none" stroke="#8000ff" stroke-width="4.5" stroke-dasharray="7 12.5" stroke-linecap="round"/>
<rect x="40" y="1460" width="129" height="193.5" fill="#000"/>
<text x="69.3" y="1606.2" font-size="136" fill="#fff" >b</text>
<text x="256.1" y="1605.8" font-size="90" fill="#000" >P 2p</text>
<text x="348.7" y="1884.1" font-size="76" fill="#000" >2p</text>
<text x="425.5" y="1913.2" font-size="45" fill="#000" >3/2</text>
<text x="750.9" y="1918.0" font-size="76" fill="#000" >2p</text>
<text x="827.9" y="1948.9" font-size="45" fill="#000" >1/2</text>
<text x="1152.0" y="1739.2" font-size="73" fill="#000" >InPO</text>
<text x="1304.6" y="1769.1" font-size="45" fill="#000" >4</text>
<text x="1328.4" y="1739.2" font-size="73" fill="#000" >/InPO</text>
<text x="1505.7" y="1769.1" font-size="45" fill="#000" >3</text>
<line x1="455.7" y1="1926.2" x2="572.0" y2="2005.6" stroke="#000" stroke-width="2"/>
<path d="M591.0,2018.6 L566.7,2009.9 L574.0,1999.1 Z" fill="#000"/>
<line x1="782.5" y1="1941.7" x2="677.7" y2="2048.8" stroke="#000" stroke-width="2"/>
<path d="M661.6,2065.2 L674.4,2042.8 L683.7,2051.9 Z" fill="#000"/>
<line x1="1340.2" y1="1773" x2="1107.9" y2="1928.3" stroke="#000" stroke-width="2"/>
<path d="M1088.8,1941.1 L1106.0,1921.8 L1113.2,1932.6 Z" fill="#000"/>
<line x1="1346.7" y1="1773" x2="1152.6" y2="2099.0" stroke="#000" stroke-width="2"/>
<path d="M1140.8,2118.8 L1148.0,2094.0 L1159.2,2100.6 Z" fill="#000"/>
<text x="195.4" y="2759.5" font-size="75.5" fill="#000" >125</text>
<text x="659.4" y="2759.5" font-size="75.5" fill="#000" >130</text>
<text x="1123.4" y="2759.5" font-size="75.5" fill="#000" >135</text>
<text x="456.9" y="2893.6" font-size="100.5" fill="#000" >Binding Energy (eV)</text>
<text transform="translate(115.0,2513.8) rotate(-90)" x="0" y="0" font-size="101">XPS Intensity (a.u.)</text>
<rect x="206.5" y="2975.2" width="1341.8" height="1176.3000000000002" fill="none" stroke="#000" stroke-width="11" stroke-linejoin="miter"/>
<line x1="209.8" y1="3389.7" x2="225.8" y2="3389.7" stroke="#000" stroke-width="11" stroke-linecap="butt"/>
<line x1="209.8" y1="3946" x2="225.8" y2="3946" stroke="#000" stroke-width="11" stroke-linecap="butt"/>
<line x1="209.8" y1="3112.5" x2="215.8" y2="3112.5" stroke="#000" stroke-width="11" stroke-linecap="butt"/>
<line x1="209.8" y1="3667.9" x2="215.8" y2="3667.9" stroke="#000" stroke-width="11" stroke-linecap="butt"/>
<line x1="504.35" y1="4148.0" x2="504.35" y2="4133.0" stroke="#000" stroke-width="11" stroke-linecap="butt"/>
<line x1="802.7" y1="4148.0" x2="802.7" y2="4133.0" stroke="#000" stroke-width="11" stroke-linecap="butt"/>
<line x1="1101.0500000000002" y1="4148.0" x2="1101.0500000000002" y2="4133.0" stroke="#000" stroke-width="11" stroke-linecap="butt"/>
<line x1="1399.4" y1="4148.0" x2="1399.4" y2="4133.0" stroke="#000" stroke-width="11" stroke-linecap="butt"/>
<line x1="355.175" y1="4148.0" x2="355.175" y2="4142.0" stroke="#000" stroke-width="11" stroke-linecap="butt"/>
<line x1="653.5250000000001" y1="4148.0" x2="653.5250000000001" y2="4142.0" stroke="#000" stroke-width="11" stroke-linecap="butt"/>
<line x1="951.875" y1="4148.0" x2="951.875" y2="4142.0" stroke="#000" stroke-width="11" stroke-linecap="butt"/>
<line x1="1250.2250000000001" y1="4148.0" x2="1250.2250000000001" y2="4142.0" stroke="#000" stroke-width="11" stroke-linecap="butt"/>
<g clip-path="url(#cc)"><path d="M211.8,3510.5L217.1,3266.2M217.8,3266.2L223.0,3503.5M223.9,3534.5L228.9,3698.0M230.3,3698.0L234.4,3626.3M236.8,3595.3L239.8,3565.5M243.7,3534.6L244.8,3527.8M247.9,3527.9L252.6,3647.3M259.6,3631.3L264.7,3440.1M265.7,3440.1L270.5,3577.0M271.5,3577.0L276.6,3405.0M283.5,3385.8L288.5,3556.8M301.2,3583.2L306.6,3305.2M319.7,3311.7L323.9,3385.7M326.9,3385.7L328.6,3372.8M331.0,3372.8L336.4,3732.7M337.5,3763.7L341.9,3851.4M342.9,3851.4L348.3,3571.5M350.1,3571.5L353.1,3603.7M357.0,3603.8L358.1,3597.4M362.1,3597.5L365.0,3626.5M367.0,3657.5L371.9,3805.9M373.0,3805.9L377.8,3677.6M378.9,3646.6L383.9,3474.9M385.1,3474.9L389.6,3571.5M390.6,3602.5L396.0,3900.8M396.5,3900.8L402.1,3490.5M403.5,3490.5L407.0,3535.5M415.4,3517.3L419.0,3470.0M421.4,3470.0L424.9,3514.1M426.4,3545.1L431.8,3876.7M432.3,3876.7L437.9,3398.5M438.3,3398.5L443.8,3719.7M444.5,3719.7L449.5,3561.5M456.4,3505.0L461.4,3349.1M462.8,3349.1L467.0,3425.4M475.3,3398.7L478.4,3365.4M481.1,3365.4L484.5,3405.5M487.5,3436.5L490.0,3458.5M492.2,3489.5L497.2,3649.7M498.2,3649.7L503.1,3508.7M504.9,3508.7L508.4,3552.7M510.2,3583.7L515.0,3703.5M516.0,3703.5L521.1,3513.6M528.9,3526.7L532.1,3563.3M533.9,3563.3L539.0,3399.5M540.0,3399.5L544.9,3545.4M551.9,3535.6L556.8,3382.0M557.6,3382.0L563.0,3652.2M570.0,3653.9L574.5,3561.7M575.7,3530.7L580.7,3354.3M582.0,3354.3L586.3,3436.1M588.4,3436.1L591.8,3393.5M594.9,3393.5L597.3,3414.5M600.1,3414.5L604.0,3357.0M605.3,3326.0L610.7,3075.4M611.3,3075.4L616.7,3385.7M618.1,3385.7L621.7,3339.8M623.5,3308.8L628.3,3187.5M629.2,3187.5L634.5,3402.8M635.1,3402.8L640.5,3124.1M641.1,3124.1L646.5,3419.8M647.2,3450.8L652.3,3645.7M653.0,3645.7L658.4,3355.2M659.0,3355.2L664.3,3581.5M664.9,3581.5L670.3,3298.2M670.9,3298.2L676.2,3545.5M677.2,3576.5L681.9,3687.7M683.1,3687.7L687.9,3562.7M688.9,3562.7L694.0,3743.6M695.2,3743.6L699.7,3655.0M702.0,3655.0L704.8,3682.5M708.8,3713.4L710.0,3720.9M712.7,3720.8L718.0,3482.3M718.8,3482.3L723.8,3659.1M725.1,3690.1L729.4,3770.7M731.3,3770.7L735.2,3712.8M736.7,3712.8L741.7,3881.8M742.9,3881.8L747.4,3779.6M749.2,3748.6L753.0,3695.5M755.3,3695.5L758.9,3742.5M760.8,3773.5L765.3,3867.1M766.2,3867.1L771.8,3470.5M772.4,3470.5L777.6,3691.6M785.0,3728.5L788.7,3778.7M790.5,3809.7L795.2,3933.9M797.7,3933.9L799.9,3916.5M802.6,3885.5L807.0,3800.6M808.9,3769.6L812.6,3720.4M814.7,3720.4L818.8,3788.0M820.6,3788.0L824.7,3718.3M827.0,3718.3L830.3,3756.5M832.3,3787.5L836.8,3883.2M839.2,3914.2L841.9,3939.1M844.7,3939.1L848.3,3893.6M850.5,3862.6L854.5,3802.2M857.0,3771.2L859.9,3742.8M862.3,3742.8L866.6,3821.9M868.1,3852.9L872.6,3949.9M873.9,3949.9L878.8,3814.1M879.8,3783.1L884.8,3619.3M887.4,3619.3L889.1,3631.7M892.2,3662.7L896.3,3730.0M898.9,3761.0L901.5,3783.6M903.8,3783.6L908.6,3655.5M909.6,3655.5L914.6,3809.0M915.5,3809.0L920.7,3600.7M921.3,3600.7L926.7,3903.8M927.6,3903.8L932.4,3775.5M933.3,3775.5L938.7,4053.7M939.5,4053.7L944.4,3912.0M946.1,3912.0L949.7,3960.7M953.7,3960.8L954.0,3959.1M957.5,3928.2L962.2,3812.2M963.8,3812.2L967.8,3872.3M969.8,3872.3L973.7,3813.5M975.1,3813.5L980.3,4020.8M980.9,4020.8L986.4,3637.8M987.1,3637.8L992.2,3806.9M1000.1,3831.2L1003.0,3802.9M1005.4,3771.9L1009.7,3691.3M1022.8,3688.6L1028.0,3910.7M1028.9,3910.7L1033.9,3758.6M1036.3,3727.6L1038.4,3710.9M1040.9,3679.9L1045.7,3544.0M1046.6,3544.0L1051.9,3804.5M1052.9,3804.5L1057.5,3702.3M1064.8,3721.1L1069.5,3847.9M1070.4,3847.9L1075.9,3453.9M1076.5,3422.9L1081.7,3207.9M1082.3,3207.9L1087.8,3536.2M1089.2,3536.2L1092.8,3488.1M1094.8,3488.1L1099.1,3572.5M1100.5,3603.5L1105.4,3744.9M1106.2,3744.9L1111.6,3439.8M1113.9,3408.8L1115.8,3393.9M1119.3,3362.9L1122.3,3331.5M1124.1,3331.5L1129.5,3610.6M1131.3,3641.6L1134.2,3669.7M1136.1,3669.7L1141.3,3452.8M1142.2,3452.8L1147.1,3592.2M1147.9,3592.2L1153.3,3302.8M1154.1,3302.8L1159.1,3458.2M1165.9,3483.1L1171.1,3255.8M1172.9,3255.8L1176.1,3292.0M1179.8,3292.1L1181.1,3282.8M1183.7,3282.9L1189.1,3613.8M1189.9,3613.8L1194.9,3445.0M1197.8,3414.1L1198.8,3407.8M1201.9,3376.9L1206.7,3249.1M1208.4,3249.1L1212.1,3298.3M1213.6,3329.3L1218.8,3545.9M1219.6,3576.9L1224.8,3778.0M1225.4,3778.0L1230.9,3455.6M1231.6,3455.6L1236.7,3631.5M1238.4,3631.5L1241.8,3592.1M1244.7,3561.1L1247.4,3534.0M1250.4,3534.0L1253.6,3571.3M1255.8,3602.3L1260.2,3686.8M1262.5,3717.8L1265.4,3747.4M1269.1,3747.5L1270.7,3736.7M1280.8,3734.2L1282.8,3749.6M1291.6,3751.3L1295.9,3664.5M1297.1,3664.5L1302.4,3907.6M1303.4,3907.6L1307.9,3816.6M1327.2,3791.0L1331.9,3675.7M1332.8,3675.7L1338.2,4005.3M1338.8,4005.3L1344.1,3730.9M1344.7,3730.9L1350.1,4049.6M1350.7,4049.6L1356.0,3795.7M1356.9,3795.7L1361.8,3926.4M1363.5,3957.4L1367.1,4005.3M1369.9,4005.3L1372.6,3978.8M1374.8,3947.8L1379.7,3809.9M1393.4,3794.8L1396.8,3753.9M1398.4,3753.9L1403.8,4034.4" fill="none" stroke="#000" stroke-width="1.1"/></g>
<rect x="1394.5" y="4040.3" width="19.2" height="19.2" fill="#fff" stroke="#000" stroke-width="1.8"/>
<rect x="1388.5" y="3728.8" width="19.2" height="19.2" fill="#fff" stroke="#000" stroke-width="1.8"/>
<rect x="1382.5" y="3800.7" width="19.2" height="19.2" fill="#fff" stroke="#000" stroke-width="1.8"/>
<rect x="1376.6" y="3812.8" width="19.2" height="19.2" fill="#fff" stroke="#000" stroke-width="1.8"/>
<rect x="1370.6" y="3784.8" width="19.2" height="19.2" fill="#fff" stroke="#000" stroke-width="1.8"/>
<rect x="1364.6" y="3953.7" width="19.2" height="19.2" fill="#fff" stroke="#000" stroke-width="1.8"/>
<rect x="1358.7" y="4011.2" width="19.2" height="19.2" fill="#fff" stroke="#000" stroke-width="1.8"/>
<rect x="1352.7" y="3932.3" width="19.2" height="19.2" fill="#fff" stroke="#000" stroke-width="1.8"/>
<rect x="1346.8" y="3770.6" width="19.2" height="19.2" fill="#fff" stroke="#000" stroke-width="1.8"/>
<rect x="1340.8" y="4055.5" width="19.2" height="19.2" fill="#fff" stroke="#000" stroke-width="1.8"/>
<rect x="1334.8" y="3705.8" width="19.2" height="19.2" fill="#fff" stroke="#000" stroke-width="1.8"/>
<rect x="1328.9" y="4011.2" width="19.2" height="19.2" fill="#fff" stroke="#000" stroke-width="1.8"/>
<rect x="1322.9" y="3650.6" width="19.2" height="19.2" fill="#fff" stroke="#000" stroke-width="1.8"/>
<rect x="1316.9" y="3796.9" width="19.2" height="19.2" fill="#fff" stroke="#000" stroke-width="1.8"/>
<rect x="1311.0" y="3797.9" width="19.2" height="19.2" fill="#fff" stroke="#000" stroke-width="1.8"/>
<rect x="1305.0" y="3800.1" width="19.2" height="19.2" fill="#fff" stroke="#000" stroke-width="1.8"/>
<rect x="1299.1" y="3791.5" width="19.2" height="19.2" fill="#fff" stroke="#000" stroke-width="1.8"/>
<rect x="1293.1" y="3913.5" width="19.2" height="19.2" fill="#fff" stroke="#000" stroke-width="1.8"/>
<rect x="1287.1" y="3639.4" width="19.2" height="19.2" fill="#fff" stroke="#000" stroke-width="1.8"/>
<rect x="1281.2" y="3757.2" width="19.2" height="19.2" fill="#fff" stroke="#000" stroke-width="1.8"/>
<rect x="1275.2" y="3755.5" width="19.2" height="19.2" fill="#fff" stroke="#000" stroke-width="1.8"/>
<rect x="1269.2" y="3709.1" width="19.2" height="19.2" fill="#fff" stroke="#000" stroke-width="1.8"/>
<rect x="1263.3" y="3711.7" width="19.2" height="19.2" fill="#fff" stroke="#000" stroke-width="1.8"/>
<rect x="1257.3" y="3753.3" width="19.2" height="19.2" fill="#fff" stroke="#000" stroke-width="1.8"/>
<rect x="1251.4" y="3692.7" width="19.2" height="19.2" fill="#fff" stroke="#000" stroke-width="1.8"/>
<rect x="1245.4" y="3577.2" width="19.2" height="19.2" fill="#fff" stroke="#000" stroke-width="1.8"/>
<rect x="1239.4" y="3508.9" width="19.2" height="19.2" fill="#fff" stroke="#000" stroke-width="1.8"/>
<rect x="1233.5" y="3567.0" width="19.2" height="19.2" fill="#fff" stroke="#000" stroke-width="1.8"/>
<rect x="1227.5" y="3637.4" width="19.2" height="19.2" fill="#fff" stroke="#000" stroke-width="1.8"/>
<rect x="1221.5" y="3430.5" width="19.2" height="19.2" fill="#fff" stroke="#000" stroke-width="1.8"/>
<rect x="1215.6" y="3783.9" width="19.2" height="19.2" fill="#fff" stroke="#000" stroke-width="1.8"/>
<rect x="1209.6" y="3551.8" width="19.2" height="19.2" fill="#fff" stroke="#000" stroke-width="1.8"/>
<rect x="1203.6" y="3304.2" width="19.2" height="19.2" fill="#fff" stroke="#000" stroke-width="1.8"/>
<rect x="1197.7" y="3224.0" width="19.2" height="19.2" fill="#fff" stroke="#000" stroke-width="1.8"/>
<rect x="1191.7" y="3382.8" width="19.2" height="19.2" fill="#fff" stroke="#000" stroke-width="1.8"/>
<rect x="1185.8" y="3419.9" width="19.2" height="19.2" fill="#fff" stroke="#000" stroke-width="1.8"/>
<rect x="1179.8" y="3619.7" width="19.2" height="19.2" fill="#fff" stroke="#000" stroke-width="1.8"/>
<rect x="1173.8" y="3257.8" width="19.2" height="19.2" fill="#fff" stroke="#000" stroke-width="1.8"/>
<rect x="1167.9" y="3297.9" width="19.2" height="19.2" fill="#fff" stroke="#000" stroke-width="1.8"/>
<rect x="1161.9" y="3230.7" width="19.2" height="19.2" fill="#fff" stroke="#000" stroke-width="1.8"/>
<rect x="1155.9" y="3489.0" width="19.2" height="19.2" fill="#fff" stroke="#000" stroke-width="1.8"/>
<rect x="1150.0" y="3464.1" width="19.2" height="19.2" fill="#fff" stroke="#000" stroke-width="1.8"/>
<rect x="1144.0" y="3277.7" width="19.2" height="19.2" fill="#fff" stroke="#000" stroke-width="1.8"/>
<rect x="1138.1" y="3598.1" width="19.2" height="19.2" fill="#fff" stroke="#000" stroke-width="1.8"/>
<rect x="1132.1" y="3427.7" width="19.2" height="19.2" fill="#fff" stroke="#000" stroke-width="1.8"/>
<rect x="1126.1" y="3675.6" width="19.2" height="19.2" fill="#fff" stroke="#000" stroke-width="1.8"/>
<rect x="1120.2" y="3616.5" width="19.2" height="19.2" fill="#fff" stroke="#000" stroke-width="1.8"/>
<rect x="1114.2" y="3306.4" width="19.2" height="19.2" fill="#fff" stroke="#000" stroke-width="1.8"/>
<rect x="1108.2" y="3368.8" width="19.2" height="19.2" fill="#fff" stroke="#000" stroke-width="1.8"/>
<rect x="1102.3" y="3414.7" width="19.2" height="19.2" fill="#fff" stroke="#000" stroke-width="1.8"/>
<rect x="1096.3" y="3750.8" width="19.2" height="19.2" fill="#fff" stroke="#000" stroke-width="1.8"/>
<rect x="1090.4" y="3578.4" width="19.2" height="19.2" fill="#fff" stroke="#000" stroke-width="1.8"/>
<rect x="1084.4" y="3463.0" width="19.2" height="19.2" fill="#fff" stroke="#000" stroke-width="1.8"/>
<rect x="1078.4" y="3542.1" width="19.2" height="19.2" fill="#fff" stroke="#000" stroke-width="1.8"/>
<rect x="1072.5" y="3182.8" width="19.2" height="19.2" fill="#fff" stroke="#000" stroke-width="1.8"/>
<rect x="1066.5" y="3428.8" width="19.2" height="19.2" fill="#fff" stroke="#000" stroke-width="1.8"/>
<rect x="1060.5" y="3853.8" width="19.2" height="19.2" fill="#fff" stroke="#000" stroke-width="1.8"/>
<rect x="1054.6" y="3696.0" width="19.2" height="19.2" fill="#fff" stroke="#000" stroke-width="1.8"/>
<rect x="1048.6" y="3677.2" width="19.2" height="19.2" fill="#fff" stroke="#000" stroke-width="1.8"/>
<rect x="1042.6" y="3810.4" width="19.2" height="19.2" fill="#fff" stroke="#000" stroke-width="1.8"/>
<rect x="1036.7" y="3518.9" width="19.2" height="19.2" fill="#fff" stroke="#000" stroke-width="1.8"/>
<rect x="1030.7" y="3685.8" width="19.2" height="19.2" fill="#fff" stroke="#000" stroke-width="1.8"/>
<rect x="1024.8" y="3733.5" width="19.2" height="19.2" fill="#fff" stroke="#000" stroke-width="1.8"/>
<rect x="1018.8" y="3916.6" width="19.2" height="19.2" fill="#fff" stroke="#000" stroke-width="1.8"/>
<rect x="1012.8" y="3663.5" width="19.2" height="19.2" fill="#fff" stroke="#000" stroke-width="1.8"/>
<rect x="1006.9" y="3654.8" width="19.2" height="19.2" fill="#fff" stroke="#000" stroke-width="1.8"/>
<rect x="1000.9" y="3666.2" width="19.2" height="19.2" fill="#fff" stroke="#000" stroke-width="1.8"/>
<rect x="994.9" y="3777.8" width="19.2" height="19.2" fill="#fff" stroke="#000" stroke-width="1.8"/>
<rect x="989.0" y="3837.1" width="19.2" height="19.2" fill="#fff" stroke="#000" stroke-width="1.8"/>
<rect x="983.0" y="3812.8" width="19.2" height="19.2" fill="#fff" stroke="#000" stroke-width="1.8"/>
<rect x="977.1" y="3612.7" width="19.2" height="19.2" fill="#fff" stroke="#000" stroke-width="1.8"/>
<rect x="971.1" y="4026.7" width="19.2" height="19.2" fill="#fff" stroke="#000" stroke-width="1.8"/>
<rect x="965.1" y="3788.4" width="19.2" height="19.2" fill="#fff" stroke="#000" stroke-width="1.8"/>
<rect x="959.2" y="3878.2" width="19.2" height="19.2" fill="#fff" stroke="#000" stroke-width="1.8"/>
<rect x="953.2" y="3787.1" width="19.2" height="19.2" fill="#fff" stroke="#000" stroke-width="1.8"/>
<rect x="947.2" y="3934.1" width="19.2" height="19.2" fill="#fff" stroke="#000" stroke-width="1.8"/>
<rect x="941.3" y="3966.6" width="19.2" height="19.2" fill="#fff" stroke="#000" stroke-width="1.8"/>
<rect x="935.3" y="3886.9" width="19.2" height="19.2" fill="#fff" stroke="#000" stroke-width="1.8"/>
<rect x="929.3" y="4059.6" width="19.2" height="19.2" fill="#fff" stroke="#000" stroke-width="1.8"/>
<rect x="923.4" y="3750.4" width="19.2" height="19.2" fill="#fff" stroke="#000" stroke-width="1.8"/>
<rect x="917.4" y="3909.7" width="19.2" height="19.2" fill="#fff" stroke="#000" stroke-width="1.8"/>
<rect x="911.5" y="3575.6" width="19.2" height="19.2" fill="#fff" stroke="#000" stroke-width="1.8"/>
<rect x="905.5" y="3814.9" width="19.2" height="19.2" fill="#fff" stroke="#000" stroke-width="1.8"/>
<rect x="899.5" y="3630.4" width="19.2" height="19.2" fill="#fff" stroke="#000" stroke-width="1.8"/>
<rect x="893.6" y="3789.5" width="19.2" height="19.2" fill="#fff" stroke="#000" stroke-width="1.8"/>
<rect x="887.6" y="3735.9" width="19.2" height="19.2" fill="#fff" stroke="#000" stroke-width="1.8"/>
<rect x="881.6" y="3637.6" width="19.2" height="19.2" fill="#fff" stroke="#000" stroke-width="1.8"/>
<rect x="875.7" y="3594.2" width="19.2" height="19.2" fill="#fff" stroke="#000" stroke-width="1.8"/>
<rect x="869.7" y="3789.0" width="19.2" height="19.2" fill="#fff" stroke="#000" stroke-width="1.8"/>
<rect x="863.8" y="3955.8" width="19.2" height="19.2" fill="#fff" stroke="#000" stroke-width="1.8"/>
<rect x="857.8" y="3827.8" width="19.2" height="19.2" fill="#fff" stroke="#000" stroke-width="1.8"/>
<rect x="851.8" y="3717.7" width="19.2" height="19.2" fill="#fff" stroke="#000" stroke-width="1.8"/>
<rect x="845.9" y="3777.1" width="19.2" height="19.2" fill="#fff" stroke="#000" stroke-width="1.8"/>
<rect x="839.9" y="3868.5" width="19.2" height="19.2" fill="#fff" stroke="#000" stroke-width="1.8"/>
<rect x="833.9" y="3945.0" width="19.2" height="19.2" fill="#fff" stroke="#000" stroke-width="1.8"/>
<rect x="828.0" y="3889.1" width="19.2" height="19.2" fill="#fff" stroke="#000" stroke-width="1.8"/>
<rect x="822.0" y="3762.4" width="19.2" height="19.2" fill="#fff" stroke="#000" stroke-width="1.8"/>
<rect x="816.1" y="3693.2" width="19.2" height="19.2" fill="#fff" stroke="#000" stroke-width="1.8"/>
<rect x="810.1" y="3793.9" width="19.2" height="19.2" fill="#fff" stroke="#000" stroke-width="1.8"/>
<rect x="804.1" y="3695.3" width="19.2" height="19.2" fill="#fff" stroke="#000" stroke-width="1.8"/>
<rect x="798.2" y="3775.5" width="19.2" height="19.2" fill="#fff" stroke="#000" stroke-width="1.8"/>
<rect x="792.2" y="3891.4" width="19.2" height="19.2" fill="#fff" stroke="#000" stroke-width="1.8"/>
<rect x="786.2" y="3939.8" width="19.2" height="19.2" fill="#fff" stroke="#000" stroke-width="1.8"/>
<rect x="780.3" y="3784.6" width="19.2" height="19.2" fill="#fff" stroke="#000" stroke-width="1.8"/>
<rect x="774.3" y="3703.4" width="19.2" height="19.2" fill="#fff" stroke="#000" stroke-width="1.8"/>
<rect x="768.3" y="3697.5" width="19.2" height="19.2" fill="#fff" stroke="#000" stroke-width="1.8"/>
<rect x="762.4" y="3445.4" width="19.2" height="19.2" fill="#fff" stroke="#000" stroke-width="1.8"/>
<rect x="756.4" y="3873.0" width="19.2" height="19.2" fill="#fff" stroke="#000" stroke-width="1.8"/>
<rect x="750.5" y="3748.4" width="19.2" height="19.2" fill="#fff" stroke="#000" stroke-width="1.8"/>
<rect x="744.5" y="3670.4" width="19.2" height="19.2" fill="#fff" stroke="#000" stroke-width="1.8"/>
<rect x="738.5" y="3754.5" width="19.2" height="19.2" fill="#fff" stroke="#000" stroke-width="1.8"/>
<rect x="732.6" y="3887.7" width="19.2" height="19.2" fill="#fff" stroke="#000" stroke-width="1.8"/>
<rect x="726.6" y="3687.7" width="19.2" height="19.2" fill="#fff" stroke="#000" stroke-width="1.8"/>
<rect x="720.6" y="3776.6" width="19.2" height="19.2" fill="#fff" stroke="#000" stroke-width="1.8"/>
<rect x="714.7" y="3665.0" width="19.2" height="19.2" fill="#fff" stroke="#000" stroke-width="1.8"/>
<rect x="708.7" y="3457.2" width="19.2" height="19.2" fill="#fff" stroke="#000" stroke-width="1.8"/>
<rect x="702.8" y="3726.7" width="19.2" height="19.2" fill="#fff" stroke="#000" stroke-width="1.8"/>
<rect x="696.8" y="3688.4" width="19.2" height="19.2" fill="#fff" stroke="#000" stroke-width="1.8"/>
<rect x="690.8" y="3629.9" width="19.2" height="19.2" fill="#fff" stroke="#000" stroke-width="1.8"/>
<rect x="684.9" y="3749.5" width="19.2" height="19.2" fill="#fff" stroke="#000" stroke-width="1.8"/>
<rect x="678.9" y="3537.6" width="19.2" height="19.2" fill="#fff" stroke="#000" stroke-width="1.8"/>
<rect x="672.9" y="3693.6" width="19.2" height="19.2" fill="#fff" stroke="#000" stroke-width="1.8"/>
<rect x="667.0" y="3551.4" width="19.2" height="19.2" fill="#fff" stroke="#000" stroke-width="1.8"/>
<rect x="661.0" y="3273.1" width="19.2" height="19.2" fill="#fff" stroke="#000" stroke-width="1.8"/>
<rect x="655.1" y="3587.4" width="19.2" height="19.2" fill="#fff" stroke="#000" stroke-width="1.8"/>
<rect x="649.1" y="3330.1" width="19.2" height="19.2" fill="#fff" stroke="#000" stroke-width="1.8"/>
<rect x="643.1" y="3651.6" width="19.2" height="19.2" fill="#fff" stroke="#000" stroke-width="1.8"/>
<rect x="637.2" y="3425.7" width="19.2" height="19.2" fill="#fff" stroke="#000" stroke-width="1.8"/>
<rect x="631.2" y="3099.0" width="19.2" height="19.2" fill="#fff" stroke="#000" stroke-width="1.8"/>
<rect x="625.2" y="3408.7" width="19.2" height="19.2" fill="#fff" stroke="#000" stroke-width="1.8"/>
<rect x="619.3" y="3162.4" width="19.2" height="19.2" fill="#fff" stroke="#000" stroke-width="1.8"/>
<rect x="613.3" y="3314.7" width="19.2" height="19.2" fill="#fff" stroke="#000" stroke-width="1.8"/>
<rect x="607.3" y="3391.6" width="19.2" height="19.2" fill="#fff" stroke="#000" stroke-width="1.8"/>
<rect x="601.4" y="3050.3" width="19.2" height="19.2" fill="#fff" stroke="#000" stroke-width="1.8"/>
<rect x="595.4" y="3331.9" width="19.2" height="19.2" fill="#fff" stroke="#000" stroke-width="1.8"/>
<rect x="589.5" y="3420.4" width="19.2" height="19.2" fill="#fff" stroke="#000" stroke-width="1.8"/>
<rect x="583.5" y="3368.4" width="19.2" height="19.2" fill="#fff" stroke="#000" stroke-width="1.8"/>
<rect x="577.5" y="3442.0" width="19.2" height="19.2" fill="#fff" stroke="#000" stroke-width="1.8"/>
<rect x="571.6" y="3329.2" width="19.2" height="19.2" fill="#fff" stroke="#000" stroke-width="1.8"/>
<rect x="565.6" y="3536.6" width="19.2" height="19.2" fill="#fff" stroke="#000" stroke-width="1.8"/>
<rect x="559.6" y="3659.8" width="19.2" height="19.2" fill="#fff" stroke="#000" stroke-width="1.8"/>
<rect x="553.7" y="3658.1" width="19.2" height="19.2" fill="#fff" stroke="#000" stroke-width="1.8"/>
<rect x="547.7" y="3356.9" width="19.2" height="19.2" fill="#fff" stroke="#000" stroke-width="1.8"/>
<rect x="541.8" y="3541.5" width="19.2" height="19.2" fill="#fff" stroke="#000" stroke-width="1.8"/>
<rect x="535.8" y="3551.3" width="19.2" height="19.2" fill="#fff" stroke="#000" stroke-width="1.8"/>
<rect x="529.8" y="3374.4" width="19.2" height="19.2" fill="#fff" stroke="#000" stroke-width="1.8"/>
<rect x="523.9" y="3569.2" width="19.2" height="19.2" fill="#fff" stroke="#000" stroke-width="1.8"/>
<rect x="517.9" y="3501.6" width="19.2" height="19.2" fill="#fff" stroke="#000" stroke-width="1.8"/>
<rect x="511.9" y="3488.5" width="19.2" height="19.2" fill="#fff" stroke="#000" stroke-width="1.8"/>
<rect x="506.0" y="3709.4" width="19.2" height="19.2" fill="#fff" stroke="#000" stroke-width="1.8"/>
<rect x="500.0" y="3558.6" width="19.2" height="19.2" fill="#fff" stroke="#000" stroke-width="1.8"/>
<rect x="494.0" y="3483.6" width="19.2" height="19.2" fill="#fff" stroke="#000" stroke-width="1.8"/>
<rect x="488.1" y="3655.6" width="19.2" height="19.2" fill="#fff" stroke="#000" stroke-width="1.8"/>
<rect x="482.1" y="3464.4" width="19.2" height="19.2" fill="#fff" stroke="#000" stroke-width="1.8"/>
<rect x="476.2" y="3411.4" width="19.2" height="19.2" fill="#fff" stroke="#000" stroke-width="1.8"/>
<rect x="470.2" y="3340.3" width="19.2" height="19.2" fill="#fff" stroke="#000" stroke-width="1.8"/>
<rect x="464.2" y="3404.6" width="19.2" height="19.2" fill="#fff" stroke="#000" stroke-width="1.8"/>
<rect x="458.3" y="3431.3" width="19.2" height="19.2" fill="#fff" stroke="#000" stroke-width="1.8"/>
<rect x="452.3" y="3324.0" width="19.2" height="19.2" fill="#fff" stroke="#000" stroke-width="1.8"/>
<rect x="446.3" y="3510.9" width="19.2" height="19.2" fill="#fff" stroke="#000" stroke-width="1.8"/>
<rect x="440.4" y="3536.4" width="19.2" height="19.2" fill="#fff" stroke="#000" stroke-width="1.8"/>
<rect x="434.4" y="3725.6" width="19.2" height="19.2" fill="#fff" stroke="#000" stroke-width="1.8"/>
<rect x="428.5" y="3373.4" width="19.2" height="19.2" fill="#fff" stroke="#000" stroke-width="1.8"/>
<rect x="422.5" y="3882.6" width="19.2" height="19.2" fill="#fff" stroke="#000" stroke-width="1.8"/>
<rect x="416.5" y="3520.0" width="19.2" height="19.2" fill="#fff" stroke="#000" stroke-width="1.8"/>
<rect x="410.6" y="3444.9" width="19.2" height="19.2" fill="#fff" stroke="#000" stroke-width="1.8"/>
<rect x="404.6" y="3523.2" width="19.2" height="19.2" fill="#fff" stroke="#000" stroke-width="1.8"/>
<rect x="398.6" y="3541.4" width="19.2" height="19.2" fill="#fff" stroke="#000" stroke-width="1.8"/>
<rect x="392.7" y="3465.4" width="19.2" height="19.2" fill="#fff" stroke="#000" stroke-width="1.8"/>
<rect x="386.7" y="3906.7" width="19.2" height="19.2" fill="#fff" stroke="#000" stroke-width="1.8"/>
<rect x="380.8" y="3577.4" width="19.2" height="19.2" fill="#fff" stroke="#000" stroke-width="1.8"/>
<rect x="374.8" y="3449.8" width="19.2" height="19.2" fill="#fff" stroke="#000" stroke-width="1.8"/>
<rect x="368.8" y="3652.5" width="19.2" height="19.2" fill="#fff" stroke="#000" stroke-width="1.8"/>
<rect x="362.9" y="3811.8" width="19.2" height="19.2" fill="#fff" stroke="#000" stroke-width="1.8"/>
<rect x="356.9" y="3632.4" width="19.2" height="19.2" fill="#fff" stroke="#000" stroke-width="1.8"/>
<rect x="350.9" y="3572.4" width="19.2" height="19.2" fill="#fff" stroke="#000" stroke-width="1.8"/>
<rect x="345.0" y="3609.6" width="19.2" height="19.2" fill="#fff" stroke="#000" stroke-width="1.8"/>
<rect x="339.0" y="3546.4" width="19.2" height="19.2" fill="#fff" stroke="#000" stroke-width="1.8"/>
<rect x="333.0" y="3857.3" width="19.2" height="19.2" fill="#fff" stroke="#000" stroke-width="1.8"/>
<rect x="327.1" y="3738.6" width="19.2" height="19.2" fill="#fff" stroke="#000" stroke-width="1.8"/>
<rect x="321.1" y="3347.7" width="19.2" height="19.2" fill="#fff" stroke="#000" stroke-width="1.8"/>
<rect x="315.2" y="3391.6" width="19.2" height="19.2" fill="#fff" stroke="#000" stroke-width="1.8"/>
<rect x="309.2" y="3286.6" width="19.2" height="19.2" fill="#fff" stroke="#000" stroke-width="1.8"/>
<rect x="303.2" y="3306.8" width="19.2" height="19.2" fill="#fff" stroke="#000" stroke-width="1.8"/>
<rect x="297.3" y="3280.1" width="19.2" height="19.2" fill="#fff" stroke="#000" stroke-width="1.8"/>
<rect x="291.3" y="3589.1" width="19.2" height="19.2" fill="#fff" stroke="#000" stroke-width="1.8"/>
<rect x="285.3" y="3588.2" width="19.2" height="19.2" fill="#fff" stroke="#000" stroke-width="1.8"/>
<rect x="279.4" y="3562.7" width="19.2" height="19.2" fill="#fff" stroke="#000" stroke-width="1.8"/>
<rect x="273.4" y="3360.7" width="19.2" height="19.2" fill="#fff" stroke="#000" stroke-width="1.8"/>
<rect x="267.5" y="3379.9" width="19.2" height="19.2" fill="#fff" stroke="#000" stroke-width="1.8"/>
<rect x="261.5" y="3582.9" width="19.2" height="19.2" fill="#fff" stroke="#000" stroke-width="1.8"/>
<rect x="255.5" y="3415.0" width="19.2" height="19.2" fill="#fff" stroke="#000" stroke-width="1.8"/>
<rect x="249.6" y="3637.2" width="19.2" height="19.2" fill="#fff" stroke="#000" stroke-width="1.8"/>
<rect x="243.6" y="3653.2" width="19.2" height="19.2" fill="#fff" stroke="#000" stroke-width="1.8"/>
<rect x="237.6" y="3502.8" width="19.2" height="19.2" fill="#fff" stroke="#000" stroke-width="1.8"/>
<rect x="231.7" y="3540.4" width="19.2" height="19.2" fill="#fff" stroke="#000" stroke-width="1.8"/>
<rect x="225.7" y="3601.2" width="19.2" height="19.2" fill="#fff" stroke="#000" stroke-width="1.8"/>
<rect x="219.8" y="3703.9" width="19.2" height="19.2" fill="#fff" stroke="#000" stroke-width="1.8"/>
<rect x="213.8" y="3509.4" width="19.2" height="19.2" fill="#fff" stroke="#000" stroke-width="1.8"/>
<rect x="207.8" y="3241.1" width="19.2" height="19.2" fill="#fff" stroke="#000" stroke-width="1.8"/>
<rect x="201.9" y="3516.4" width="19.2" height="19.2" fill="#fff" stroke="#000" stroke-width="1.8"/>
<rect x="195.9" y="3520.8" width="19.2" height="19.2" fill="#fff" stroke="#000" stroke-width="1.8"/>
<path d="M337.0,3700.4 L339.0,3699.3 L341.0,3698.2 L343.0,3697.0 L345.0,3695.8 L347.0,3694.6 L349.0,3693.3 L351.0,3691.9 L353.0,3690.5 L355.0,3689.1 L357.0,3687.6 L359.0,3686.1 L361.0,3684.5 L363.0,3682.9 L365.0,3681.2 L367.0,3679.5 L369.0,3677.8 L371.0,3676.0 L373.0,3674.1 L375.0,3672.2 L377.0,3670.2 L379.0,3668.2 L381.0,3666.2 L383.0,3664.1 L385.0,3661.9 L387.0,3659.7 L389.0,3657.5 L391.0,3655.2 L393.0,3652.8 L395.0,3650.4 L397.0,3648.0 L399.0,3645.5 L401.0,3643.0 L403.0,3640.4 L405.0,3637.8 L407.0,3635.2 L409.0,3632.5 L411.0,3629.7 L413.0,3626.9 L415.0,3624.1 L417.0,3621.3 L419.0,3618.4 L421.0,3615.4 L423.0,3612.4 L425.0,3609.4 L427.0,3606.4 L429.0,3603.3 L431.0,3600.2 L433.0,3597.1 L435.0,3593.9 L437.0,3590.8 L439.0,3587.6 L441.0,3584.3 L443.0,3581.1 L445.0,3577.8 L447.0,3574.5 L449.0,3571.2 L451.0,3567.9 L453.0,3564.6 L455.0,3561.2 L457.0,3557.9 L459.0,3554.5 L461.0,3551.2 L463.0,3547.8 L465.0,3544.5 L467.0,3541.1 L469.0,3537.8 L471.0,3534.5 L473.0,3531.1 L475.0,3527.8 L477.0,3524.5 L479.0,3521.2 L481.0,3518.0 L483.0,3514.7 L485.0,3511.5 L487.0,3508.4 L489.0,3505.2 L491.0,3502.1 L493.0,3499.0 L495.0,3495.9 L497.0,3492.9 L499.0,3490.0 L501.0,3487.0 L503.0,3484.2 L505.0,3481.4 L507.0,3478.6 L509.0,3475.9 L511.0,3473.2 L513.0,3470.6 L515.0,3468.1 L517.0,3465.6 L519.0,3463.2 L521.0,3460.9 L523.0,3458.6 L525.0,3456.4 L527.0,3454.3 L529.0,3452.3 L531.0,3450.4 L533.0,3448.5 L535.0,3446.7 L537.0,3445.0 L539.0,3443.4 L541.0,3441.9 L543.0,3440.5 L545.0,3439.1 L547.0,3437.9 L549.0,3436.7 L551.0,3435.7 L553.0,3434.8 L555.0,3433.9 L557.0,3433.2 L559.0,3432.5 L561.0,3432.0 L563.0,3431.6 L565.0,3431.2 L567.0,3431.0 L569.0,3430.9 L571.0,3430.9 L573.0,3431.0 L575.0,3431.2 L577.0,3431.5 L579.0,3432.0 L581.0,3432.5 L583.0,3433.2 L585.0,3433.9 L587.0,3434.8 L589.0,3435.8 L591.0,3436.8 L593.0,3438.0 L595.0,3439.3 L597.0,3440.7 L599.0,3442.2 L601.0,3443.9 L603.0,3445.6 L605.0,3447.4 L607.0,3449.3 L609.0,3451.4 L611.0,3453.5 L613.0,3455.7 L615.0,3458.1 L617.0,3460.5 L619.0,3463.0 L621.0,3465.6 L623.0,3468.3 L625.0,3471.1 L627.0,3473.9 L629.0,3476.9 L631.0,3479.9 L633.0,3483.1 L635.0,3486.3 L637.0,3489.6 L639.0,3492.9 L641.0,3496.3 L643.0,3499.8 L645.0,3503.4 L647.0,3507.0 L649.0,3510.7 L651.0,3514.5 L653.0,3518.3 L655.0,3522.2 L657.0,3526.1 L659.0,3530.1 L661.0,3534.1 L663.0,3538.2 L665.0,3542.3 L667.0,3546.5 L669.0,3550.7 L671.0,3554.9 L673.0,3559.2 L675.0,3563.5 L677.0,3567.8 L679.0,3572.2 L681.0,3576.6 L683.0,3581.0 L685.0,3585.4 L687.0,3589.8 L689.0,3594.3 L691.0,3598.7 L693.0,3603.2 L695.0,3607.7 L697.0,3612.2 L699.0,3616.6 L701.0,3621.1 L703.0,3625.6 L705.0,3630.1 L707.0,3634.6 L709.0,3639.0 L711.0,3643.5 L713.0,3647.9 L715.0,3652.3 L717.0,3656.7 L719.0,3661.1 L721.0,3665.5 L723.0,3669.9 L725.0,3674.2 L727.0,3678.5 L729.0,3682.8 L731.0,3687.0 L733.0,3691.2 L735.0,3695.4 L737.0,3699.6 L739.0,3703.7 L741.0,3707.8 L743.0,3711.8 L745.0,3715.8 L747.0,3719.8 L749.0,3723.7 L751.0,3727.6 L753.0,3731.5 L755.0,3735.3 L757.0,3739.0 L759.0,3742.8 L761.0,3746.4 L763.0,3750.1 L765.0,3753.7 L767.0,3757.2 L769.0,3760.7 L771.0,3764.1 L773.0,3767.5 L775.0,3770.9 L777.0,3774.2 L779.0,3777.4 L781.0,3780.7 L783.0,3783.8 L785.0,3786.9 L787.0,3790.0 L789.0,3793.0 L791.0,3796.0 L793.0,3798.9 L795.0,3801.8 L797.0,3804.6 L799.0,3807.4 L801.0,3810.1 L803.0,3812.8 L805.0,3815.4 L807.0,3818.0 L809.0,3820.5 L811.0,3823.0 L813.0,3825.4 L815.0,3827.8 L817.0,3830.2 L819.0,3832.5 L821.0,3834.8 L823.0,3837.0 L825.0,3839.2 L827.0,3841.3 L829.0,3843.4 L831.0,3845.5 L833.0,3847.5 L835.0,3849.5 L837.0,3851.4 L839.0,3853.3 L841.0,3855.2 L843.0,3857.0 L845.0,3858.8 L847.0,3860.5 L849.0,3862.2 L851.0,3863.9 L853.0,3865.6 L855.0,3867.2 L857.0,3868.8 L859.0,3870.3 L861.0,3871.8 L863.0,3873.3 L865.0,3874.8 L867.0,3876.2 L869.0,3877.6 L871.0,3879.0 L873.0,3880.3 L875.0,3881.6 L877.0,3882.9 L879.0,3884.2 L881.0,3885.4 L883.0,3886.7 L885.0,3887.8 L887.0,3889.0 L889.0,3890.2 L891.0,3891.3 L893.0,3892.4 L895.0,3893.5 L897.0,3894.6 L899.0,3895.6 L901.0,3896.7 L903.0,3897.7 L905.0,3898.7 L907.0,3899.6 L909.0,3900.6 L911.0,3901.6 L913.0,3902.5 L915.0,3903.4 L917.0,3904.3 L919.0,3905.2 L921.0,3906.1 L923.0,3906.9 L925.0,3907.8 L927.0,3908.6 L929.0,3909.5 L931.0,3910.3 L933.0,3911.1 L935.0,3911.9 L937.0,3912.7 L939.0,3913.4 L941.0,3914.2 L943.0,3915.0 L945.0,3915.7 L947.0,3916.4 L949.0,3917.2 L951.0,3917.9 L953.0,3918.6 L955.0,3919.3 L957.0,3920.0 L959.0,3920.7 L961.0,3921.4 L963.0,3922.1 L965.0,3922.8 L967.0,3923.5 L969.0,3924.1 L971.0,3924.8 L973.0,3925.5 L975.0,3926.1 L977.0,3926.8 L979.0,3927.4 L981.0,3928.1 L983.0,3928.7 L985.0,3929.3 L987.0,3930.0 L989.0,3930.6 L991.0,3931.2 L993.0,3931.8 L995.0,3932.5 L997.0,3933.1 L999.0,3933.7 L1001.0,3934.3 L1003.0,3934.9 L1005.0,3935.5 L1007.0,3936.1 L1009.0,3936.7 L1011.0,3937.3 L1013.0,3937.9 L1015.0,3938.5 L1017.0,3939.1 L1019.0,3939.7 L1021.0,3940.3 L1023.0,3940.9 L1025.0,3941.5 L1027.0,3942.1 L1029.0,3942.7 L1031.0,3943.2 L1033.0,3943.8 L1035.0,3944.4 L1037.0,3945.0 L1039.0,3945.6 L1041.0,3946.2 L1043.0,3946.7 L1045.0,3947.3 L1047.0,3947.9 L1049.0,3948.5 L1051.0,3949.0 L1053.0,3949.6 L1055.0,3950.2 L1057.0,3950.8 L1059.0,3951.4 L1061.0,3951.9 L1063.0,3952.5 L1065.0,3953.1 L1067.0,3953.6 L1069.0,3954.2 L1071.0,3954.8 L1073.0,3955.4 L1075.0,3955.9 L1077.0,3956.5 L1079.0,3957.1 L1081.0,3957.6 L1083.0,3958.2 L1085.0,3958.8 L1087.0,3959.4 L1089.0,3959.9 L1091.0,3960.5 L1093.0,3961.1 L1095.0,3961.6 L1097.0,3962.2 L1099.0,3962.8 L1101.0,3963.3 L1103.0,3963.9 L1105.0,3964.5 L1107.0,3965.0 L1109.0,3965.6 L1111.0,3966.2 L1113.0,3966.7 L1115.0,3967.3 L1117.0,3967.9 L1119.0,3968.4 L1121.0,3969.0 L1123.0,3969.6 L1125.0,3970.1 L1127.0,3970.7 L1129.0,3971.3 L1131.0,3971.8 L1133.0,3972.4 L1135.0,3973.0 L1137.0,3973.6 L1139.0,3974.1 L1141.0,3974.7 L1143.0,3975.3 L1145.0,3975.8 L1147.0,3976.4 L1149.0,3977.0 L1151.0,3977.5 L1153.0,3978.1 L1155.0,3978.7 L1157.0,3979.2 L1159.0,3979.8 L1161.0,3980.3 L1163.0,3980.9 L1165.0,3981.5 L1167.0,3982.0 L1169.0,3982.6 L1171.0,3983.2 L1173.0,3983.7 L1175.0,3984.3 L1177.0,3984.9 L1179.0,3985.4 L1181.0,3986.0 L1183.0,3986.6 L1185.0,3987.1 L1187.0,3987.7 L1189.0,3988.3 L1191.0,3988.8 L1193.0,3989.4 L1195.0,3990.0 L1197.0,3990.5 L1199.0,3991.1 L1201.0,3991.7 L1203.0,3992.2 L1205.0,3992.8 L1207.0,3993.4 L1209.0,3993.9 L1211.0,3994.5 L1213.0,3995.1 L1215.0,3995.6 L1217.0,3996.2 L1219.0,3996.8 L1221.0,3997.3 L1223.0,3997.9 L1225.0,3998.5 L1227.0,3999.0 L1229.0,3999.6 L1231.0,4000.2 L1233.0,4000.7 L1235.0,4001.3 L1237.0,4001.9 L1239.0,4002.4 L1241.0,4003.0 L1243.0,4003.6 L1245.0,4004.1 L1247.0,4004.7 L1249.0,4005.3 L1251.0,4005.8 L1253.0,4006.4 L1255.0,4007.0 L1257.0,4007.5 L1259.0,4008.1 L1261.0,4008.7 L1263.0,4009.2 L1265.0,4009.8 L1267.0,4010.4 L1269.0,4010.9 L1271.0,4011.5 L1273.0,4012.1 L1275.0,4012.6 L1277.0,4013.2 L1279.0,4013.8 L1281.0,4014.3 L1283.0,4014.9 L1285.0,4015.4 L1287.0,4016.0 L1289.0,4016.6 L1291.0,4017.1 L1293.0,4017.7 L1295.0,4018.3 L1297.0,4018.8 L1299.0,4019.4 L1301.0,4020.0 L1303.0,4020.5 L1305.0,4021.1 L1307.0,4021.7 L1309.0,4022.2 L1311.0,4022.8 L1313.0,4023.4 L1315.0,4023.9 L1317.0,4024.5 L1319.0,4025.1 L1321.0,4025.6 L1323.0,4026.2 L1325.0,4026.8 L1327.0,4027.3 L1329.0,4027.9 L1331.0,4028.5 L1333.0,4029.0 L1335.0,4029.6 L1337.0,4030.2 L1339.0,4030.7 L1341.0,4031.3 L1343.0,4031.9 L1345.0,4032.4 L1347.0,4033.0 L1349.0,4033.6 L1351.0,4034.1 L1353.0,4034.7 L1355.0,4035.3 L1357.0,4035.8 L1359.0,4036.4 L1361.0,4037.0 L1363.0,4037.5 L1365.0,4038.1 L1367.0,4038.6 L1369.0,4039.2 L1371.0,4039.8 L1373.0,4040.3 L1375.0,4040.9 L1377.0,4041.5 L1379.0,4042.0 L1381.0,4042.6 L1383.0,4043.2 L1385.0,4043.7 L1387.0,4044.3 L1389.0,4044.9 L1391.0,4045.4 L1393.0,4046.0 L1395.0,4046.6 L1397.0,4047.1 L1399.0,4047.7 L1401.0,4048.3 L1403.0,4048.8" fill="none" stroke="#0000ff" stroke-width="4.5" stroke-dasharray="7.5 14.5" stroke-linecap="round"/>
<path d="M337.0,3747.5 L339.0,3748.0 L341.0,3748.6 L343.0,3749.2 L345.0,3749.7 L347.0,3750.3 L349.0,3750.9 L351.0,3751.4 L353.0,3752.0 L355.0,3752.6 L357.0,3753.1 L359.0,3753.7 L361.0,3754.3 L363.0,3754.8 L365.0,3755.4 L367.0,3756.0 L369.0,3756.5 L371.0,3757.1 L373.0,3757.6 L375.0,3758.2 L377.0,3758.8 L379.0,3759.3 L381.0,3759.9 L383.0,3760.5 L385.0,3761.0 L387.0,3761.6 L389.0,3762.2 L391.0,3762.7 L393.0,3763.3 L395.0,3763.9 L397.0,3764.4 L399.0,3765.0 L401.0,3765.6 L403.0,3766.1 L405.0,3766.7 L407.0,3767.3 L409.0,3767.8 L411.0,3768.4 L413.0,3769.0 L415.0,3769.5 L417.0,3770.1 L419.0,3770.7 L421.0,3771.2 L423.0,3771.8 L425.0,3772.4 L427.0,3772.9 L429.0,3773.5 L431.0,3774.0 L433.0,3774.6 L435.0,3775.2 L437.0,3775.7 L439.0,3776.3 L441.0,3776.9 L443.0,3777.4 L445.0,3778.0 L447.0,3778.6 L449.0,3779.1 L451.0,3779.7 L453.0,3780.3 L455.0,3780.8 L457.0,3781.4 L459.0,3782.0 L461.0,3782.5 L463.0,3783.1 L465.0,3783.7 L467.0,3784.2 L469.0,3784.8 L471.0,3785.4 L473.0,3785.9 L475.0,3786.5 L477.0,3787.1 L479.0,3787.6 L481.0,3788.2 L483.0,3788.8 L485.0,3789.3 L487.0,3789.9 L489.0,3790.4 L491.0,3791.0 L493.0,3791.6 L495.0,3792.1 L497.0,3792.7 L499.0,3793.3 L501.0,3793.8 L503.0,3794.4 L505.0,3795.0 L507.0,3795.5 L509.0,3796.1 L511.0,3796.7 L513.0,3797.2 L515.0,3797.8 L517.0,3798.4 L519.0,3798.9 L521.0,3799.5 L523.0,3800.1 L525.0,3800.6 L527.0,3801.2 L529.0,3801.8 L531.0,3802.3 L533.0,3802.9 L535.0,3803.5 L537.0,3804.0 L539.0,3804.6 L541.0,3805.2 L543.0,3805.7 L545.0,3806.3 L547.0,3806.8 L549.0,3807.4 L551.0,3808.0 L553.0,3808.5 L555.0,3809.1 L557.0,3809.7 L559.0,3810.2 L561.0,3810.8 L563.0,3811.4 L565.0,3811.9 L567.0,3812.5 L569.0,3813.1 L571.0,3813.6 L573.0,3814.2 L575.0,3814.8 L577.0,3815.3 L579.0,3815.9 L581.0,3816.5 L583.0,3817.0 L585.0,3817.6 L587.0,3818.2 L589.0,3818.7 L591.0,3819.3 L593.0,3819.9 L595.0,3820.4 L597.0,3821.0 L599.0,3821.6 L601.0,3822.1 L603.0,3822.7 L605.0,3823.2 L607.0,3823.8 L609.0,3824.4 L611.0,3824.9 L613.0,3825.5 L615.0,3826.1 L617.0,3826.6 L619.0,3827.2 L621.0,3827.8 L623.0,3828.3 L625.0,3828.9 L627.0,3829.5 L629.0,3830.0 L631.0,3830.6 L633.0,3831.2 L635.0,3831.7 L637.0,3832.3 L639.0,3832.9 L641.0,3833.4 L643.0,3834.0 L645.0,3834.6 L647.0,3835.1 L649.0,3835.7 L651.0,3836.3 L653.0,3836.8 L655.0,3837.4 L657.0,3838.0 L659.0,3838.5 L661.0,3839.1 L663.0,3839.6 L665.0,3840.2 L667.0,3840.8 L669.0,3841.3 L671.0,3841.9 L673.0,3842.5 L675.0,3843.0 L677.0,3843.6 L679.0,3844.2 L681.0,3844.7 L683.0,3845.3 L685.0,3845.9 L687.0,3846.4 L689.0,3847.0 L691.0,3847.6 L693.0,3848.1 L695.0,3848.7 L697.0,3849.3 L699.0,3849.8 L701.0,3850.4 L703.0,3851.0 L705.0,3851.5 L707.0,3852.1 L709.0,3852.7 L711.0,3853.2 L713.0,3853.8 L715.0,3854.4 L717.0,3854.9 L719.0,3855.5 L721.0,3856.0 L723.0,3856.6 L725.0,3857.2 L727.0,3857.7 L729.0,3858.3 L731.0,3858.9 L733.0,3859.4 L735.0,3860.0 L737.0,3860.6 L739.0,3861.1 L741.0,3861.7 L743.0,3862.3 L745.0,3862.8 L747.0,3863.4 L749.0,3864.0 L751.0,3864.5 L753.0,3865.1 L755.0,3865.7 L757.0,3866.2 L759.0,3866.8 L761.0,3867.4 L763.0,3867.9 L765.0,3868.5 L767.0,3869.1 L769.0,3869.6 L771.0,3870.2 L773.0,3870.8 L775.0,3871.3 L777.0,3871.9 L779.0,3872.4 L781.0,3873.0 L783.0,3873.6 L785.0,3874.1 L787.0,3874.7 L789.0,3875.3 L791.0,3875.8 L793.0,3876.4 L795.0,3877.0 L797.0,3877.5 L799.0,3878.1 L801.0,3878.7 L803.0,3879.2 L805.0,3879.8 L807.0,3880.4 L809.0,3880.9 L811.0,3881.5 L813.0,3882.1 L815.0,3882.6 L817.0,3883.2 L819.0,3883.8 L821.0,3884.3 L823.0,3884.9 L825.0,3885.5 L827.0,3886.0 L829.0,3886.6 L831.0,3887.2 L833.0,3887.7 L835.0,3888.3 L837.0,3888.8 L839.0,3889.4 L841.0,3890.0 L843.0,3890.5 L845.0,3891.1 L847.0,3891.7 L849.0,3892.2 L851.0,3892.8 L853.0,3893.4 L855.0,3893.9 L857.0,3894.5 L859.0,3895.1 L861.0,3895.6 L863.0,3896.2 L865.0,3896.8 L867.0,3897.3 L869.0,3897.9 L871.0,3898.5 L873.0,3899.0 L875.0,3899.6 L877.0,3900.2 L879.0,3900.7 L881.0,3901.3 L883.0,3901.9 L885.0,3902.4 L887.0,3903.0 L889.0,3903.6 L891.0,3904.1 L893.0,3904.7 L895.0,3905.2 L897.0,3905.8 L899.0,3906.4 L901.0,3906.9 L903.0,3907.5 L905.0,3908.1 L907.0,3908.6 L909.0,3909.2 L911.0,3909.8 L913.0,3910.3 L915.0,3910.9 L917.0,3911.5 L919.0,3912.0 L921.0,3912.6 L923.0,3913.2 L925.0,3913.7 L927.0,3914.3 L929.0,3914.9 L931.0,3915.4 L933.0,3916.0 L935.0,3916.6 L937.0,3917.1 L939.0,3917.7 L941.0,3918.3 L943.0,3918.8 L945.0,3919.4 L947.0,3920.0 L949.0,3920.5 L951.0,3921.1 L953.0,3921.6 L955.0,3922.2 L957.0,3922.8 L959.0,3923.3 L961.0,3923.9 L963.0,3924.5 L965.0,3925.0 L967.0,3925.6 L969.0,3926.2 L971.0,3926.7 L973.0,3927.3 L975.0,3927.9 L977.0,3928.4 L979.0,3929.0 L981.0,3929.6 L983.0,3930.1 L985.0,3930.7 L987.0,3931.3 L989.0,3931.8 L991.0,3932.4 L993.0,3933.0 L995.0,3933.5 L997.0,3934.1 L999.0,3934.7 L1001.0,3935.2 L1003.0,3935.8 L1005.0,3936.4 L1007.0,3936.9 L1009.0,3937.5 L1011.0,3938.0 L1013.0,3938.6 L1015.0,3939.2 L1017.0,3939.7 L1019.0,3940.3 L1021.0,3940.9 L1023.0,3941.4 L1025.0,3942.0 L1027.0,3942.6 L1029.0,3943.1 L1031.0,3943.7 L1033.0,3944.3 L1035.0,3944.8 L1037.0,3945.4 L1039.0,3946.0 L1041.0,3946.5 L1043.0,3947.1 L1045.0,3947.7 L1047.0,3948.2 L1049.0,3948.8 L1051.0,3949.4 L1053.0,3949.9 L1055.0,3950.5 L1057.0,3951.1 L1059.0,3951.6 L1061.0,3952.2 L1063.0,3952.8 L1065.0,3953.3 L1067.0,3953.9 L1069.0,3954.4 L1071.0,3955.0 L1073.0,3955.6 L1075.0,3956.1 L1077.0,3956.7 L1079.0,3957.3 L1081.0,3957.8 L1083.0,3958.4 L1085.0,3959.0 L1087.0,3959.5 L1089.0,3960.1 L1091.0,3960.7 L1093.0,3961.2 L1095.0,3961.8 L1097.0,3962.4 L1099.0,3962.9 L1101.0,3963.5 L1103.0,3964.1 L1105.0,3964.6 L1107.0,3965.2 L1109.0,3965.8 L1111.0,3966.3 L1113.0,3966.9 L1115.0,3967.5 L1117.0,3968.0 L1119.0,3968.6 L1121.0,3969.2 L1123.0,3969.7 L1125.0,3970.3 L1127.0,3970.8 L1129.0,3971.4 L1131.0,3972.0 L1133.0,3972.5 L1135.0,3973.1 L1137.0,3973.7 L1139.0,3974.2 L1141.0,3974.8 L1143.0,3975.4 L1145.0,3975.9 L1147.0,3976.5 L1149.0,3977.1 L1151.0,3977.6 L1153.0,3978.2 L1155.0,3978.8 L1157.0,3979.3 L1159.0,3979.9 L1161.0,3980.5 L1163.0,3981.0 L1165.0,3981.6 L1167.0,3982.2 L1169.0,3982.7 L1171.0,3983.3 L1173.0,3983.9 L1175.0,3984.4 L1177.0,3985.0 L1179.0,3985.6 L1181.0,3986.1 L1183.0,3986.7 L1185.0,3987.2 L1187.0,3987.8 L1189.0,3988.4 L1191.0,3988.9 L1193.0,3989.5 L1195.0,3990.1 L1197.0,3990.6 L1199.0,3991.2 L1201.0,3991.8 L1203.0,3992.3 L1205.0,3992.9 L1207.0,3993.5 L1209.0,3994.0 L1211.0,3994.6 L1213.0,3995.2 L1215.0,3995.7 L1217.0,3996.3 L1219.0,3996.9 L1221.0,3997.4 L1223.0,3998.0 L1225.0,3998.6 L1227.0,3999.1 L1229.0,3999.7 L1231.0,4000.3 L1233.0,4000.8 L1235.0,4001.4 L1237.0,4002.0 L1239.0,4002.5 L1241.0,4003.1 L1243.0,4003.6 L1245.0,4004.2 L1247.0,4004.8 L1249.0,4005.3 L1251.0,4005.9 L1253.0,4006.5 L1255.0,4007.0 L1257.0,4007.6 L1259.0,4008.2 L1261.0,4008.7 L1263.0,4009.3 L1265.0,4009.9 L1267.0,4010.4 L1269.0,4011.0 L1271.0,4011.6 L1273.0,4012.1 L1275.0,4012.7 L1277.0,4013.3 L1279.0,4013.8 L1281.0,4014.4 L1283.0,4015.0 L1285.0,4015.5 L1287.0,4016.1 L1289.0,4016.7 L1291.0,4017.2 L1293.0,4017.8 L1295.0,4018.4 L1297.0,4018.9 L1299.0,4019.5 L1301.0,4020.0 L1303.0,4020.6 L1305.0,4021.2 L1307.0,4021.7 L1309.0,4022.3 L1311.0,4022.9 L1313.0,4023.4 L1315.0,4024.0 L1317.0,4024.6 L1319.0,4025.1 L1321.0,4025.7 L1323.0,4026.3 L1325.0,4026.8 L1327.0,4027.4 L1329.0,4028.0 L1331.0,4028.5 L1333.0,4029.1 L1335.0,4029.7 L1337.0,4030.2 L1339.0,4030.8 L1341.0,4031.4 L1343.0,4031.9 L1345.0,4032.5 L1347.0,4033.1 L1349.0,4033.6 L1351.0,4034.2 L1353.0,4034.8 L1355.0,4035.3 L1357.0,4035.9 L1359.0,4036.4 L1361.0,4037.0 L1363.0,4037.6 L1365.0,4038.1 L1367.0,4038.7 L1369.0,4039.3 L1371.0,4039.8 L1373.0,4040.4 L1375.0,4041.0 L1377.0,4041.5 L1379.0,4042.1 L1381.0,4042.7 L1383.0,4043.2 L1385.0,4043.8 L1387.0,4044.4 L1389.0,4044.9 L1391.0,4045.5 L1393.0,4046.1 L1395.0,4046.6 L1397.0,4047.2 L1399.0,4047.8 L1401.0,4048.3 L1403.0,4048.9" fill="none" stroke="#808080" stroke-width="4.8"/>
<path d="M337.0,3692.3 L339.0,3691.2 L341.0,3690.1 L343.0,3688.9 L345.0,3687.6 L347.0,3686.4 L349.0,3685.0 L351.0,3683.6 L353.0,3682.2 L355.0,3680.7 L357.0,3679.2 L359.0,3677.7 L361.0,3676.1 L363.0,3674.4 L365.0,3672.7 L367.0,3670.9 L369.0,3669.1 L371.0,3667.3 L373.0,3665.4 L375.0,3663.4 L377.0,3661.4 L379.0,3659.4 L381.0,3657.3 L383.0,3655.1 L385.0,3652.9 L387.0,3650.7 L389.0,3648.4 L391.0,3646.0 L393.0,3643.7 L395.0,3641.2 L397.0,3638.7 L399.0,3636.2 L401.0,3633.6 L403.0,3631.0 L405.0,3628.4 L407.0,3625.7 L409.0,3622.9 L411.0,3620.1 L413.0,3617.3 L415.0,3614.4 L417.0,3611.5 L419.0,3608.6 L421.0,3605.6 L423.0,3602.5 L425.0,3599.5 L427.0,3596.4 L429.0,3593.3 L431.0,3590.1 L433.0,3586.9 L435.0,3583.7 L437.0,3580.5 L439.0,3577.2 L441.0,3573.9 L443.0,3570.6 L445.0,3567.3 L447.0,3564.0 L449.0,3560.6 L451.0,3557.2 L453.0,3553.9 L455.0,3550.5 L457.0,3547.1 L459.0,3543.6 L461.0,3540.2 L463.0,3536.8 L465.0,3533.4 L467.0,3530.0 L469.0,3526.6 L471.0,3523.2 L473.0,3519.8 L475.0,3516.4 L477.0,3513.1 L479.0,3509.7 L481.0,3506.4 L483.0,3503.1 L485.0,3499.8 L487.0,3496.6 L489.0,3493.4 L491.0,3490.2 L493.0,3487.0 L495.0,3483.9 L497.0,3480.8 L499.0,3477.8 L501.0,3474.8 L503.0,3471.9 L505.0,3469.0 L507.0,3466.1 L509.0,3463.3 L511.0,3460.6 L513.0,3457.9 L515.0,3455.3 L517.0,3452.8 L519.0,3450.3 L521.0,3447.9 L523.0,3445.6 L525.0,3443.3 L527.0,3441.1 L529.0,3439.0 L531.0,3437.0 L533.0,3435.0 L535.0,3433.2 L537.0,3431.4 L539.0,3429.7 L541.0,3428.1 L543.0,3426.6 L545.0,3425.1 L547.0,3423.8 L549.0,3422.6 L551.0,3421.5 L553.0,3420.4 L555.0,3419.5 L557.0,3418.7 L559.0,3417.9 L561.0,3417.3 L563.0,3416.8 L565.0,3416.4 L567.0,3416.0 L569.0,3415.8 L571.0,3415.7 L573.0,3415.7 L575.0,3415.9 L577.0,3416.1 L579.0,3416.4 L581.0,3416.9 L583.0,3417.4 L585.0,3418.1 L587.0,3418.8 L589.0,3419.7 L591.0,3420.7 L593.0,3421.8 L595.0,3422.9 L597.0,3424.2 L599.0,3425.6 L601.0,3427.1 L603.0,3428.8 L605.0,3430.5 L607.0,3432.3 L609.0,3434.2 L611.0,3436.2 L613.0,3438.3 L615.0,3440.5 L617.0,3442.8 L619.0,3445.2 L621.0,3447.7 L623.0,3450.3 L625.0,3452.9 L627.0,3455.7 L629.0,3458.5 L631.0,3461.4 L633.0,3464.4 L635.0,3467.5 L637.0,3470.6 L639.0,3473.8 L641.0,3477.1 L643.0,3480.5 L645.0,3483.9 L647.0,3487.4 L649.0,3491.0 L651.0,3494.6 L653.0,3498.3 L655.0,3502.0 L657.0,3505.8 L659.0,3509.6 L661.0,3513.5 L663.0,3517.4 L665.0,3521.4 L667.0,3525.4 L669.0,3529.4 L671.0,3533.5 L673.0,3537.6 L675.0,3541.7 L677.0,3545.9 L679.0,3550.1 L681.0,3554.3 L683.0,3558.5 L685.0,3562.8 L687.0,3567.0 L689.0,3571.3 L691.0,3575.6 L693.0,3579.9 L695.0,3584.2 L697.0,3588.4 L699.0,3592.7 L701.0,3597.0 L703.0,3601.3 L705.0,3605.6 L707.0,3609.9 L709.0,3614.1 L711.0,3618.4 L713.0,3622.6 L715.0,3626.8 L717.0,3631.0 L719.0,3635.2 L721.0,3639.4 L723.0,3643.5 L725.0,3647.6 L727.0,3651.7 L729.0,3655.7 L731.0,3659.8 L733.0,3663.7 L735.0,3667.7 L737.0,3671.6 L739.0,3675.5 L741.0,3679.3 L743.0,3683.1 L745.0,3686.9 L747.0,3690.6 L749.0,3694.3 L751.0,3697.9 L753.0,3701.5 L755.0,3705.0 L757.0,3708.5 L759.0,3712.0 L761.0,3715.4 L763.0,3718.7 L765.0,3722.0 L767.0,3725.3 L769.0,3728.5 L771.0,3731.6 L773.0,3734.7 L775.0,3737.8 L777.0,3740.8 L779.0,3743.7 L781.0,3746.6 L783.0,3749.4 L785.0,3752.2 L787.0,3755.0 L789.0,3757.6 L791.0,3760.3 L793.0,3762.8 L795.0,3765.3 L797.0,3767.8 L799.0,3770.2 L801.0,3772.6 L803.0,3774.9 L805.0,3777.1 L807.0,3779.3 L809.0,3781.5 L811.0,3783.6 L813.0,3785.6 L815.0,3787.6 L817.0,3789.5 L819.0,3791.4 L821.0,3793.2 L823.0,3795.0 L825.0,3796.8 L827.0,3798.4 L829.0,3800.1 L831.0,3801.7 L833.0,3803.2 L835.0,3804.7 L837.0,3806.1 L839.0,3807.5 L841.0,3808.9 L843.0,3810.2 L845.0,3811.4 L847.0,3812.6 L849.0,3813.8 L851.0,3814.9 L853.0,3816.0 L855.0,3817.0 L857.0,3818.0 L859.0,3818.9 L861.0,3819.8 L863.0,3820.7 L865.0,3821.5 L867.0,3822.3 L869.0,3823.0 L871.0,3823.7 L873.0,3824.3 L875.0,3824.9 L877.0,3825.5 L879.0,3826.0 L881.0,3826.5 L883.0,3827.0 L885.0,3827.4 L887.0,3827.7 L889.0,3828.1 L891.0,3828.3 L893.0,3828.6 L895.0,3828.8 L897.0,3829.0 L899.0,3829.1 L901.0,3829.2 L903.0,3829.2 L905.0,3829.2 L907.0,3829.2 L909.0,3829.1 L911.0,3829.0 L913.0,3828.8 L915.0,3828.6 L917.0,3828.4 L919.0,3828.1 L921.0,3827.8 L923.0,3827.5 L925.0,3827.1 L927.0,3826.6 L929.0,3826.1 L931.0,3825.6 L933.0,3825.0 L935.0,3824.4 L937.0,3823.7 L939.0,3823.0 L941.0,3822.3 L943.0,3821.5 L945.0,3820.6 L947.0,3819.7 L949.0,3818.8 L951.0,3817.8 L953.0,3816.7 L955.0,3815.6 L957.0,3814.5 L959.0,3813.3 L961.0,3812.0 L963.0,3810.7 L965.0,3809.3 L967.0,3807.9 L969.0,3806.4 L971.0,3804.9 L973.0,3803.3 L975.0,3801.6 L977.0,3799.9 L979.0,3798.1 L981.0,3796.3 L983.0,3794.4 L985.0,3792.4 L987.0,3790.4 L989.0,3788.3 L991.0,3786.1 L993.0,3783.9 L995.0,3781.6 L997.0,3779.2 L999.0,3776.7 L1001.0,3774.2 L1003.0,3771.6 L1005.0,3769.0 L1007.0,3766.2 L1009.0,3763.4 L1011.0,3760.5 L1013.0,3757.5 L1015.0,3754.5 L1017.0,3751.3 L1019.0,3748.1 L1021.0,3744.8 L1023.0,3741.5 L1025.0,3738.0 L1027.0,3734.5 L1029.0,3730.8 L1031.0,3727.1 L1033.0,3723.3 L1035.0,3719.5 L1037.0,3715.5 L1039.0,3711.4 L1041.0,3707.3 L1043.0,3703.1 L1045.0,3698.8 L1047.0,3694.4 L1049.0,3689.9 L1051.0,3685.4 L1053.0,3680.7 L1055.0,3676.0 L1057.0,3671.2 L1059.0,3666.3 L1061.0,3661.3 L1063.0,3656.2 L1065.0,3651.1 L1067.0,3645.9 L1069.0,3640.6 L1071.0,3635.2 L1073.0,3629.8 L1075.0,3624.3 L1077.0,3618.7 L1079.0,3613.0 L1081.0,3607.3 L1083.0,3601.6 L1085.0,3595.7 L1087.0,3589.9 L1089.0,3584.0 L1091.0,3578.0 L1093.0,3572.0 L1095.0,3566.0 L1097.0,3559.9 L1099.0,3553.8 L1101.0,3547.7 L1103.0,3541.6 L1105.0,3535.5 L1107.0,3529.4 L1109.0,3523.3 L1111.0,3517.3 L1113.0,3511.2 L1115.0,3505.3 L1117.0,3499.3 L1119.0,3493.4 L1121.0,3487.6 L1123.0,3481.9 L1125.0,3476.3 L1127.0,3470.8 L1129.0,3465.3 L1131.0,3460.1 L1133.0,3454.9 L1135.0,3449.9 L1137.0,3445.1 L1139.0,3440.5 L1141.0,3436.0 L1143.0,3431.7 L1145.0,3427.7 L1147.0,3423.9 L1149.0,3420.3 L1151.0,3417.0 L1153.0,3413.9 L1155.0,3411.1 L1157.0,3408.6 L1159.0,3406.4 L1161.0,3404.5 L1163.0,3402.9 L1165.0,3401.5 L1167.0,3400.6 L1169.0,3399.9 L1171.0,3399.6 L1173.0,3399.6 L1175.0,3399.9 L1177.0,3400.6 L1179.0,3401.6 L1181.0,3402.9 L1183.0,3404.6 L1185.0,3406.6 L1187.0,3408.9 L1189.0,3411.5 L1191.0,3414.4 L1193.0,3417.7 L1195.0,3421.2 L1197.0,3425.0 L1199.0,3429.1 L1201.0,3433.5 L1203.0,3438.1 L1205.0,3442.9 L1207.0,3448.0 L1209.0,3453.3 L1211.0,3458.8 L1213.0,3464.5 L1215.0,3470.4 L1217.0,3476.5 L1219.0,3482.7 L1221.0,3489.0 L1223.0,3495.5 L1225.0,3502.2 L1227.0,3508.9 L1229.0,3515.7 L1231.0,3522.6 L1233.0,3529.6 L1235.0,3536.6 L1237.0,3543.7 L1239.0,3550.9 L1241.0,3558.1 L1243.0,3565.3 L1245.0,3572.5 L1247.0,3579.8 L1249.0,3587.0 L1251.0,3594.2 L1253.0,3601.4 L1255.0,3608.7 L1257.0,3615.8 L1259.0,3623.0 L1261.0,3630.1 L1263.0,3637.2 L1265.0,3644.2 L1267.0,3651.2 L1269.0,3658.1 L1271.0,3665.0 L1273.0,3671.8 L1275.0,3678.5 L1277.0,3685.2 L1279.0,3691.8 L1281.0,3698.3 L1283.0,3704.8 L1285.0,3711.2 L1287.0,3717.5 L1289.0,3723.7 L1291.0,3729.9 L1293.0,3735.9 L1295.0,3741.9 L1297.0,3747.8 L1299.0,3753.7 L1301.0,3759.4 L1303.0,3765.0 L1305.0,3770.6 L1307.0,3776.1 L1309.0,3781.5 L1311.0,3786.8 L1313.0,3792.0 L1315.0,3797.2 L1317.0,3802.2 L1319.0,3807.2 L1321.0,3812.1 L1323.0,3816.9 L1325.0,3821.6 L1327.0,3826.3 L1329.0,3830.9 L1331.0,3835.3 L1333.0,3839.7 L1335.0,3844.1 L1337.0,3848.3 L1339.0,3852.5 L1341.0,3856.6 L1343.0,3860.6 L1345.0,3864.5 L1347.0,3868.4 L1349.0,3872.2 L1351.0,3875.9 L1353.0,3879.6 L1355.0,3883.2 L1357.0,3886.7 L1359.0,3890.1 L1361.0,3893.5 L1363.0,3896.8 L1365.0,3900.1 L1367.0,3903.3 L1369.0,3906.4 L1371.0,3909.5 L1373.0,3912.5 L1375.0,3915.5 L1377.0,3918.4 L1379.0,3921.2 L1381.0,3924.0 L1383.0,3926.7 L1385.0,3929.4 L1387.0,3932.1 L1389.0,3934.6 L1391.0,3937.2 L1393.0,3939.7 L1395.0,3942.1 L1397.0,3944.5 L1399.0,3946.9 L1401.0,3949.2 L1403.0,3951.4" fill="none" stroke="#ff0000" stroke-width="5"/>
<path d="M337.0,3739.5 L339.0,3740.0 L341.0,3740.5 L343.0,3741.0 L345.0,3741.6 L347.0,3742.1 L349.0,3742.6 L351.0,3743.2 L353.0,3743.7 L355.0,3744.2 L357.0,3744.7 L359.0,3745.3 L361.0,3745.8 L363.0,3746.3 L365.0,3746.8 L367.0,3747.4 L369.0,3747.9 L371.0,3748.4 L373.0,3748.9 L375.0,3749.4 L377.0,3750.0 L379.0,3750.5 L381.0,3751.0 L383.0,3751.5 L385.0,3752.1 L387.0,3752.6 L389.0,3753.1 L391.0,3753.6 L393.0,3754.1 L395.0,3754.7 L397.0,3755.2 L399.0,3755.7 L401.0,3756.2 L403.0,3756.7 L405.0,3757.2 L407.0,3757.8 L409.0,3758.3 L411.0,3758.8 L413.0,3759.3 L415.0,3759.8 L417.0,3760.3 L419.0,3760.9 L421.0,3761.4 L423.0,3761.9 L425.0,3762.4 L427.0,3762.9 L429.0,3763.4 L431.0,3763.9 L433.0,3764.5 L435.0,3765.0 L437.0,3765.5 L439.0,3766.0 L441.0,3766.5 L443.0,3767.0 L445.0,3767.5 L447.0,3768.0 L449.0,3768.5 L451.0,3769.0 L453.0,3769.6 L455.0,3770.1 L457.0,3770.6 L459.0,3771.1 L461.0,3771.6 L463.0,3772.1 L465.0,3772.6 L467.0,3773.1 L469.0,3773.6 L471.0,3774.1 L473.0,3774.6 L475.0,3775.1 L477.0,3775.6 L479.0,3776.1 L481.0,3776.6 L483.0,3777.1 L485.0,3777.6 L487.0,3778.1 L489.0,3778.6 L491.0,3779.1 L493.0,3779.6 L495.0,3780.1 L497.0,3780.6 L499.0,3781.1 L501.0,3781.6 L503.0,3782.1 L505.0,3782.6 L507.0,3783.1 L509.0,3783.6 L511.0,3784.1 L513.0,3784.5 L515.0,3785.0 L517.0,3785.5 L519.0,3786.0 L521.0,3786.5 L523.0,3787.0 L525.0,3787.5 L527.0,3788.0 L529.0,3788.5 L531.0,3788.9 L533.0,3789.4 L535.0,3789.9 L537.0,3790.4 L539.0,3790.9 L541.0,3791.4 L543.0,3791.8 L545.0,3792.3 L547.0,3792.8 L549.0,3793.3 L551.0,3793.7 L553.0,3794.2 L555.0,3794.7 L557.0,3795.2 L559.0,3795.7 L561.0,3796.1 L563.0,3796.6 L565.0,3797.1 L567.0,3797.5 L569.0,3798.0 L571.0,3798.5 L573.0,3798.9 L575.0,3799.4 L577.0,3799.9 L579.0,3800.3 L581.0,3800.8 L583.0,3801.3 L585.0,3801.7 L587.0,3802.2 L589.0,3802.7 L591.0,3803.1 L593.0,3803.6 L595.0,3804.0 L597.0,3804.5 L599.0,3804.9 L601.0,3805.4 L603.0,3805.9 L605.0,3806.3 L607.0,3806.8 L609.0,3807.2 L611.0,3807.7 L613.0,3808.1 L615.0,3808.5 L617.0,3809.0 L619.0,3809.4 L621.0,3809.9 L623.0,3810.3 L625.0,3810.8 L627.0,3811.2 L629.0,3811.6 L631.0,3812.1 L633.0,3812.5 L635.0,3812.9 L637.0,3813.4 L639.0,3813.8 L641.0,3814.2 L643.0,3814.7 L645.0,3815.1 L647.0,3815.5 L649.0,3815.9 L651.0,3816.3 L653.0,3816.8 L655.0,3817.2 L657.0,3817.6 L659.0,3818.0 L661.0,3818.4 L663.0,3818.8 L665.0,3819.3 L667.0,3819.7 L669.0,3820.1 L671.0,3820.5 L673.0,3820.9 L675.0,3821.3 L677.0,3821.7 L679.0,3822.1 L681.0,3822.5 L683.0,3822.9 L685.0,3823.3 L687.0,3823.6 L689.0,3824.0 L691.0,3824.4 L693.0,3824.8 L695.0,3825.2 L697.0,3825.6 L699.0,3825.9 L701.0,3826.3 L703.0,3826.7 L705.0,3827.0 L707.0,3827.4 L709.0,3827.8 L711.0,3828.1 L713.0,3828.5 L715.0,3828.9 L717.0,3829.2 L719.0,3829.6 L721.0,3829.9 L723.0,3830.3 L725.0,3830.6 L727.0,3831.0 L729.0,3831.3 L731.0,3831.6 L733.0,3832.0 L735.0,3832.3 L737.0,3832.6 L739.0,3832.9 L741.0,3833.3 L743.0,3833.6 L745.0,3833.9 L747.0,3834.2 L749.0,3834.5 L751.0,3834.8 L753.0,3835.1 L755.0,3835.4 L757.0,3835.7 L759.0,3836.0 L761.0,3836.3 L763.0,3836.6 L765.0,3836.9 L767.0,3837.1 L769.0,3837.4 L771.0,3837.7 L773.0,3837.9 L775.0,3838.2 L777.0,3838.5 L779.0,3838.7 L781.0,3839.0 L783.0,3839.2 L785.0,3839.4 L787.0,3839.7 L789.0,3839.9 L791.0,3840.1 L793.0,3840.3 L795.0,3840.6 L797.0,3840.8 L799.0,3841.0 L801.0,3841.2 L803.0,3841.3 L805.0,3841.5 L807.0,3841.7 L809.0,3841.9 L811.0,3842.0 L813.0,3842.2 L815.0,3842.4 L817.0,3842.5 L819.0,3842.6 L821.0,3842.8 L823.0,3842.9 L825.0,3843.0 L827.0,3843.1 L829.0,3843.2 L831.0,3843.3 L833.0,3843.4 L835.0,3843.5 L837.0,3843.6 L839.0,3843.6 L841.0,3843.7 L843.0,3843.7 L845.0,3843.8 L847.0,3843.8 L849.0,3843.8 L851.0,3843.8 L853.0,3843.8 L855.0,3843.8 L857.0,3843.7 L859.0,3843.7 L861.0,3843.6 L863.0,3843.6 L865.0,3843.5 L867.0,3843.4 L869.0,3843.3 L871.0,3843.2 L873.0,3843.1 L875.0,3842.9 L877.0,3842.7 L879.0,3842.6 L881.0,3842.4 L883.0,3842.2 L885.0,3841.9 L887.0,3841.7 L889.0,3841.4 L891.0,3841.2 L893.0,3840.9 L895.0,3840.5 L897.0,3840.2 L899.0,3839.8 L901.0,3839.5 L903.0,3839.1 L905.0,3838.6 L907.0,3838.2 L909.0,3837.7 L911.0,3837.2 L913.0,3836.7 L915.0,3836.1 L917.0,3835.6 L919.0,3835.0 L921.0,3834.3 L923.0,3833.7 L925.0,3833.0 L927.0,3832.3 L929.0,3831.5 L931.0,3830.7 L933.0,3829.9 L935.0,3829.1 L937.0,3828.2 L939.0,3827.3 L941.0,3826.3 L943.0,3825.3 L945.0,3824.3 L947.0,3823.2 L949.0,3822.1 L951.0,3820.9 L953.0,3819.7 L955.0,3818.5 L957.0,3817.2 L959.0,3815.9 L961.0,3814.5 L963.0,3813.0 L965.0,3811.6 L967.0,3810.0 L969.0,3808.4 L971.0,3806.8 L973.0,3805.1 L975.0,3803.4 L977.0,3801.6 L979.0,3799.7 L981.0,3797.8 L983.0,3795.8 L985.0,3793.8 L987.0,3791.7 L989.0,3789.5 L991.0,3787.3 L993.0,3785.0 L995.0,3782.6 L997.0,3780.2 L999.0,3777.7 L1001.0,3775.1 L1003.0,3772.5 L1005.0,3769.8 L1007.0,3767.0 L1009.0,3764.1 L1011.0,3761.2 L1013.0,3758.2 L1015.0,3755.1 L1017.0,3752.0 L1019.0,3748.7 L1021.0,3745.4 L1023.0,3742.0 L1025.0,3738.5 L1027.0,3735.0 L1029.0,3731.3 L1031.0,3727.6 L1033.0,3723.8 L1035.0,3719.9 L1037.0,3715.9 L1039.0,3711.8 L1041.0,3707.7 L1043.0,3703.5 L1045.0,3699.1 L1047.0,3694.7 L1049.0,3690.2 L1051.0,3685.7 L1053.0,3681.0 L1055.0,3676.3 L1057.0,3671.4 L1059.0,3666.5 L1061.0,3661.6 L1063.0,3656.5 L1065.0,3651.3 L1067.0,3646.1 L1069.0,3640.8 L1071.0,3635.4 L1073.0,3630.0 L1075.0,3624.5 L1077.0,3618.9 L1079.0,3613.2 L1081.0,3607.5 L1083.0,3601.8 L1085.0,3595.9 L1087.0,3590.1 L1089.0,3584.1 L1091.0,3578.2 L1093.0,3572.2 L1095.0,3566.1 L1097.0,3560.1 L1099.0,3554.0 L1101.0,3547.9 L1103.0,3541.8 L1105.0,3535.7 L1107.0,3529.6 L1109.0,3523.5 L1111.0,3517.4 L1113.0,3511.4 L1115.0,3505.4 L1117.0,3499.5 L1119.0,3493.6 L1121.0,3487.8 L1123.0,3482.0 L1125.0,3476.4 L1127.0,3470.9 L1129.0,3465.5 L1131.0,3460.2 L1133.0,3455.0 L1135.0,3450.1 L1137.0,3445.2 L1139.0,3440.6 L1141.0,3436.1 L1143.0,3431.9 L1145.0,3427.8 L1147.0,3424.0 L1149.0,3420.4 L1151.0,3417.1 L1153.0,3414.0 L1155.0,3411.2 L1157.0,3408.7 L1159.0,3406.5 L1161.0,3404.6 L1163.0,3403.0 L1165.0,3401.7 L1167.0,3400.7 L1169.0,3400.0 L1171.0,3399.7 L1173.0,3399.7 L1175.0,3400.0 L1177.0,3400.7 L1179.0,3401.7 L1181.0,3403.0 L1183.0,3404.7 L1185.0,3406.7 L1187.0,3409.0 L1189.0,3411.6 L1191.0,3414.5 L1193.0,3417.8 L1195.0,3421.3 L1197.0,3425.1 L1199.0,3429.2 L1201.0,3433.5 L1203.0,3438.2 L1205.0,3443.0 L1207.0,3448.1 L1209.0,3453.4 L1211.0,3458.9 L1213.0,3464.6 L1215.0,3470.5 L1217.0,3476.6 L1219.0,3482.8 L1221.0,3489.1 L1223.0,3495.6 L1225.0,3502.2 L1227.0,3509.0 L1229.0,3515.8 L1231.0,3522.7 L1233.0,3529.7 L1235.0,3536.7 L1237.0,3543.8 L1239.0,3551.0 L1241.0,3558.2 L1243.0,3565.4 L1245.0,3572.6 L1247.0,3579.8 L1249.0,3587.1 L1251.0,3594.3 L1253.0,3601.5 L1255.0,3608.7 L1257.0,3615.9 L1259.0,3623.1 L1261.0,3630.2 L1263.0,3637.2 L1265.0,3644.3 L1267.0,3651.2 L1269.0,3658.2 L1271.0,3665.0 L1273.0,3671.8 L1275.0,3678.6 L1277.0,3685.3 L1279.0,3691.9 L1281.0,3698.4 L1283.0,3704.9 L1285.0,3711.2 L1287.0,3717.6 L1289.0,3723.8 L1291.0,3729.9 L1293.0,3736.0 L1295.0,3742.0 L1297.0,3747.9 L1299.0,3753.7 L1301.0,3759.5 L1303.0,3765.1 L1305.0,3770.7 L1307.0,3776.2 L1309.0,3781.6 L1311.0,3786.9 L1313.0,3792.1 L1315.0,3797.3 L1317.0,3802.3 L1319.0,3807.3 L1321.0,3812.2 L1323.0,3817.0 L1325.0,3821.7 L1327.0,3826.4 L1329.0,3830.9 L1331.0,3835.4 L1333.0,3839.8 L1335.0,3844.1 L1337.0,3848.4 L1339.0,3852.5 L1341.0,3856.6 L1343.0,3860.7 L1345.0,3864.6 L1347.0,3868.5 L1349.0,3872.3 L1351.0,3876.0 L1353.0,3879.6 L1355.0,3883.2 L1357.0,3886.8 L1359.0,3890.2 L1361.0,3893.6 L1363.0,3896.9 L1365.0,3900.2 L1367.0,3903.4 L1369.0,3906.5 L1371.0,3909.6 L1373.0,3912.6 L1375.0,3915.5 L1377.0,3918.4 L1379.0,3921.3 L1381.0,3924.1 L1383.0,3926.8 L1385.0,3929.5 L1387.0,3932.1 L1389.0,3934.7 L1391.0,3937.2 L1393.0,3939.7 L1395.0,3942.2 L1397.0,3944.6 L1399.0,3946.9 L1401.0,3949.2 L1403.0,3951.5" fill="none" stroke="#0000ff" stroke-width="4.5" stroke-dasharray="7.5 14.5" stroke-linecap="round"/>
<rect x="40" y="2910" width="135.5" height="193" fill="#000"/>
<text x="69.5" y="3056.0" font-size="136" fill="#fff" >c</text>
<rect x="858.7" y="3071.9" width="19.2" height="19.2" fill="#fff" stroke="#000" stroke-width="1.8"/>
<text x="968.6" y="3108.9" font-size="89" fill="#000" >Sn 3d</text>
<text x="150.0" y="4230.5" font-size="75.5" fill="#000" >480</text>
<text x="448.4" y="4230.5" font-size="75.5" fill="#000" >485</text>
<text x="746.7" y="4230.5" font-size="75.5" fill="#000" >490</text>
<text x="1045.1" y="4230.5" font-size="75.5" fill="#000" >495</text>
<text x="1341.9" y="4230.5" font-size="75.5" fill="#000" >500</text>
<text x="449.1" y="4360.8" font-size="101.5" fill="#000" >Binding Energy (eV)</text>
<text transform="translate(117.8,3925.6) rotate(-90)" x="0" y="0" font-size="101.5">XPS Intensity (a.u.)</text>
</svg></body></html>
